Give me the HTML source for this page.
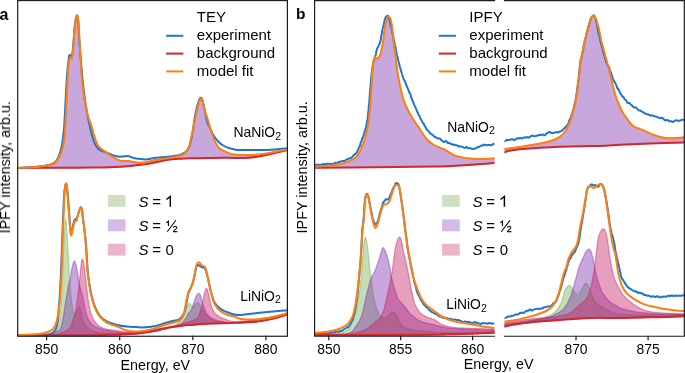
<!DOCTYPE html>
<html><head><meta charset="utf-8"><style>
html,body{margin:0;padding:0;background:#fff;}
svg{display:block;}
text{font-family:"Liberation Sans",sans-serif;}
</style></head><body>
<svg width="685" height="373" viewBox="0 0 685 373">
<rect width="685" height="373" fill="#fff"/>
<defs><clipPath id="ca"><rect x="17.3" y="0.5" width="270" height="335.5"/></clipPath><clipPath id="cbl"><rect x="314.5" y="0.5" width="180" height="335.5"/></clipPath><clipPath id="cbr"><rect x="504.5" y="0.5" width="180" height="335.5"/></clipPath></defs>
<g clip-path="url(#ca)"><path d="M17.3,167.9 L17.8,167.9 L18.3,167.9 L18.8,167.9 L19.3,167.9 L19.8,167.9 L20.3,167.8 L20.8,167.8 L21.3,167.8 L21.8,167.8 L22.3,167.8 L22.8,167.8 L23.3,167.8 L23.8,167.8 L24.3,167.8 L24.8,167.7 L25.3,167.7 L25.8,167.7 L26.3,167.7 L26.8,167.7 L27.3,167.7 L27.8,167.6 L28.3,167.6 L28.8,167.6 L29.3,167.5 L29.8,167.5 L30.3,167.5 L30.8,167.4 L31.3,167.4 L31.8,167.4 L32.3,167.3 L32.8,167.3 L33.3,167.2 L33.8,167.2 L34.3,167.1 L34.8,167.1 L35.3,167.0 L35.8,167.0 L36.3,166.9 L36.8,166.8 L37.3,166.8 L37.8,166.7 L38.3,166.7 L38.8,166.6 L39.3,166.5 L39.8,166.5 L40.3,166.4 L40.8,166.3 L41.3,166.3 L41.8,166.2 L42.3,166.1 L42.8,166.1 L43.3,166.0 L43.8,165.9 L44.3,165.9 L44.8,165.8 L45.3,165.7 L45.8,165.6 L46.3,165.5 L46.8,165.5 L47.3,165.4 L47.8,165.3 L48.3,165.2 L48.8,165.1 L49.3,165.0 L49.8,164.9 L50.3,164.8 L50.8,164.7 L51.3,164.5 L51.8,164.4 L52.3,164.2 L52.8,164.0 L53.3,163.8 L53.8,163.6 L54.3,163.4 L54.8,163.0 L55.3,162.7 L55.8,162.2 L56.3,161.7 L56.8,161.1 L57.3,160.4 L57.8,159.6 L58.3,158.7 L58.8,157.8 L59.3,156.8 L59.8,155.7 L60.3,154.6 L60.8,153.4 L61.3,152.2 L61.8,150.7 L62.3,149.2 L62.8,147.4 L63.3,145.5 L63.8,142.6 L64.3,138.2 L64.8,132.3 L65.3,125.0 L65.8,116.2 L66.3,106.2 L66.8,95.7 L67.3,84.1 L67.8,74.7 L68.3,68.0 L68.8,63.2 L69.3,60.0 L69.8,58.3 L70.3,57.5 L70.8,57.5 L71.3,58.4 L71.8,58.5 L72.3,56.2 L72.8,52.0 L73.3,46.4 L73.8,40.0 L74.3,32.9 L74.8,26.5 L75.3,22.2 L75.8,19.0 L76.3,16.8 L76.8,15.7 L77.3,15.8 L77.8,17.1 L78.3,19.8 L78.8,25.6 L79.3,35.9 L79.8,45.8 L80.3,55.1 L80.8,63.1 L81.3,70.4 L81.8,76.7 L82.3,82.0 L82.8,86.8 L83.3,91.2 L83.8,95.2 L84.3,98.7 L84.8,101.8 L85.3,104.5 L85.8,107.1 L86.3,109.4 L86.8,111.6 L87.3,113.7 L87.8,115.6 L88.3,117.4 L88.8,118.9 L89.3,120.2 L89.8,121.4 L90.3,122.6 L90.8,123.8 L91.3,125.3 L91.8,127.1 L92.3,129.0 L92.8,131.0 L93.3,133.0 L93.8,134.7 L94.3,136.3 L94.8,137.8 L95.3,139.3 L95.8,140.8 L96.3,142.1 L96.8,143.4 L97.3,144.4 L97.8,145.3 L98.3,146.1 L98.8,146.7 L99.3,147.2 L99.8,147.7 L100.3,148.1 L100.8,148.4 L101.3,148.8 L101.8,149.2 L102.3,149.6 L102.8,150.0 L103.3,150.4 L103.8,150.8 L104.3,151.1 L104.8,151.4 L105.3,151.8 L105.8,152.1 L106.3,152.5 L106.8,152.8 L107.3,153.2 L107.8,153.5 L108.3,153.9 L108.8,154.2 L109.3,154.6 L109.8,154.9 L110.3,155.3 L110.8,155.6 L111.3,156.0 L111.8,156.3 L112.3,156.6 L112.8,156.9 L113.3,157.2 L113.8,157.5 L114.3,157.8 L114.8,158.1 L115.3,158.4 L115.8,158.6 L116.3,158.9 L116.8,159.2 L117.3,159.4 L117.8,159.7 L118.3,159.9 L118.8,160.2 L119.3,160.4 L119.8,160.6 L120.3,160.8 L120.8,160.8 L121.3,160.9 L121.8,160.9 L122.3,161.0 L122.8,161.0 L123.3,161.0 L123.8,160.9 L124.3,160.9 L124.8,160.9 L125.3,160.9 L125.8,160.9 L126.3,160.9 L126.8,160.9 L127.3,160.9 L127.8,160.9 L128.3,161.0 L128.8,161.0 L129.3,161.1 L129.8,161.2 L130.3,161.3 L130.8,161.4 L131.3,161.5 L131.8,161.6 L132.3,161.7 L132.8,161.8 L133.3,161.9 L133.8,162.0 L134.3,162.1 L134.8,162.2 L135.3,162.3 L135.8,162.4 L136.3,162.5 L136.8,162.6 L137.3,162.6 L137.8,162.6 L138.3,162.7 L138.8,162.7 L139.3,162.7 L139.8,162.7 L140.3,162.7 L140.8,162.7 L141.3,162.7 L141.8,162.6 L142.3,162.6 L142.8,162.6 L143.3,162.5 L143.8,162.5 L144.3,162.4 L144.8,162.4 L145.3,162.3 L145.8,162.2 L146.3,162.2 L146.8,162.1 L147.3,162.0 L147.8,161.9 L148.3,161.8 L148.8,161.6 L149.3,161.5 L149.8,161.4 L150.3,161.3 L150.8,161.1 L151.3,161.0 L151.8,160.9 L152.3,160.7 L152.8,160.6 L153.3,160.5 L153.8,160.3 L154.3,160.2 L154.8,160.1 L155.3,160.0 L155.8,159.9 L156.3,159.8 L156.8,159.7 L157.3,159.6 L157.8,159.6 L158.3,159.5 L158.8,159.4 L159.3,159.4 L159.8,159.3 L160.3,159.2 L160.8,159.2 L161.3,159.1 L161.8,159.1 L162.3,159.0 L162.8,159.0 L163.3,158.9 L163.8,158.9 L164.3,158.8 L164.8,158.8 L165.3,158.7 L165.8,158.6 L166.3,158.6 L166.8,158.5 L167.3,158.4 L167.8,158.3 L168.3,158.2 L168.8,158.2 L169.3,158.1 L169.8,158.0 L170.3,157.9 L170.8,157.8 L171.3,157.7 L171.8,157.6 L172.3,157.5 L172.8,157.4 L173.3,157.3 L173.8,157.2 L174.3,157.1 L174.8,157.0 L175.3,156.9 L175.8,156.8 L176.3,156.7 L176.8,156.5 L177.3,156.4 L177.8,156.3 L178.3,156.2 L178.8,156.0 L179.3,155.9 L179.8,155.8 L180.3,155.6 L180.8,155.5 L181.3,155.3 L181.8,155.1 L182.3,154.9 L182.8,154.6 L183.3,154.3 L183.8,154.0 L184.3,153.6 L184.8,153.3 L185.3,152.8 L185.8,152.3 L186.3,151.8 L186.8,151.1 L187.3,150.3 L187.8,149.5 L188.3,148.5 L188.8,147.3 L189.3,145.9 L189.8,144.3 L190.3,142.3 L190.8,139.8 L191.3,137.4 L191.8,135.0 L192.3,132.6 L192.8,130.1 L193.3,127.7 L193.8,125.2 L194.3,122.8 L194.8,120.3 L195.3,117.9 L195.8,115.4 L196.3,113.0 L196.8,110.7 L197.3,108.6 L197.8,106.7 L198.3,105.0 L198.8,103.4 L199.3,101.9 L199.8,100.5 L200.3,99.3 L200.8,98.6 L201.3,98.4 L201.8,98.7 L202.3,99.8 L202.8,101.6 L203.3,104.1 L203.8,106.7 L204.3,109.0 L204.8,110.8 L205.3,112.3 L205.8,113.8 L206.3,115.2 L206.8,116.7 L207.3,118.3 L207.8,119.9 L208.3,121.5 L208.8,123.2 L209.3,124.9 L209.8,126.6 L210.3,128.3 L210.8,129.9 L211.3,131.5 L211.8,133.0 L212.3,134.4 L212.8,135.8 L213.3,137.2 L213.8,138.5 L214.3,139.7 L214.8,140.9 L215.3,142.0 L215.8,143.1 L216.3,144.0 L216.8,144.9 L217.3,145.7 L217.8,146.5 L218.3,147.1 L218.8,147.7 L219.3,148.2 L219.8,148.7 L220.3,149.0 L220.8,149.4 L221.3,149.7 L221.8,150.0 L222.3,150.3 L222.8,150.5 L223.3,150.8 L223.8,151.0 L224.3,151.2 L224.8,151.4 L225.3,151.6 L225.8,151.9 L226.3,152.1 L226.8,152.3 L227.3,152.5 L227.8,152.7 L228.3,152.9 L228.8,153.0 L229.3,153.2 L229.8,153.4 L230.3,153.6 L230.8,153.7 L231.3,153.9 L231.8,154.0 L232.3,154.1 L232.8,154.2 L233.3,154.3 L233.8,154.4 L234.3,154.5 L234.8,154.6 L235.3,154.6 L235.8,154.7 L236.3,154.7 L236.8,154.8 L237.3,154.8 L237.8,154.8 L238.3,154.9 L238.8,154.9 L239.3,154.9 L239.8,154.9 L240.3,155.0 L240.8,155.0 L241.3,155.0 L241.8,155.0 L242.3,155.0 L242.8,155.0 L243.3,155.0 L243.8,155.0 L244.3,155.0 L244.8,155.0 L245.3,155.0 L245.8,155.0 L246.3,155.0 L246.8,155.0 L247.3,155.0 L247.8,155.0 L248.3,155.0 L248.8,155.0 L249.3,154.9 L249.8,154.9 L250.3,154.9 L250.8,154.9 L251.3,154.9 L251.8,154.9 L252.3,154.9 L252.8,154.9 L253.3,154.8 L253.8,154.8 L254.3,154.8 L254.8,154.8 L255.3,154.8 L255.8,154.7 L256.3,154.7 L256.8,154.7 L257.3,154.7 L257.8,154.6 L258.3,154.6 L258.8,154.6 L259.3,154.5 L259.8,154.5 L260.3,154.4 L260.8,154.4 L261.3,154.3 L261.8,154.2 L262.3,154.2 L262.8,154.1 L263.3,154.0 L263.8,154.0 L264.3,153.9 L264.8,153.8 L265.3,153.7 L265.8,153.6 L266.3,153.5 L266.8,153.5 L267.3,153.4 L267.8,153.3 L268.3,153.2 L268.8,153.1 L269.3,153.0 L269.8,152.9 L270.3,152.8 L270.8,152.6 L271.3,152.5 L271.8,152.4 L272.3,152.3 L272.8,152.2 L273.3,152.1 L273.8,151.9 L274.3,151.8 L274.8,151.7 L275.3,151.6 L275.8,151.5 L276.3,151.4 L276.8,151.3 L277.3,151.2 L277.8,151.1 L278.3,151.0 L278.8,150.9 L279.3,150.8 L279.8,150.7 L280.3,150.7 L280.8,150.6 L281.3,150.5 L281.8,150.4 L282.3,150.4 L282.8,150.3 L283.3,150.2 L283.8,150.1 L284.3,150.1 L284.8,150.0 L285.3,149.9 L285.8,149.8 L286.3,149.8 L286.8,149.7 L287.3,149.6 L287.8,149.5 L287.8,150.0 L287.3,150.2 L286.8,150.3 L286.3,150.4 L285.8,150.5 L285.3,150.6 L284.8,150.7 L284.3,150.8 L283.8,151.0 L283.3,151.1 L282.8,151.2 L282.3,151.3 L281.8,151.4 L281.3,151.5 L280.8,151.7 L280.3,151.8 L279.8,151.9 L279.3,152.0 L278.8,152.1 L278.3,152.2 L277.8,152.3 L277.3,152.5 L276.8,152.6 L276.3,152.7 L275.8,152.8 L275.3,152.9 L274.8,153.1 L274.3,153.2 L273.8,153.3 L273.3,153.4 L272.8,153.6 L272.3,153.7 L271.8,153.8 L271.3,153.9 L270.8,154.0 L270.3,154.1 L269.8,154.2 L269.3,154.3 L268.8,154.5 L268.3,154.6 L267.8,154.7 L267.3,154.8 L266.8,154.9 L266.3,155.0 L265.8,155.1 L265.3,155.2 L264.8,155.3 L264.3,155.4 L263.8,155.5 L263.3,155.6 L262.8,155.7 L262.3,155.8 L261.8,155.9 L261.3,156.0 L260.8,156.1 L260.3,156.2 L259.8,156.3 L259.3,156.4 L258.8,156.5 L258.3,156.5 L257.8,156.6 L257.3,156.7 L256.8,156.8 L256.3,156.8 L255.8,156.9 L255.3,157.0 L254.8,157.0 L254.3,157.1 L253.8,157.2 L253.3,157.2 L252.8,157.3 L252.3,157.3 L251.8,157.4 L251.3,157.4 L250.8,157.5 L250.3,157.5 L249.8,157.6 L249.3,157.6 L248.8,157.6 L248.3,157.7 L247.8,157.7 L247.3,157.7 L246.8,157.8 L246.3,157.8 L245.8,157.8 L245.3,157.8 L244.8,157.9 L244.3,157.9 L243.8,157.9 L243.3,157.9 L242.8,157.9 L242.3,157.9 L241.8,157.9 L241.3,157.9 L240.8,158.0 L240.3,158.0 L239.8,157.9 L239.3,157.9 L238.8,157.9 L238.3,157.9 L237.8,157.9 L237.3,157.9 L236.8,157.9 L236.3,157.9 L235.8,157.9 L235.3,157.9 L234.8,157.9 L234.3,157.9 L233.8,157.9 L233.3,157.9 L232.8,157.8 L232.3,157.8 L231.8,157.8 L231.3,157.8 L230.8,157.8 L230.3,157.8 L229.8,157.8 L229.3,157.8 L228.8,157.8 L228.3,157.8 L227.8,157.8 L227.3,157.8 L226.8,157.8 L226.3,157.8 L225.8,157.8 L225.3,157.8 L224.8,157.8 L224.3,157.8 L223.8,157.8 L223.3,157.8 L222.8,157.8 L222.3,157.8 L221.8,157.8 L221.3,157.8 L220.8,157.8 L220.3,157.9 L219.8,157.9 L219.3,157.9 L218.8,157.9 L218.3,157.9 L217.8,157.9 L217.3,157.9 L216.8,157.9 L216.3,157.9 L215.8,157.9 L215.3,157.9 L214.8,157.9 L214.3,157.9 L213.8,157.9 L213.3,158.0 L212.8,158.0 L212.3,158.0 L211.8,158.0 L211.3,158.0 L210.8,158.0 L210.3,158.0 L209.8,158.0 L209.3,158.0 L208.8,158.0 L208.3,158.0 L207.8,158.1 L207.3,158.1 L206.8,158.1 L206.3,158.1 L205.8,158.1 L205.3,158.1 L204.8,158.1 L204.3,158.1 L203.8,158.1 L203.3,158.1 L202.8,158.1 L202.3,158.2 L201.8,158.2 L201.3,158.2 L200.8,158.2 L200.3,158.2 L199.8,158.2 L199.3,158.2 L198.8,158.2 L198.3,158.2 L197.8,158.2 L197.3,158.3 L196.8,158.3 L196.3,158.3 L195.8,158.3 L195.3,158.3 L194.8,158.3 L194.3,158.3 L193.8,158.3 L193.3,158.3 L192.8,158.3 L192.3,158.4 L191.8,158.4 L191.3,158.4 L190.8,158.4 L190.3,158.4 L189.8,158.4 L189.3,158.4 L188.8,158.4 L188.3,158.4 L187.8,158.4 L187.3,158.5 L186.8,158.5 L186.3,158.5 L185.8,158.5 L185.3,158.5 L184.8,158.5 L184.3,158.5 L183.8,158.5 L183.3,158.6 L182.8,158.6 L182.3,158.6 L181.8,158.6 L181.3,158.6 L180.8,158.7 L180.3,158.7 L179.8,158.7 L179.3,158.7 L178.8,158.8 L178.3,158.8 L177.8,158.8 L177.3,158.9 L176.8,158.9 L176.3,158.9 L175.8,159.0 L175.3,159.0 L174.8,159.1 L174.3,159.1 L173.8,159.1 L173.3,159.2 L172.8,159.3 L172.3,159.3 L171.8,159.4 L171.3,159.4 L170.8,159.5 L170.3,159.6 L169.8,159.6 L169.3,159.7 L168.8,159.8 L168.3,159.9 L167.8,159.9 L167.3,160.0 L166.8,160.1 L166.3,160.2 L165.8,160.3 L165.3,160.4 L164.8,160.5 L164.3,160.6 L163.8,160.7 L163.3,160.8 L162.8,160.8 L162.3,160.9 L161.8,161.0 L161.3,161.1 L160.8,161.2 L160.3,161.3 L159.8,161.4 L159.3,161.5 L158.8,161.6 L158.3,161.7 L157.8,161.9 L157.3,162.0 L156.8,162.1 L156.3,162.2 L155.8,162.3 L155.3,162.4 L154.8,162.5 L154.3,162.6 L153.8,162.7 L153.3,162.9 L152.8,163.0 L152.3,163.1 L151.8,163.2 L151.3,163.3 L150.8,163.4 L150.3,163.4 L149.8,163.5 L149.3,163.6 L148.8,163.7 L148.3,163.8 L147.8,163.8 L147.3,163.9 L146.8,164.0 L146.3,164.0 L145.8,164.1 L145.3,164.2 L144.8,164.2 L144.3,164.3 L143.8,164.3 L143.3,164.4 L142.8,164.5 L142.3,164.5 L141.8,164.6 L141.3,164.6 L140.8,164.7 L140.3,164.8 L139.8,164.8 L139.3,164.9 L138.8,165.0 L138.3,165.0 L137.8,165.1 L137.3,165.1 L136.8,165.2 L136.3,165.3 L135.8,165.3 L135.3,165.4 L134.8,165.5 L134.3,165.5 L133.8,165.6 L133.3,165.6 L132.8,165.7 L132.3,165.8 L131.8,165.8 L131.3,165.9 L130.8,165.9 L130.3,166.0 L129.8,166.1 L129.3,166.1 L128.8,166.2 L128.3,166.2 L127.8,166.3 L127.3,166.4 L126.8,166.4 L126.3,166.4 L125.8,166.5 L125.3,166.5 L124.8,166.6 L124.3,166.6 L123.8,166.6 L123.3,166.7 L122.8,166.7 L122.3,166.7 L121.8,166.7 L121.3,166.8 L120.8,166.8 L120.3,166.8 L119.8,166.8 L119.3,166.9 L118.8,166.9 L118.3,166.9 L117.8,166.9 L117.3,166.9 L116.8,167.0 L116.3,167.0 L115.8,167.0 L115.3,167.0 L114.8,167.0 L114.3,167.1 L113.8,167.1 L113.3,167.1 L112.8,167.1 L112.3,167.1 L111.8,167.1 L111.3,167.2 L110.8,167.2 L110.3,167.2 L109.8,167.2 L109.3,167.2 L108.8,167.2 L108.3,167.2 L107.8,167.3 L107.3,167.3 L106.8,167.3 L106.3,167.3 L105.8,167.3 L105.3,167.3 L104.8,167.3 L104.3,167.3 L103.8,167.4 L103.3,167.4 L102.8,167.4 L102.3,167.4 L101.8,167.4 L101.3,167.4 L100.8,167.4 L100.3,167.4 L99.8,167.4 L99.3,167.4 L98.8,167.4 L98.3,167.4 L97.8,167.5 L97.3,167.5 L96.8,167.5 L96.3,167.5 L95.8,167.5 L95.3,167.5 L94.8,167.5 L94.3,167.5 L93.8,167.5 L93.3,167.5 L92.8,167.5 L92.3,167.5 L91.8,167.6 L91.3,167.6 L90.8,167.6 L90.3,167.6 L89.8,167.6 L89.3,167.6 L88.8,167.6 L88.3,167.6 L87.8,167.6 L87.3,167.6 L86.8,167.6 L86.3,167.6 L85.8,167.6 L85.3,167.6 L84.8,167.6 L84.3,167.7 L83.8,167.7 L83.3,167.7 L82.8,167.7 L82.3,167.7 L81.8,167.7 L81.3,167.7 L80.8,167.7 L80.3,167.7 L79.8,167.7 L79.3,167.7 L78.8,167.7 L78.3,167.7 L77.8,167.7 L77.3,167.7 L76.8,167.7 L76.3,167.7 L75.8,167.7 L75.3,167.7 L74.8,167.7 L74.3,167.7 L73.8,167.7 L73.3,167.7 L72.8,167.7 L72.3,167.7 L71.8,167.7 L71.3,167.7 L70.8,167.7 L70.3,167.7 L69.8,167.7 L69.3,167.7 L68.8,167.7 L68.3,167.7 L67.8,167.7 L67.3,167.7 L66.8,167.7 L66.3,167.7 L65.8,167.7 L65.3,167.7 L64.8,167.8 L64.3,167.8 L63.8,167.8 L63.3,167.8 L62.8,167.8 L62.3,167.8 L61.8,167.8 L61.3,167.8 L60.8,167.8 L60.3,167.8 L59.8,167.8 L59.3,167.8 L58.8,167.8 L58.3,167.8 L57.8,167.8 L57.3,167.8 L56.8,167.8 L56.3,167.8 L55.8,167.8 L55.3,167.8 L54.8,167.8 L54.3,167.8 L53.8,167.8 L53.3,167.8 L52.8,167.8 L52.3,167.8 L51.8,167.8 L51.3,167.8 L50.8,167.8 L50.3,167.8 L49.8,167.8 L49.3,167.8 L48.8,167.8 L48.3,167.8 L47.8,167.8 L47.3,167.8 L46.8,167.8 L46.3,167.8 L45.8,167.8 L45.3,167.8 L44.8,167.8 L44.3,167.8 L43.8,167.8 L43.3,167.8 L42.8,167.8 L42.3,167.8 L41.8,167.8 L41.3,167.8 L40.8,167.8 L40.3,167.8 L39.8,167.8 L39.3,167.8 L38.8,167.8 L38.3,167.8 L37.8,167.8 L37.3,167.8 L36.8,167.8 L36.3,167.8 L35.8,167.8 L35.3,167.8 L34.8,167.8 L34.3,167.8 L33.8,167.8 L33.3,167.9 L32.8,167.9 L32.3,167.9 L31.8,167.9 L31.3,167.9 L30.8,167.9 L30.3,167.9 L29.8,167.9 L29.3,167.9 L28.8,167.9 L28.3,167.9 L27.8,167.9 L27.3,167.9 L26.8,167.9 L26.3,167.9 L25.8,167.9 L25.3,167.9 L24.8,167.9 L24.3,167.9 L23.8,167.9 L23.3,167.9 L22.8,167.9 L22.3,167.9 L21.8,167.9 L21.3,167.9 L20.8,167.9 L20.3,167.9 L19.8,167.9 L19.3,167.9 L18.8,167.9 L18.3,167.9 L17.8,167.9 L17.3,167.9 Z" fill="rgb(125,45,175)" fill-opacity="0.42" stroke="rgb(125,45,175)" stroke-opacity="0.42" stroke-width="1"/></g>
<g clip-path="url(#cbl)"><path d="M314.5,166.8 L315.0,166.8 L315.5,166.7 L316.0,166.7 L316.5,166.6 L317.0,166.6 L317.5,166.6 L318.0,166.5 L318.5,166.5 L319.0,166.4 L319.5,166.4 L320.0,166.4 L320.5,166.3 L321.0,166.3 L321.5,166.2 L322.0,166.2 L322.5,166.2 L323.0,166.1 L323.5,166.1 L324.0,166.0 L324.5,166.0 L325.0,165.9 L325.5,165.9 L326.0,165.9 L326.5,165.8 L327.0,165.8 L327.5,165.7 L328.0,165.7 L328.5,165.6 L329.0,165.6 L329.5,165.5 L330.0,165.5 L330.5,165.4 L331.0,165.4 L331.5,165.3 L332.0,165.3 L332.5,165.2 L333.0,165.2 L333.5,165.1 L334.0,165.1 L334.5,165.0 L335.0,164.9 L335.5,164.8 L336.0,164.8 L336.5,164.7 L337.0,164.6 L337.5,164.5 L338.0,164.4 L338.5,164.3 L339.0,164.2 L339.5,164.1 L340.0,164.0 L340.5,163.9 L341.0,163.8 L341.5,163.7 L342.0,163.5 L342.5,163.4 L343.0,163.3 L343.5,163.2 L344.0,163.0 L344.5,162.9 L345.0,162.8 L345.5,162.6 L346.0,162.5 L346.5,162.3 L347.0,162.1 L347.5,162.0 L348.0,161.8 L348.5,161.6 L349.0,161.4 L349.5,161.2 L350.0,161.0 L350.5,160.7 L351.0,160.5 L351.5,160.3 L352.0,160.0 L352.5,159.7 L353.0,159.4 L353.5,159.1 L354.0,158.8 L354.5,158.4 L355.0,158.0 L355.5,157.6 L356.0,157.2 L356.5,156.7 L357.0,156.1 L357.5,155.5 L358.0,154.8 L358.5,154.1 L359.0,153.3 L359.5,152.4 L360.0,151.3 L360.5,150.2 L361.0,148.9 L361.5,147.6 L362.0,146.4 L362.5,145.2 L363.0,144.0 L363.5,142.8 L364.0,141.5 L364.5,140.0 L365.0,138.3 L365.5,136.3 L366.0,134.2 L366.5,132.0 L367.0,129.9 L367.5,127.8 L368.0,125.4 L368.5,122.2 L369.0,118.0 L369.5,113.1 L370.0,107.9 L370.5,102.1 L371.0,95.3 L371.5,87.0 L372.0,78.2 L372.5,69.3 L373.0,63.9 L373.5,60.7 L374.0,58.8 L374.5,57.7 L375.0,57.2 L375.5,57.3 L376.0,57.8 L376.5,58.2 L377.0,58.3 L377.5,58.3 L378.0,58.2 L378.5,57.7 L379.0,57.0 L379.5,56.2 L380.0,55.2 L380.5,53.9 L381.0,51.9 L381.5,49.9 L382.0,47.5 L382.5,44.9 L383.0,42.0 L383.5,38.4 L384.0,33.5 L384.5,29.0 L385.0,26.2 L385.5,24.2 L386.0,22.1 L386.5,20.1 L387.0,18.5 L387.5,17.5 L388.0,16.8 L388.5,16.5 L389.0,16.6 L389.5,17.2 L390.0,18.0 L390.5,19.3 L391.0,21.2 L391.5,23.3 L392.0,26.0 L392.5,30.7 L393.0,37.0 L393.5,41.6 L394.0,45.2 L394.5,48.5 L395.0,52.0 L395.5,56.2 L396.0,60.7 L396.5,64.8 L397.0,68.6 L397.5,72.2 L398.0,75.4 L398.5,78.3 L399.0,80.9 L399.5,83.4 L400.0,85.8 L400.5,88.0 L401.0,90.2 L401.5,92.3 L402.0,94.4 L402.5,96.3 L403.0,98.1 L403.5,99.7 L404.0,101.2 L404.5,102.5 L405.0,103.8 L405.5,105.0 L406.0,106.2 L406.5,107.3 L407.0,108.4 L407.5,109.4 L408.0,110.4 L408.5,111.4 L409.0,112.3 L409.5,113.2 L410.0,114.1 L410.5,114.9 L411.0,115.8 L411.5,116.6 L412.0,117.4 L412.5,118.2 L413.0,119.0 L413.5,119.8 L414.0,120.5 L414.5,121.3 L415.0,122.0 L415.5,122.8 L416.0,123.5 L416.5,124.2 L417.0,124.9 L417.5,125.7 L418.0,126.4 L418.5,127.1 L419.0,127.8 L419.5,128.6 L420.0,129.3 L420.5,130.1 L421.0,130.9 L421.5,131.7 L422.0,132.5 L422.5,133.3 L423.0,134.1 L423.5,134.9 L424.0,135.6 L424.5,136.4 L425.0,137.1 L425.5,137.8 L426.0,138.4 L426.5,139.0 L427.0,139.5 L427.5,140.1 L428.0,140.6 L428.5,141.0 L429.0,141.5 L429.5,141.9 L430.0,142.3 L430.5,142.7 L431.0,143.1 L431.5,143.4 L432.0,143.8 L432.5,144.1 L433.0,144.4 L433.5,144.7 L434.0,145.0 L434.5,145.3 L435.0,145.5 L435.5,145.8 L436.0,146.0 L436.5,146.2 L437.0,146.4 L437.5,146.6 L438.0,146.8 L438.5,147.0 L439.0,147.2 L439.5,147.4 L440.0,147.6 L440.5,147.8 L441.0,148.0 L441.5,148.2 L442.0,148.4 L442.5,148.6 L443.0,148.8 L443.5,149.0 L444.0,149.3 L444.5,149.5 L445.0,149.8 L445.5,150.1 L446.0,150.4 L446.5,150.7 L447.0,151.0 L447.5,151.3 L448.0,151.7 L448.5,152.0 L449.0,152.4 L449.5,152.7 L450.0,153.0 L450.5,153.3 L451.0,153.6 L451.5,153.9 L452.0,154.2 L452.5,154.5 L453.0,154.7 L453.5,155.0 L454.0,155.2 L454.5,155.4 L455.0,155.6 L455.5,155.8 L456.0,155.9 L456.5,156.1 L457.0,156.2 L457.5,156.4 L458.0,156.5 L458.5,156.6 L459.0,156.7 L459.5,156.9 L460.0,157.0 L460.5,157.1 L461.0,157.2 L461.5,157.3 L462.0,157.4 L462.5,157.5 L463.0,157.5 L463.5,157.6 L464.0,157.7 L464.5,157.8 L465.0,157.9 L465.5,158.0 L466.0,158.0 L466.5,158.1 L467.0,158.2 L467.5,158.3 L468.0,158.3 L468.5,158.4 L469.0,158.5 L469.5,158.5 L470.0,158.6 L470.5,158.6 L471.0,158.7 L471.5,158.8 L472.0,158.8 L472.5,158.9 L473.0,158.9 L473.5,158.9 L474.0,159.0 L474.5,159.0 L475.0,159.0 L475.5,159.0 L476.0,159.0 L476.5,159.0 L477.0,159.0 L477.5,159.0 L478.0,159.0 L478.5,159.0 L479.0,159.0 L479.5,159.0 L480.0,159.0 L480.5,159.0 L481.0,159.0 L481.5,159.0 L482.0,159.0 L482.5,159.0 L483.0,159.0 L483.5,158.9 L484.0,158.9 L484.5,158.9 L485.0,158.9 L485.5,158.8 L486.0,158.8 L486.5,158.8 L487.0,158.8 L487.5,158.7 L488.0,158.7 L488.5,158.7 L489.0,158.6 L489.5,158.6 L490.0,158.6 L490.5,158.6 L491.0,158.5 L491.5,158.5 L492.0,158.5 L492.5,158.4 L493.0,158.4 L493.5,158.4 L494.0,158.3 L494.5,158.3 L494.5,163.0 L494.0,163.0 L493.5,163.1 L493.0,163.1 L492.5,163.2 L492.0,163.2 L491.5,163.3 L491.0,163.3 L490.5,163.3 L490.0,163.4 L489.5,163.4 L489.0,163.5 L488.5,163.5 L488.0,163.6 L487.5,163.6 L487.0,163.6 L486.5,163.7 L486.0,163.7 L485.5,163.8 L485.0,163.8 L484.5,163.9 L484.0,163.9 L483.5,163.9 L483.0,164.0 L482.5,164.0 L482.0,164.1 L481.5,164.1 L481.0,164.1 L480.5,164.2 L480.0,164.2 L479.5,164.3 L479.0,164.3 L478.5,164.3 L478.0,164.4 L477.5,164.4 L477.0,164.5 L476.5,164.5 L476.0,164.5 L475.5,164.6 L475.0,164.6 L474.5,164.6 L474.0,164.7 L473.5,164.7 L473.0,164.7 L472.5,164.8 L472.0,164.8 L471.5,164.8 L471.0,164.9 L470.5,164.9 L470.0,164.9 L469.5,165.0 L469.0,165.0 L468.5,165.0 L468.0,165.1 L467.5,165.1 L467.0,165.1 L466.5,165.2 L466.0,165.2 L465.5,165.2 L465.0,165.3 L464.5,165.3 L464.0,165.3 L463.5,165.4 L463.0,165.4 L462.5,165.4 L462.0,165.4 L461.5,165.5 L461.0,165.5 L460.5,165.5 L460.0,165.5 L459.5,165.6 L459.0,165.6 L458.5,165.6 L458.0,165.7 L457.5,165.7 L457.0,165.7 L456.5,165.7 L456.0,165.8 L455.5,165.8 L455.0,165.8 L454.5,165.8 L454.0,165.8 L453.5,165.9 L453.0,165.9 L452.5,165.9 L452.0,165.9 L451.5,166.0 L451.0,166.0 L450.5,166.0 L450.0,166.0 L449.5,166.1 L449.0,166.1 L448.5,166.1 L448.0,166.1 L447.5,166.2 L447.0,166.2 L446.5,166.2 L446.0,166.2 L445.5,166.2 L445.0,166.2 L444.5,166.3 L444.0,166.3 L443.5,166.3 L443.0,166.3 L442.5,166.3 L442.0,166.3 L441.5,166.3 L441.0,166.4 L440.5,166.4 L440.0,166.4 L439.5,166.4 L439.0,166.4 L438.5,166.4 L438.0,166.4 L437.5,166.4 L437.0,166.4 L436.5,166.5 L436.0,166.5 L435.5,166.5 L435.0,166.5 L434.5,166.5 L434.0,166.5 L433.5,166.5 L433.0,166.5 L432.5,166.5 L432.0,166.5 L431.5,166.5 L431.0,166.6 L430.5,166.6 L430.0,166.6 L429.5,166.6 L429.0,166.6 L428.5,166.6 L428.0,166.6 L427.5,166.6 L427.0,166.6 L426.5,166.6 L426.0,166.6 L425.5,166.6 L425.0,166.7 L424.5,166.7 L424.0,166.7 L423.5,166.7 L423.0,166.7 L422.5,166.7 L422.0,166.7 L421.5,166.7 L421.0,166.7 L420.5,166.7 L420.0,166.7 L419.5,166.7 L419.0,166.7 L418.5,166.8 L418.0,166.8 L417.5,166.8 L417.0,166.8 L416.5,166.8 L416.0,166.8 L415.5,166.8 L415.0,166.8 L414.5,166.8 L414.0,166.8 L413.5,166.8 L413.0,166.8 L412.5,166.8 L412.0,166.8 L411.5,166.8 L411.0,166.9 L410.5,166.9 L410.0,166.9 L409.5,166.9 L409.0,166.9 L408.5,166.9 L408.0,166.9 L407.5,166.9 L407.0,166.9 L406.5,166.9 L406.0,166.9 L405.5,166.9 L405.0,166.9 L404.5,166.9 L404.0,166.9 L403.5,167.0 L403.0,167.0 L402.5,167.0 L402.0,167.0 L401.5,167.0 L401.0,167.0 L400.5,167.0 L400.0,167.0 L399.5,167.0 L399.0,167.0 L398.5,167.0 L398.0,167.0 L397.5,167.0 L397.0,167.0 L396.5,167.0 L396.0,167.1 L395.5,167.1 L395.0,167.1 L394.5,167.1 L394.0,167.1 L393.5,167.1 L393.0,167.1 L392.5,167.1 L392.0,167.1 L391.5,167.1 L391.0,167.1 L390.5,167.1 L390.0,167.1 L389.5,167.1 L389.0,167.1 L388.5,167.1 L388.0,167.1 L387.5,167.2 L387.0,167.2 L386.5,167.2 L386.0,167.2 L385.5,167.2 L385.0,167.2 L384.5,167.2 L384.0,167.2 L383.5,167.2 L383.0,167.2 L382.5,167.2 L382.0,167.2 L381.5,167.2 L381.0,167.2 L380.5,167.2 L380.0,167.2 L379.5,167.2 L379.0,167.2 L378.5,167.3 L378.0,167.3 L377.5,167.3 L377.0,167.3 L376.5,167.3 L376.0,167.3 L375.5,167.3 L375.0,167.3 L374.5,167.3 L374.0,167.3 L373.5,167.3 L373.0,167.3 L372.5,167.3 L372.0,167.3 L371.5,167.3 L371.0,167.3 L370.5,167.3 L370.0,167.3 L369.5,167.3 L369.0,167.3 L368.5,167.4 L368.0,167.4 L367.5,167.4 L367.0,167.4 L366.5,167.4 L366.0,167.4 L365.5,167.4 L365.0,167.4 L364.5,167.4 L364.0,167.4 L363.5,167.4 L363.0,167.4 L362.5,167.4 L362.0,167.4 L361.5,167.4 L361.0,167.4 L360.5,167.4 L360.0,167.4 L359.5,167.4 L359.0,167.4 L358.5,167.4 L358.0,167.4 L357.5,167.4 L357.0,167.4 L356.5,167.4 L356.0,167.4 L355.5,167.5 L355.0,167.5 L354.5,167.5 L354.0,167.5 L353.5,167.5 L353.0,167.5 L352.5,167.5 L352.0,167.5 L351.5,167.5 L351.0,167.5 L350.5,167.5 L350.0,167.5 L349.5,167.5 L349.0,167.5 L348.5,167.5 L348.0,167.5 L347.5,167.5 L347.0,167.5 L346.5,167.5 L346.0,167.5 L345.5,167.5 L345.0,167.5 L344.5,167.5 L344.0,167.5 L343.5,167.5 L343.0,167.5 L342.5,167.5 L342.0,167.5 L341.5,167.5 L341.0,167.5 L340.5,167.5 L340.0,167.6 L339.5,167.6 L339.0,167.6 L338.5,167.6 L338.0,167.6 L337.5,167.6 L337.0,167.6 L336.5,167.6 L336.0,167.6 L335.5,167.6 L335.0,167.6 L334.5,167.6 L334.0,167.6 L333.5,167.6 L333.0,167.6 L332.5,167.6 L332.0,167.6 L331.5,167.6 L331.0,167.6 L330.5,167.6 L330.0,167.6 L329.5,167.6 L329.0,167.6 L328.5,167.6 L328.0,167.6 L327.5,167.6 L327.0,167.6 L326.5,167.6 L326.0,167.6 L325.5,167.6 L325.0,167.6 L324.5,167.6 L324.0,167.6 L323.5,167.6 L323.0,167.6 L322.5,167.7 L322.0,167.7 L321.5,167.7 L321.0,167.7 L320.5,167.7 L320.0,167.7 L319.5,167.7 L319.0,167.7 L318.5,167.7 L318.0,167.7 L317.5,167.7 L317.0,167.7 L316.5,167.7 L316.0,167.7 L315.5,167.7 L315.0,167.7 L314.5,167.7 Z" fill="rgb(125,45,175)" fill-opacity="0.42" stroke="rgb(125,45,175)" stroke-opacity="0.42" stroke-width="1"/></g>
<g clip-path="url(#cbr)"><path d="M504.5,149.0 L505.0,148.9 L505.5,148.9 L506.0,148.8 L506.5,148.7 L507.0,148.7 L507.5,148.6 L508.0,148.5 L508.5,148.5 L509.0,148.4 L509.5,148.3 L510.0,148.3 L510.5,148.2 L511.0,148.1 L511.5,148.0 L512.0,148.0 L512.5,147.9 L513.0,147.8 L513.5,147.8 L514.0,147.7 L514.5,147.6 L515.0,147.5 L515.5,147.5 L516.0,147.4 L516.5,147.3 L517.0,147.3 L517.5,147.2 L518.0,147.1 L518.5,147.0 L519.0,147.0 L519.5,146.9 L520.0,146.8 L520.5,146.7 L521.0,146.6 L521.5,146.6 L522.0,146.5 L522.5,146.4 L523.0,146.3 L523.5,146.3 L524.0,146.2 L524.5,146.1 L525.0,146.0 L525.5,145.9 L526.0,145.9 L526.5,145.8 L527.0,145.7 L527.5,145.6 L528.0,145.6 L528.5,145.5 L529.0,145.4 L529.5,145.3 L530.0,145.2 L530.5,145.1 L531.0,145.1 L531.5,145.0 L532.0,144.9 L532.5,144.8 L533.0,144.8 L533.5,144.7 L534.0,144.6 L534.5,144.5 L535.0,144.4 L535.5,144.4 L536.0,144.3 L536.5,144.2 L537.0,144.1 L537.5,144.1 L538.0,144.0 L538.5,143.9 L539.0,143.8 L539.5,143.7 L540.0,143.6 L540.5,143.5 L541.0,143.5 L541.5,143.4 L542.0,143.3 L542.5,143.2 L543.0,143.1 L543.5,143.0 L544.0,142.8 L544.5,142.7 L545.0,142.6 L545.5,142.5 L546.0,142.4 L546.5,142.2 L547.0,142.1 L547.5,141.9 L548.0,141.8 L548.5,141.7 L549.0,141.5 L549.5,141.4 L550.0,141.2 L550.5,141.0 L551.0,140.9 L551.5,140.7 L552.0,140.6 L552.5,140.4 L553.0,140.2 L553.5,140.0 L554.0,139.8 L554.5,139.7 L555.0,139.5 L555.5,139.3 L556.0,139.0 L556.5,138.8 L557.0,138.5 L557.5,138.3 L558.0,138.0 L558.5,137.6 L559.0,137.3 L559.5,136.9 L560.0,136.6 L560.5,136.3 L561.0,135.9 L561.5,135.5 L562.0,135.1 L562.5,134.6 L563.0,134.1 L563.5,133.5 L564.0,133.0 L564.5,132.3 L565.0,131.7 L565.5,131.0 L566.0,130.2 L566.5,129.4 L567.0,128.4 L567.5,127.5 L568.0,126.4 L568.5,125.3 L569.0,124.1 L569.5,122.8 L570.0,121.4 L570.5,120.0 L571.0,118.6 L571.5,117.1 L572.0,115.6 L572.5,113.9 L573.0,112.2 L573.5,110.4 L574.0,108.5 L574.5,106.4 L575.0,104.0 L575.5,101.5 L576.0,98.8 L576.5,95.9 L577.0,92.7 L577.5,89.0 L578.0,85.2 L578.5,81.3 L579.0,77.1 L579.5,72.4 L580.0,67.2 L580.5,62.0 L581.0,59.1 L581.5,56.6 L582.0,54.4 L582.5,52.0 L583.0,49.5 L583.5,46.9 L584.0,44.4 L584.5,42.1 L585.0,40.0 L585.5,38.1 L586.0,36.2 L586.5,34.2 L587.0,32.0 L587.5,29.9 L588.0,27.9 L588.5,26.0 L589.0,24.3 L589.5,22.6 L590.0,21.0 L590.5,19.5 L591.0,18.3 L591.5,17.4 L592.0,16.8 L592.5,16.3 L593.0,16.1 L593.5,16.0 L594.0,16.1 L594.5,16.5 L595.0,17.1 L595.5,17.9 L596.0,19.0 L596.5,20.3 L597.0,22.0 L597.5,23.8 L598.0,25.7 L598.5,27.7 L599.0,29.8 L599.5,32.0 L600.0,34.4 L600.5,36.9 L601.0,39.3 L601.5,41.6 L602.0,43.7 L602.5,45.6 L603.0,47.4 L603.5,49.2 L604.0,50.9 L604.5,52.7 L605.0,54.5 L605.5,56.3 L606.0,58.2 L606.5,60.0 L607.0,61.9 L607.5,63.8 L608.0,65.7 L608.5,67.6 L609.0,69.6 L609.5,71.5 L610.0,73.5 L610.5,75.6 L611.0,77.8 L611.5,80.0 L612.0,82.3 L612.5,84.5 L613.0,86.5 L613.5,88.4 L614.0,90.2 L614.5,92.0 L615.0,93.8 L615.5,95.5 L616.0,97.0 L616.5,98.5 L617.0,99.9 L617.5,101.2 L618.0,102.5 L618.5,103.7 L619.0,104.9 L619.5,106.0 L620.0,107.1 L620.5,108.2 L621.0,109.2 L621.5,110.2 L622.0,111.2 L622.5,112.1 L623.0,113.0 L623.5,113.8 L624.0,114.6 L624.5,115.3 L625.0,116.0 L625.5,116.7 L626.0,117.3 L626.5,118.0 L627.0,118.7 L627.5,119.4 L628.0,120.2 L628.5,120.9 L629.0,121.6 L629.5,122.2 L630.0,122.9 L630.5,123.5 L631.0,124.1 L631.5,124.6 L632.0,125.1 L632.5,125.6 L633.0,126.0 L633.5,126.4 L634.0,126.7 L634.5,127.0 L635.0,127.2 L635.5,127.4 L636.0,127.6 L636.5,127.8 L637.0,128.0 L637.5,128.1 L638.0,128.3 L638.5,128.5 L639.0,128.7 L639.5,128.8 L640.0,129.0 L640.5,129.1 L641.0,129.3 L641.5,129.5 L642.0,129.7 L642.5,129.9 L643.0,130.1 L643.5,130.3 L644.0,130.5 L644.5,130.7 L645.0,130.9 L645.5,131.2 L646.0,131.4 L646.5,131.7 L647.0,131.9 L647.5,132.1 L648.0,132.4 L648.5,132.6 L649.0,132.9 L649.5,133.1 L650.0,133.3 L650.5,133.6 L651.0,133.8 L651.5,134.0 L652.0,134.2 L652.5,134.4 L653.0,134.6 L653.5,134.8 L654.0,134.9 L654.5,135.1 L655.0,135.3 L655.5,135.5 L656.0,135.6 L656.5,135.8 L657.0,136.0 L657.5,136.1 L658.0,136.3 L658.5,136.4 L659.0,136.6 L659.5,136.7 L660.0,136.9 L660.5,137.0 L661.0,137.1 L661.5,137.3 L662.0,137.4 L662.5,137.5 L663.0,137.6 L663.5,137.7 L664.0,137.8 L664.5,137.9 L665.0,138.0 L665.5,138.0 L666.0,138.1 L666.5,138.1 L667.0,138.2 L667.5,138.2 L668.0,138.2 L668.5,138.3 L669.0,138.3 L669.5,138.3 L670.0,138.3 L670.5,138.3 L671.0,138.3 L671.5,138.3 L672.0,138.3 L672.5,138.2 L673.0,138.2 L673.5,138.2 L674.0,138.2 L674.5,138.1 L675.0,138.1 L675.5,138.1 L676.0,138.1 L676.5,138.0 L677.0,138.0 L677.5,138.0 L678.0,138.0 L678.5,137.9 L679.0,137.9 L679.5,137.8 L680.0,137.8 L680.5,137.7 L681.0,137.7 L681.5,137.6 L682.0,137.5 L682.5,137.5 L683.0,137.4 L683.5,137.3 L684.0,137.2 L684.5,137.2 L685.0,137.1 L685.0,142.4 L684.5,142.4 L684.0,142.4 L683.5,142.5 L683.0,142.5 L682.5,142.5 L682.0,142.5 L681.5,142.5 L681.0,142.5 L680.5,142.6 L680.0,142.6 L679.5,142.6 L679.0,142.6 L678.5,142.6 L678.0,142.6 L677.5,142.7 L677.0,142.7 L676.5,142.7 L676.0,142.7 L675.5,142.7 L675.0,142.7 L674.5,142.8 L674.0,142.8 L673.5,142.8 L673.0,142.8 L672.5,142.8 L672.0,142.8 L671.5,142.9 L671.0,142.9 L670.5,142.9 L670.0,142.9 L669.5,142.9 L669.0,142.9 L668.5,143.0 L668.0,143.0 L667.5,143.0 L667.0,143.0 L666.5,143.0 L666.0,143.0 L665.5,143.1 L665.0,143.1 L664.5,143.1 L664.0,143.1 L663.5,143.1 L663.0,143.1 L662.5,143.2 L662.0,143.2 L661.5,143.2 L661.0,143.2 L660.5,143.2 L660.0,143.3 L659.5,143.3 L659.0,143.3 L658.5,143.3 L658.0,143.3 L657.5,143.3 L657.0,143.4 L656.5,143.4 L656.0,143.4 L655.5,143.4 L655.0,143.4 L654.5,143.4 L654.0,143.5 L653.5,143.5 L653.0,143.5 L652.5,143.5 L652.0,143.5 L651.5,143.5 L651.0,143.6 L650.5,143.6 L650.0,143.6 L649.5,143.6 L649.0,143.6 L648.5,143.7 L648.0,143.7 L647.5,143.7 L647.0,143.7 L646.5,143.7 L646.0,143.7 L645.5,143.8 L645.0,143.8 L644.5,143.8 L644.0,143.8 L643.5,143.8 L643.0,143.8 L642.5,143.9 L642.0,143.9 L641.5,143.9 L641.0,143.9 L640.5,143.9 L640.0,143.9 L639.5,144.0 L639.0,144.0 L638.5,144.0 L638.0,144.0 L637.5,144.0 L637.0,144.0 L636.5,144.1 L636.0,144.1 L635.5,144.1 L635.0,144.1 L634.5,144.1 L634.0,144.2 L633.5,144.2 L633.0,144.2 L632.5,144.2 L632.0,144.2 L631.5,144.2 L631.0,144.3 L630.5,144.3 L630.0,144.3 L629.5,144.3 L629.0,144.3 L628.5,144.4 L628.0,144.4 L627.5,144.4 L627.0,144.4 L626.5,144.4 L626.0,144.4 L625.5,144.5 L625.0,144.5 L624.5,144.5 L624.0,144.5 L623.5,144.5 L623.0,144.6 L622.5,144.6 L622.0,144.6 L621.5,144.6 L621.0,144.7 L620.5,144.7 L620.0,144.7 L619.5,144.7 L619.0,144.8 L618.5,144.8 L618.0,144.8 L617.5,144.8 L617.0,144.9 L616.5,144.9 L616.0,144.9 L615.5,145.0 L615.0,145.0 L614.5,145.0 L614.0,145.1 L613.5,145.1 L613.0,145.2 L612.5,145.2 L612.0,145.3 L611.5,145.3 L611.0,145.3 L610.5,145.4 L610.0,145.4 L609.5,145.5 L609.0,145.5 L608.5,145.5 L608.0,145.6 L607.5,145.6 L607.0,145.6 L606.5,145.6 L606.0,145.7 L605.5,145.7 L605.0,145.7 L604.5,145.7 L604.0,145.7 L603.5,145.7 L603.0,145.8 L602.5,145.8 L602.0,145.8 L601.5,145.8 L601.0,145.8 L600.5,145.8 L600.0,145.8 L599.5,145.9 L599.0,145.9 L598.5,145.9 L598.0,145.9 L597.5,145.9 L597.0,145.9 L596.5,145.9 L596.0,145.9 L595.5,145.9 L595.0,145.9 L594.5,145.9 L594.0,146.0 L593.5,146.0 L593.0,146.0 L592.5,146.0 L592.0,146.0 L591.5,146.0 L591.0,146.0 L590.5,146.0 L590.0,146.0 L589.5,146.0 L589.0,146.0 L588.5,146.0 L588.0,146.0 L587.5,146.1 L587.0,146.1 L586.5,146.1 L586.0,146.1 L585.5,146.1 L585.0,146.1 L584.5,146.1 L584.0,146.1 L583.5,146.1 L583.0,146.1 L582.5,146.1 L582.0,146.2 L581.5,146.2 L581.0,146.2 L580.5,146.2 L580.0,146.2 L579.5,146.2 L579.0,146.2 L578.5,146.2 L578.0,146.2 L577.5,146.3 L577.0,146.3 L576.5,146.3 L576.0,146.3 L575.5,146.3 L575.0,146.3 L574.5,146.3 L574.0,146.4 L573.5,146.4 L573.0,146.4 L572.5,146.4 L572.0,146.4 L571.5,146.4 L571.0,146.4 L570.5,146.5 L570.0,146.5 L569.5,146.5 L569.0,146.5 L568.5,146.5 L568.0,146.5 L567.5,146.5 L567.0,146.6 L566.5,146.6 L566.0,146.6 L565.5,146.6 L565.0,146.6 L564.5,146.6 L564.0,146.7 L563.5,146.7 L563.0,146.7 L562.5,146.7 L562.0,146.7 L561.5,146.7 L561.0,146.8 L560.5,146.8 L560.0,146.8 L559.5,146.8 L559.0,146.8 L558.5,146.9 L558.0,146.9 L557.5,146.9 L557.0,146.9 L556.5,146.9 L556.0,147.0 L555.5,147.0 L555.0,147.0 L554.5,147.0 L554.0,147.1 L553.5,147.1 L553.0,147.1 L552.5,147.1 L552.0,147.2 L551.5,147.2 L551.0,147.2 L550.5,147.2 L550.0,147.3 L549.5,147.3 L549.0,147.3 L548.5,147.4 L548.0,147.4 L547.5,147.4 L547.0,147.4 L546.5,147.5 L546.0,147.5 L545.5,147.5 L545.0,147.6 L544.5,147.6 L544.0,147.6 L543.5,147.6 L543.0,147.7 L542.5,147.7 L542.0,147.7 L541.5,147.8 L541.0,147.8 L540.5,147.8 L540.0,147.8 L539.5,147.9 L539.0,147.9 L538.5,147.9 L538.0,148.0 L537.5,148.0 L537.0,148.0 L536.5,148.1 L536.0,148.1 L535.5,148.1 L535.0,148.2 L534.5,148.2 L534.0,148.2 L533.5,148.3 L533.0,148.3 L532.5,148.3 L532.0,148.4 L531.5,148.4 L531.0,148.4 L530.5,148.5 L530.0,148.5 L529.5,148.5 L529.0,148.6 L528.5,148.6 L528.0,148.6 L527.5,148.7 L527.0,148.7 L526.5,148.8 L526.0,148.8 L525.5,148.8 L525.0,148.9 L524.5,148.9 L524.0,149.0 L523.5,149.0 L523.0,149.0 L522.5,149.1 L522.0,149.1 L521.5,149.2 L521.0,149.2 L520.5,149.3 L520.0,149.3 L519.5,149.4 L519.0,149.4 L518.5,149.5 L518.0,149.5 L517.5,149.6 L517.0,149.6 L516.5,149.7 L516.0,149.8 L515.5,149.8 L515.0,149.9 L514.5,150.0 L514.0,150.1 L513.5,150.1 L513.0,150.2 L512.5,150.3 L512.0,150.4 L511.5,150.4 L511.0,150.5 L510.5,150.6 L510.0,150.7 L509.5,150.8 L509.0,150.9 L508.5,151.0 L508.0,151.1 L507.5,151.2 L507.0,151.3 L506.5,151.5 L506.0,151.7 L505.5,151.9 L505.0,152.1 L504.5,152.3 Z" fill="rgb(125,45,175)" fill-opacity="0.42" stroke="rgb(125,45,175)" stroke-opacity="0.42" stroke-width="1"/></g>
<g clip-path="url(#ca)"><path d="M17.3,335.5 L17.8,335.5 L18.3,335.5 L18.8,335.5 L19.3,335.5 L19.8,335.5 L20.3,335.5 L20.8,335.5 L21.3,335.5 L21.8,335.5 L22.3,335.5 L22.8,335.5 L23.3,335.5 L23.8,335.5 L24.3,335.5 L24.8,335.4 L25.3,335.4 L25.8,335.4 L26.3,335.4 L26.8,335.4 L27.3,335.4 L27.8,335.4 L28.3,335.4 L28.8,335.4 L29.3,335.4 L29.8,335.4 L30.3,335.4 L30.8,335.4 L31.3,335.4 L31.8,335.4 L32.3,335.4 L32.8,335.4 L33.3,335.4 L33.8,335.4 L34.3,335.4 L34.8,335.3 L35.3,335.3 L35.8,335.3 L36.3,335.3 L36.8,335.3 L37.3,335.3 L37.8,335.3 L38.3,335.3 L38.8,335.2 L39.3,335.2 L39.8,335.2 L40.3,335.2 L40.8,335.2 L41.3,335.1 L41.8,335.1 L42.3,335.1 L42.8,335.1 L43.3,335.0 L43.8,335.0 L44.3,334.9 L44.8,334.9 L45.3,334.8 L45.8,334.8 L46.3,334.7 L46.8,334.7 L47.3,334.6 L47.8,334.5 L48.3,334.4 L48.8,334.3 L49.3,334.2 L49.8,334.0 L50.3,333.9 L50.8,333.8 L51.3,333.6 L51.8,333.5 L52.3,333.3 L52.8,333.1 L53.3,332.9 L53.8,332.6 L54.3,332.4 L54.8,332.1 L55.3,331.7 L55.8,331.3 L56.3,330.9 L56.8,330.3 L57.3,329.4 L57.8,328.2 L58.3,326.6 L58.8,325.3 L59.3,324.1 L59.8,322.2 L60.3,312.0 L60.8,307.2 L61.3,302.5 L61.8,295.1 L62.3,284.7 L62.8,272.1 L63.3,257.6 L63.8,245.5 L64.3,235.0 L64.8,226.6 L65.3,220.7 L65.8,218.7 L66.3,222.8 L66.8,230.0 L67.3,238.2 L67.8,246.3 L68.3,255.3 L68.8,264.6 L69.3,273.5 L69.8,282.2 L70.3,289.2 L70.8,294.2 L71.3,298.4 L71.8,302.5 L72.3,306.3 L72.8,309.5 L73.3,311.8 L73.8,313.5 L74.3,314.4 L74.8,314.4 L75.3,313.6 L75.8,312.4 L76.3,311.3 L76.8,310.5 L77.3,309.6 L77.8,308.8 L78.3,308.0 L78.8,307.3 L79.3,307.0 L79.8,307.5 L80.3,309.3 L80.8,311.4 L81.3,314.0 L81.8,316.2 L82.3,317.7 L82.8,319.4 L83.3,320.9 L83.8,322.3 L84.3,323.4 L84.8,324.4 L85.3,325.2 L85.8,325.9 L86.3,326.5 L86.8,327.0 L87.3,327.5 L87.8,327.9 L88.3,328.3 L88.8,328.7 L89.3,329.0 L89.8,329.3 L90.3,329.6 L90.8,329.9 L91.3,330.2 L91.8,330.4 L92.3,330.7 L92.8,330.9 L93.3,331.1 L93.8,331.3 L94.3,331.4 L94.8,331.6 L95.3,331.7 L95.8,331.8 L96.3,331.9 L96.8,332.0 L97.3,332.1 L97.8,332.2 L98.3,332.2 L98.8,332.3 L99.3,332.3 L99.8,332.4 L100.3,332.4 L100.8,332.5 L101.3,332.5 L101.8,332.6 L102.3,332.6 L102.8,332.7 L103.3,332.7 L103.8,332.8 L104.3,332.8 L104.8,332.8 L105.3,332.9 L105.8,332.9 L106.3,333.0 L106.8,333.0 L107.3,333.1 L107.8,333.1 L108.3,333.1 L108.8,333.2 L109.3,333.2 L109.8,333.2 L110.3,333.2 L110.8,333.3 L111.3,333.3 L111.8,333.3 L112.3,333.3 L112.8,333.3 L113.3,333.4 L113.8,333.4 L114.3,333.4 L114.8,333.4 L115.3,333.4 L115.8,333.4 L116.3,333.4 L116.8,333.4 L117.3,333.4 L117.8,333.4 L118.3,333.4 L118.8,333.3 L119.3,333.3 L119.8,333.3 L120.3,333.3 L120.8,333.3 L121.3,333.2 L121.8,333.2 L122.3,333.2 L122.8,333.2 L123.3,333.1 L123.8,333.1 L124.3,333.1 L124.8,333.0 L125.3,333.0 L125.8,332.9 L126.3,332.9 L126.8,332.9 L127.3,332.8 L127.8,332.8 L128.3,332.7 L128.8,332.7 L129.3,332.7 L129.8,332.6 L130.3,332.6 L130.8,332.5 L131.3,332.5 L131.8,332.4 L132.3,332.4 L132.8,332.3 L133.3,332.3 L133.8,332.2 L134.3,332.2 L134.8,332.2 L135.3,332.1 L135.8,332.0 L136.3,332.0 L136.8,331.9 L137.3,331.9 L137.8,331.8 L138.3,331.8 L138.8,331.7 L139.3,331.7 L139.8,331.6 L140.3,331.6 L140.8,331.5 L141.3,331.5 L141.8,331.4 L142.3,331.4 L142.8,331.3 L143.3,331.3 L143.8,331.2 L144.3,331.1 L144.8,331.1 L145.3,331.0 L145.8,331.0 L146.3,330.9 L146.8,330.9 L147.3,330.8 L147.8,330.8 L148.3,330.7 L148.8,330.6 L149.3,330.6 L149.8,330.5 L150.3,330.5 L150.8,330.4 L151.3,330.3 L151.8,330.3 L152.3,330.2 L152.8,330.2 L153.3,330.1 L153.8,330.0 L154.3,330.0 L154.8,329.9 L155.3,329.8 L155.8,329.8 L156.3,329.7 L156.8,329.6 L157.3,329.6 L157.8,329.5 L158.3,329.4 L158.8,329.4 L159.3,329.3 L159.8,329.2 L160.3,329.2 L160.8,329.1 L161.3,329.0 L161.8,328.9 L162.3,328.9 L162.8,328.8 L163.3,328.7 L163.8,328.6 L164.3,328.5 L164.8,328.5 L165.3,328.4 L165.8,328.3 L166.3,328.2 L166.8,328.1 L167.3,328.0 L167.8,327.9 L168.3,327.8 L168.8,327.7 L169.3,327.6 L169.8,327.5 L170.3,327.4 L170.8,327.3 L171.3,327.2 L171.8,327.1 L172.3,327.0 L172.8,326.8 L173.3,326.7 L173.8,326.5 L174.3,326.2 L174.8,325.9 L175.3,325.5 L175.8,325.2 L176.3,324.8 L176.8,324.3 L177.3,323.9 L177.8,323.4 L178.3,322.9 L178.8,322.3 L179.3,321.7 L179.8,321.1 L180.3,320.4 L180.8,319.7 L181.3,318.9 L181.8,318.0 L182.3,316.9 L182.8,315.7 L183.3,314.4 L183.8,313.1 L184.3,311.7 L184.8,310.5 L185.3,309.3 L185.8,308.2 L186.3,307.2 L186.8,306.2 L187.3,305.3 L187.8,304.5 L188.3,303.9 L188.8,303.5 L189.3,303.5 L189.8,303.8 L190.3,304.3 L190.8,304.8 L191.3,305.3 L191.8,306.0 L192.3,306.6 L192.8,307.0 L193.3,306.8 L193.8,306.3 L194.3,305.4 L194.8,304.7 L195.3,304.2 L195.8,303.7 L196.3,303.2 L196.8,302.9 L197.3,302.8 L197.8,302.9 L198.3,303.2 L198.8,303.6 L199.3,304.1 L199.8,304.7 L200.3,305.5 L200.8,306.3 L201.3,307.3 L201.8,308.3 L202.3,309.3 L202.8,310.2 L203.3,311.0 L203.8,311.8 L204.3,312.5 L204.8,313.3 L205.3,314.0 L205.8,314.6 L206.3,315.2 L206.8,315.8 L207.3,316.3 L207.8,316.8 L208.3,317.2 L208.8,317.6 L209.3,318.0 L209.8,318.3 L210.3,318.7 L210.8,318.9 L211.3,319.2 L211.8,319.4 L212.3,319.6 L212.8,319.8 L213.3,320.0 L213.8,320.2 L214.3,320.4 L214.8,320.6 L215.3,320.7 L215.8,320.8 L216.3,321.0 L216.8,321.1 L217.3,321.1 L217.8,321.2 L218.3,321.3 L218.8,321.4 L219.3,321.4 L219.8,321.5 L220.3,321.5 L220.8,321.6 L221.3,321.7 L221.8,321.8 L222.3,321.8 L222.8,321.9 L223.3,322.0 L223.8,322.1 L224.3,322.2 L224.8,322.3 L225.3,322.3 L225.8,322.4 L226.3,322.5 L226.8,322.6 L227.3,322.6 L227.8,322.7 L228.3,322.7 L228.8,322.8 L229.3,322.8 L229.8,322.8 L230.3,322.9 L230.8,322.9 L231.3,322.9 L231.8,322.9 L232.3,322.9 L232.8,322.9 L233.3,322.9 L233.8,322.8 L234.3,322.8 L234.8,322.8 L235.3,322.8 L235.8,322.8 L236.3,322.7 L236.8,322.7 L237.3,322.7 L237.8,322.7 L238.3,322.7 L238.8,322.6 L239.3,322.6 L239.8,322.5 L240.3,322.5 L240.8,322.4 L241.3,322.3 L241.8,322.3 L242.3,322.2 L242.8,322.1 L243.3,322.1 L243.8,322.0 L244.3,321.9 L244.8,321.9 L245.3,321.8 L245.8,321.7 L246.3,321.6 L246.8,321.6 L247.3,321.5 L247.8,321.4 L248.3,321.3 L248.8,321.2 L249.3,321.2 L249.8,321.1 L250.3,321.0 L250.8,320.9 L251.3,320.8 L251.8,320.7 L252.3,320.7 L252.8,320.6 L253.3,320.5 L253.8,320.4 L254.3,320.3 L254.8,320.2 L255.3,320.2 L255.8,320.1 L256.3,320.0 L256.8,319.9 L257.3,319.8 L257.8,319.7 L258.3,319.6 L258.8,319.5 L259.3,319.4 L259.8,319.4 L260.3,319.3 L260.8,319.2 L261.3,319.1 L261.8,319.0 L262.3,318.9 L262.8,318.8 L263.3,318.7 L263.8,318.6 L264.3,318.5 L264.8,318.4 L265.3,318.3 L265.8,318.3 L266.3,318.2 L266.8,318.1 L267.3,318.0 L267.8,317.9 L268.3,317.8 L268.8,317.7 L269.3,317.6 L269.8,317.5 L270.3,317.4 L270.8,317.3 L271.3,317.2 L271.8,317.1 L272.3,317.0 L272.8,316.9 L273.3,316.9 L273.8,316.8 L274.3,316.7 L274.8,316.6 L275.3,316.5 L275.8,316.4 L276.3,316.3 L276.8,316.2 L277.3,316.1 L277.8,316.0 L278.3,315.9 L278.8,315.8 L279.3,315.7 L279.8,315.6 L280.3,315.5 L280.8,315.4 L281.3,315.3 L281.8,315.2 L282.3,315.2 L282.8,315.1 L283.3,315.0 L283.8,314.9 L284.3,314.8 L284.8,314.7 L285.3,314.6 L285.8,314.5 L286.3,314.4 L286.8,314.3 L287.3,314.2 L287.8,314.1 L287.8,314.2 L287.3,314.3 L286.8,314.5 L286.3,314.6 L285.8,314.8 L285.3,315.0 L284.8,315.1 L284.3,315.3 L283.8,315.5 L283.3,315.6 L282.8,315.8 L282.3,316.0 L281.8,316.1 L281.3,316.3 L280.8,316.4 L280.3,316.6 L279.8,316.8 L279.3,316.9 L278.8,317.1 L278.3,317.2 L277.8,317.4 L277.3,317.5 L276.8,317.7 L276.3,317.8 L275.8,317.9 L275.3,318.1 L274.8,318.2 L274.3,318.3 L273.8,318.5 L273.3,318.6 L272.8,318.7 L272.3,318.8 L271.8,319.0 L271.3,319.1 L270.8,319.2 L270.3,319.3 L269.8,319.4 L269.3,319.5 L268.8,319.6 L268.3,319.7 L267.8,319.8 L267.3,319.9 L266.8,320.0 L266.3,320.1 L265.8,320.2 L265.3,320.3 L264.8,320.4 L264.3,320.5 L263.8,320.6 L263.3,320.7 L262.8,320.8 L262.3,320.8 L261.8,320.9 L261.3,321.0 L260.8,321.1 L260.3,321.1 L259.8,321.2 L259.3,321.3 L258.8,321.3 L258.3,321.4 L257.8,321.4 L257.3,321.5 L256.8,321.5 L256.3,321.6 L255.8,321.6 L255.3,321.7 L254.8,321.7 L254.3,321.8 L253.8,321.8 L253.3,321.9 L252.8,321.9 L252.3,321.9 L251.8,322.0 L251.3,322.0 L250.8,322.0 L250.3,322.1 L249.8,322.1 L249.3,322.1 L248.8,322.2 L248.3,322.2 L247.8,322.2 L247.3,322.2 L246.8,322.3 L246.3,322.3 L245.8,322.3 L245.3,322.3 L244.8,322.4 L244.3,322.4 L243.8,322.4 L243.3,322.4 L242.8,322.5 L242.3,322.5 L241.8,322.5 L241.3,322.5 L240.8,322.6 L240.3,322.6 L239.8,322.6 L239.3,322.6 L238.8,322.6 L238.3,322.7 L237.8,322.7 L237.3,322.7 L236.8,322.7 L236.3,322.7 L235.8,322.8 L235.3,322.8 L234.8,322.8 L234.3,322.8 L233.8,322.8 L233.3,322.9 L232.8,322.9 L232.3,322.9 L231.8,322.9 L231.3,322.9 L230.8,323.0 L230.3,323.0 L229.8,323.0 L229.3,323.0 L228.8,323.0 L228.3,323.0 L227.8,323.1 L227.3,323.1 L226.8,323.1 L226.3,323.1 L225.8,323.1 L225.3,323.1 L224.8,323.1 L224.3,323.1 L223.8,323.2 L223.3,323.2 L222.8,323.2 L222.3,323.2 L221.8,323.2 L221.3,323.2 L220.8,323.2 L220.3,323.2 L219.8,323.3 L219.3,323.3 L218.8,323.3 L218.3,323.3 L217.8,323.3 L217.3,323.3 L216.8,323.3 L216.3,323.4 L215.8,323.4 L215.3,323.4 L214.8,323.4 L214.3,323.4 L213.8,323.4 L213.3,323.5 L212.8,323.5 L212.3,323.5 L211.8,323.5 L211.3,323.5 L210.8,323.6 L210.3,323.6 L209.8,323.6 L209.3,323.6 L208.8,323.7 L208.3,323.7 L207.8,323.7 L207.3,323.7 L206.8,323.8 L206.3,323.8 L205.8,323.8 L205.3,323.9 L204.8,323.9 L204.3,323.9 L203.8,324.0 L203.3,324.0 L202.8,324.0 L202.3,324.1 L201.8,324.1 L201.3,324.1 L200.8,324.2 L200.3,324.2 L199.8,324.2 L199.3,324.3 L198.8,324.3 L198.3,324.4 L197.8,324.4 L197.3,324.4 L196.8,324.5 L196.3,324.5 L195.8,324.5 L195.3,324.6 L194.8,324.6 L194.3,324.7 L193.8,324.7 L193.3,324.7 L192.8,324.8 L192.3,324.8 L191.8,324.9 L191.3,324.9 L190.8,324.9 L190.3,325.0 L189.8,325.0 L189.3,325.1 L188.8,325.1 L188.3,325.1 L187.8,325.2 L187.3,325.2 L186.8,325.2 L186.3,325.3 L185.8,325.3 L185.3,325.4 L184.8,325.4 L184.3,325.4 L183.8,325.5 L183.3,325.5 L182.8,325.6 L182.3,325.7 L181.8,325.7 L181.3,325.8 L180.8,325.8 L180.3,325.9 L179.8,325.9 L179.3,326.0 L178.8,326.1 L178.3,326.1 L177.8,326.2 L177.3,326.3 L176.8,326.3 L176.3,326.4 L175.8,326.5 L175.3,326.5 L174.8,326.6 L174.3,326.7 L173.8,326.8 L173.3,326.8 L172.8,326.9 L172.3,327.0 L171.8,327.1 L171.3,327.2 L170.8,327.3 L170.3,327.4 L169.8,327.5 L169.3,327.6 L168.8,327.7 L168.3,327.8 L167.8,327.9 L167.3,328.0 L166.8,328.1 L166.3,328.2 L165.8,328.3 L165.3,328.5 L164.8,328.6 L164.3,328.7 L163.8,328.8 L163.3,328.9 L162.8,329.0 L162.3,329.2 L161.8,329.3 L161.3,329.4 L160.8,329.5 L160.3,329.7 L159.8,329.8 L159.3,329.9 L158.8,330.1 L158.3,330.2 L157.8,330.3 L157.3,330.4 L156.8,330.5 L156.3,330.7 L155.8,330.8 L155.3,330.9 L154.8,331.0 L154.3,331.1 L153.8,331.2 L153.3,331.3 L152.8,331.4 L152.3,331.4 L151.8,331.5 L151.3,331.6 L150.8,331.7 L150.3,331.8 L149.8,331.8 L149.3,331.9 L148.8,332.0 L148.3,332.1 L147.8,332.1 L147.3,332.2 L146.8,332.3 L146.3,332.4 L145.8,332.4 L145.3,332.5 L144.8,332.6 L144.3,332.6 L143.8,332.7 L143.3,332.8 L142.8,332.8 L142.3,332.9 L141.8,332.9 L141.3,333.0 L140.8,333.1 L140.3,333.1 L139.8,333.2 L139.3,333.2 L138.8,333.3 L138.3,333.3 L137.8,333.4 L137.3,333.4 L136.8,333.5 L136.3,333.5 L135.8,333.6 L135.3,333.6 L134.8,333.7 L134.3,333.7 L133.8,333.7 L133.3,333.8 L132.8,333.8 L132.3,333.9 L131.8,333.9 L131.3,333.9 L130.8,334.0 L130.3,334.0 L129.8,334.0 L129.3,334.0 L128.8,334.1 L128.3,334.1 L127.8,334.1 L127.3,334.1 L126.8,334.2 L126.3,334.2 L125.8,334.2 L125.3,334.2 L124.8,334.3 L124.3,334.3 L123.8,334.3 L123.3,334.3 L122.8,334.4 L122.3,334.4 L121.8,334.4 L121.3,334.4 L120.8,334.4 L120.3,334.5 L119.8,334.5 L119.3,334.5 L118.8,334.5 L118.3,334.5 L117.8,334.5 L117.3,334.6 L116.8,334.6 L116.3,334.6 L115.8,334.6 L115.3,334.6 L114.8,334.6 L114.3,334.7 L113.8,334.7 L113.3,334.7 L112.8,334.7 L112.3,334.7 L111.8,334.7 L111.3,334.8 L110.8,334.8 L110.3,334.8 L109.8,334.8 L109.3,334.8 L108.8,334.8 L108.3,334.9 L107.8,334.9 L107.3,334.9 L106.8,334.9 L106.3,334.9 L105.8,334.9 L105.3,335.0 L104.8,335.0 L104.3,335.0 L103.8,335.0 L103.3,335.0 L102.8,335.1 L102.3,335.1 L101.8,335.1 L101.3,335.1 L100.8,335.1 L100.3,335.1 L99.8,335.2 L99.3,335.2 L98.8,335.2 L98.3,335.2 L97.8,335.2 L97.3,335.2 L96.8,335.2 L96.3,335.3 L95.8,335.3 L95.3,335.3 L94.8,335.3 L94.3,335.3 L93.8,335.3 L93.3,335.3 L92.8,335.3 L92.3,335.3 L91.8,335.3 L91.3,335.3 L90.8,335.3 L90.3,335.3 L89.8,335.4 L89.3,335.4 L88.8,335.4 L88.3,335.4 L87.8,335.4 L87.3,335.4 L86.8,335.4 L86.3,335.4 L85.8,335.4 L85.3,335.4 L84.8,335.4 L84.3,335.4 L83.8,335.4 L83.3,335.4 L82.8,335.4 L82.3,335.4 L81.8,335.4 L81.3,335.4 L80.8,335.4 L80.3,335.4 L79.8,335.4 L79.3,335.4 L78.8,335.4 L78.3,335.4 L77.8,335.4 L77.3,335.4 L76.8,335.4 L76.3,335.4 L75.8,335.4 L75.3,335.4 L74.8,335.4 L74.3,335.4 L73.8,335.5 L73.3,335.5 L72.8,335.5 L72.3,335.5 L71.8,335.5 L71.3,335.5 L70.8,335.5 L70.3,335.5 L69.8,335.5 L69.3,335.5 L68.8,335.5 L68.3,335.5 L67.8,335.5 L67.3,335.5 L66.8,335.5 L66.3,335.5 L65.8,335.5 L65.3,335.5 L64.8,335.5 L64.3,335.5 L63.8,335.5 L63.3,335.5 L62.8,335.5 L62.3,335.5 L61.8,335.5 L61.3,335.5 L60.8,335.5 L60.3,335.5 L59.8,335.5 L59.3,335.5 L58.8,335.5 L58.3,335.5 L57.8,335.5 L57.3,335.5 L56.8,335.5 L56.3,335.5 L55.8,335.5 L55.3,335.5 L54.8,335.5 L54.3,335.5 L53.8,335.5 L53.3,335.5 L52.8,335.5 L52.3,335.5 L51.8,335.5 L51.3,335.5 L50.8,335.5 L50.3,335.5 L49.8,335.5 L49.3,335.5 L48.8,335.5 L48.3,335.5 L47.8,335.5 L47.3,335.5 L46.8,335.5 L46.3,335.5 L45.8,335.5 L45.3,335.5 L44.8,335.5 L44.3,335.5 L43.8,335.5 L43.3,335.5 L42.8,335.5 L42.3,335.5 L41.8,335.5 L41.3,335.5 L40.8,335.5 L40.3,335.5 L39.8,335.5 L39.3,335.5 L38.8,335.5 L38.3,335.5 L37.8,335.5 L37.3,335.5 L36.8,335.5 L36.3,335.5 L35.8,335.5 L35.3,335.5 L34.8,335.5 L34.3,335.5 L33.8,335.5 L33.3,335.5 L32.8,335.5 L32.3,335.5 L31.8,335.5 L31.3,335.5 L30.8,335.5 L30.3,335.5 L29.8,335.5 L29.3,335.5 L28.8,335.5 L28.3,335.5 L27.8,335.5 L27.3,335.5 L26.8,335.5 L26.3,335.5 L25.8,335.5 L25.3,335.5 L24.8,335.5 L24.3,335.5 L23.8,335.5 L23.3,335.5 L22.8,335.5 L22.3,335.5 L21.8,335.5 L21.3,335.5 L20.8,335.5 L20.3,335.5 L19.8,335.5 L19.3,335.5 L18.8,335.5 L18.3,335.5 L17.8,335.5 L17.3,335.5 Z" fill="rgb(110,170,68)" fill-opacity="0.40" stroke="rgb(110,170,68)" stroke-opacity="0.40" stroke-width="1.3"/><path d="M17.3,335.5 L17.8,335.5 L18.3,335.5 L18.8,335.5 L19.3,335.5 L19.8,335.5 L20.3,335.5 L20.8,335.5 L21.3,335.5 L21.8,335.5 L22.3,335.5 L22.8,335.5 L23.3,335.5 L23.8,335.5 L24.3,335.5 L24.8,335.5 L25.3,335.5 L25.8,335.5 L26.3,335.5 L26.8,335.5 L27.3,335.4 L27.8,335.4 L28.3,335.4 L28.8,335.4 L29.3,335.4 L29.8,335.4 L30.3,335.4 L30.8,335.4 L31.3,335.4 L31.8,335.4 L32.3,335.4 L32.8,335.4 L33.3,335.4 L33.8,335.4 L34.3,335.4 L34.8,335.4 L35.3,335.4 L35.8,335.4 L36.3,335.4 L36.8,335.4 L37.3,335.4 L37.8,335.3 L38.3,335.3 L38.8,335.3 L39.3,335.3 L39.8,335.3 L40.3,335.3 L40.8,335.3 L41.3,335.3 L41.8,335.3 L42.3,335.2 L42.8,335.2 L43.3,335.2 L43.8,335.2 L44.3,335.2 L44.8,335.2 L45.3,335.2 L45.8,335.2 L46.3,335.1 L46.8,335.1 L47.3,335.1 L47.8,335.0 L48.3,334.9 L48.8,334.9 L49.3,334.8 L49.8,334.6 L50.3,334.5 L50.8,334.4 L51.3,334.2 L51.8,334.1 L52.3,333.9 L52.8,333.7 L53.3,333.5 L53.8,333.3 L54.3,333.0 L54.8,332.8 L55.3,332.5 L55.8,332.3 L56.3,332.0 L56.8,331.7 L57.3,331.4 L57.8,331.1 L58.3,330.8 L58.8,330.5 L59.3,330.1 L59.8,329.6 L60.3,328.8 L60.8,327.6 L61.3,326.2 L61.8,324.3 L62.3,322.1 L62.8,319.6 L63.3,316.9 L63.8,313.8 L64.3,310.5 L64.8,307.1 L65.3,303.8 L65.8,300.6 L66.3,297.6 L66.8,294.7 L67.3,291.9 L67.8,289.2 L68.3,286.5 L68.8,284.1 L69.3,282.3 L69.8,280.5 L70.3,277.8 L70.8,274.7 L71.3,271.6 L71.8,268.9 L72.3,266.7 L72.8,264.6 L73.3,262.9 L73.8,261.6 L74.3,261.0 L74.8,261.4 L75.3,262.6 L75.8,264.2 L76.3,266.2 L76.8,268.4 L77.3,271.4 L77.8,274.8 L78.3,277.8 L78.8,280.7 L79.3,283.5 L79.8,285.9 L80.3,288.1 L80.8,290.0 L81.3,291.8 L81.8,293.3 L82.3,294.7 L82.8,296.5 L83.3,299.1 L83.8,302.1 L84.3,304.9 L84.8,307.4 L85.3,309.9 L85.8,312.2 L86.3,314.2 L86.8,315.8 L87.3,317.0 L87.8,318.1 L88.3,319.2 L88.8,320.1 L89.3,320.9 L89.8,321.7 L90.3,322.4 L90.8,323.0 L91.3,323.6 L91.8,324.1 L92.3,324.6 L92.8,325.0 L93.3,325.4 L93.8,325.8 L94.3,326.1 L94.8,326.4 L95.3,326.7 L95.8,327.0 L96.3,327.2 L96.8,327.4 L97.3,327.7 L97.8,327.9 L98.3,328.1 L98.8,328.2 L99.3,328.4 L99.8,328.6 L100.3,328.7 L100.8,328.9 L101.3,329.1 L101.8,329.2 L102.3,329.3 L102.8,329.5 L103.3,329.6 L103.8,329.7 L104.3,329.8 L104.8,329.9 L105.3,330.0 L105.8,330.1 L106.3,330.2 L106.8,330.3 L107.3,330.4 L107.8,330.5 L108.3,330.6 L108.8,330.7 L109.3,330.8 L109.8,330.8 L110.3,330.9 L110.8,331.0 L111.3,331.1 L111.8,331.1 L112.3,331.2 L112.8,331.3 L113.3,331.4 L113.8,331.4 L114.3,331.5 L114.8,331.6 L115.3,331.6 L115.8,331.7 L116.3,331.8 L116.8,331.9 L117.3,331.9 L117.8,332.0 L118.3,332.1 L118.8,332.2 L119.3,332.2 L119.8,332.3 L120.3,332.4 L120.8,332.5 L121.3,332.5 L121.8,332.6 L122.3,332.7 L122.8,332.7 L123.3,332.8 L123.8,332.8 L124.3,332.9 L124.8,332.9 L125.3,332.9 L125.8,333.0 L126.3,333.0 L126.8,333.0 L127.3,333.0 L127.8,333.0 L128.3,333.0 L128.8,333.0 L129.3,333.0 L129.8,333.0 L130.3,333.0 L130.8,333.0 L131.3,332.9 L131.8,332.9 L132.3,332.8 L132.8,332.8 L133.3,332.8 L133.8,332.7 L134.3,332.6 L134.8,332.6 L135.3,332.5 L135.8,332.5 L136.3,332.4 L136.8,332.3 L137.3,332.3 L137.8,332.2 L138.3,332.1 L138.8,332.0 L139.3,332.0 L139.8,331.9 L140.3,331.8 L140.8,331.7 L141.3,331.6 L141.8,331.6 L142.3,331.5 L142.8,331.4 L143.3,331.3 L143.8,331.2 L144.3,331.1 L144.8,331.1 L145.3,331.0 L145.8,330.9 L146.3,330.8 L146.8,330.7 L147.3,330.6 L147.8,330.6 L148.3,330.5 L148.8,330.4 L149.3,330.3 L149.8,330.2 L150.3,330.2 L150.8,330.1 L151.3,330.0 L151.8,329.9 L152.3,329.8 L152.8,329.8 L153.3,329.7 L153.8,329.6 L154.3,329.5 L154.8,329.4 L155.3,329.4 L155.8,329.3 L156.3,329.2 L156.8,329.1 L157.3,329.0 L157.8,328.9 L158.3,328.9 L158.8,328.8 L159.3,328.7 L159.8,328.6 L160.3,328.5 L160.8,328.4 L161.3,328.4 L161.8,328.3 L162.3,328.2 L162.8,328.1 L163.3,328.0 L163.8,327.9 L164.3,327.8 L164.8,327.7 L165.3,327.7 L165.8,327.6 L166.3,327.5 L166.8,327.4 L167.3,327.3 L167.8,327.2 L168.3,327.1 L168.8,327.0 L169.3,326.9 L169.8,326.8 L170.3,326.7 L170.8,326.7 L171.3,326.6 L171.8,326.5 L172.3,326.4 L172.8,326.3 L173.3,326.2 L173.8,326.1 L174.3,326.1 L174.8,326.0 L175.3,325.9 L175.8,325.8 L176.3,325.7 L176.8,325.6 L177.3,325.5 L177.8,325.4 L178.3,325.2 L178.8,325.0 L179.3,324.8 L179.8,324.6 L180.3,324.3 L180.8,324.0 L181.3,323.7 L181.8,323.3 L182.3,322.8 L182.8,322.3 L183.3,321.7 L183.8,321.1 L184.3,320.4 L184.8,319.7 L185.3,319.0 L185.8,318.3 L186.3,317.5 L186.8,316.4 L187.3,315.3 L187.8,314.3 L188.3,313.6 L188.8,313.0 L189.3,312.4 L189.8,311.9 L190.3,311.3 L190.8,310.6 L191.3,309.7 L191.8,308.6 L192.3,307.3 L192.8,305.8 L193.3,304.3 L193.8,302.8 L194.3,301.2 L194.8,299.8 L195.3,298.5 L195.8,297.1 L196.3,296.0 L196.8,295.0 L197.3,294.3 L197.8,293.8 L198.3,293.5 L198.8,293.4 L199.3,293.6 L199.8,294.2 L200.3,295.0 L200.8,296.4 L201.3,298.3 L201.8,300.3 L202.3,302.1 L202.8,303.6 L203.3,305.1 L203.8,306.5 L204.3,307.8 L204.8,309.1 L205.3,310.3 L205.8,311.5 L206.3,312.6 L206.8,313.5 L207.3,314.3 L207.8,315.0 L208.3,315.6 L208.8,316.1 L209.3,316.5 L209.8,316.9 L210.3,317.2 L210.8,317.5 L211.3,317.9 L211.8,318.2 L212.3,318.5 L212.8,318.7 L213.3,319.0 L213.8,319.2 L214.3,319.5 L214.8,319.7 L215.3,319.9 L215.8,320.1 L216.3,320.2 L216.8,320.4 L217.3,320.6 L217.8,320.7 L218.3,320.8 L218.8,321.0 L219.3,321.1 L219.8,321.2 L220.3,321.3 L220.8,321.4 L221.3,321.5 L221.8,321.6 L222.3,321.7 L222.8,321.7 L223.3,321.8 L223.8,321.9 L224.3,321.9 L224.8,322.0 L225.3,322.0 L225.8,322.1 L226.3,322.2 L226.8,322.3 L227.3,322.4 L227.8,322.5 L228.3,322.6 L228.8,322.7 L229.3,322.8 L229.8,322.8 L230.3,322.9 L230.8,323.0 L231.3,322.9 L231.8,322.9 L232.3,322.9 L232.8,322.9 L233.3,322.9 L233.8,322.8 L234.3,322.8 L234.8,322.8 L235.3,322.8 L235.8,322.8 L236.3,322.7 L236.8,322.7 L237.3,322.7 L237.8,322.7 L238.3,322.7 L238.8,322.6 L239.3,322.6 L239.8,322.5 L240.3,322.5 L240.8,322.4 L241.3,322.3 L241.8,322.2 L242.3,322.2 L242.8,322.1 L243.3,322.0 L243.8,322.0 L244.3,321.9 L244.8,321.8 L245.3,321.7 L245.8,321.6 L246.3,321.6 L246.8,321.5 L247.3,321.4 L247.8,321.3 L248.3,321.2 L248.8,321.2 L249.3,321.1 L249.8,321.0 L250.3,320.9 L250.8,320.8 L251.3,320.7 L251.8,320.7 L252.3,320.6 L252.8,320.5 L253.3,320.4 L253.8,320.3 L254.3,320.2 L254.8,320.1 L255.3,320.1 L255.8,320.0 L256.3,319.9 L256.8,319.8 L257.3,319.7 L257.8,319.6 L258.3,319.5 L258.8,319.4 L259.3,319.3 L259.8,319.3 L260.3,319.2 L260.8,319.1 L261.3,319.0 L261.8,318.9 L262.3,318.8 L262.8,318.7 L263.3,318.6 L263.8,318.5 L264.3,318.4 L264.8,318.4 L265.3,318.3 L265.8,318.2 L266.3,318.1 L266.8,318.0 L267.3,317.9 L267.8,317.8 L268.3,317.7 L268.8,317.6 L269.3,317.5 L269.8,317.4 L270.3,317.3 L270.8,317.3 L271.3,317.2 L271.8,317.1 L272.3,317.0 L272.8,316.9 L273.3,316.8 L273.8,316.7 L274.3,316.6 L274.8,316.5 L275.3,316.4 L275.8,316.3 L276.3,316.2 L276.8,316.2 L277.3,316.1 L277.8,316.0 L278.3,315.9 L278.8,315.8 L279.3,315.7 L279.8,315.6 L280.3,315.5 L280.8,315.4 L281.3,315.3 L281.8,315.2 L282.3,315.1 L282.8,315.0 L283.3,315.0 L283.8,314.9 L284.3,314.8 L284.8,314.7 L285.3,314.6 L285.8,314.5 L286.3,314.4 L286.8,314.3 L287.3,314.2 L287.8,314.1 L287.8,314.2 L287.3,314.3 L286.8,314.5 L286.3,314.6 L285.8,314.8 L285.3,315.0 L284.8,315.1 L284.3,315.3 L283.8,315.5 L283.3,315.6 L282.8,315.8 L282.3,316.0 L281.8,316.1 L281.3,316.3 L280.8,316.4 L280.3,316.6 L279.8,316.8 L279.3,316.9 L278.8,317.1 L278.3,317.2 L277.8,317.4 L277.3,317.5 L276.8,317.7 L276.3,317.8 L275.8,317.9 L275.3,318.1 L274.8,318.2 L274.3,318.3 L273.8,318.5 L273.3,318.6 L272.8,318.7 L272.3,318.8 L271.8,319.0 L271.3,319.1 L270.8,319.2 L270.3,319.3 L269.8,319.4 L269.3,319.5 L268.8,319.6 L268.3,319.7 L267.8,319.8 L267.3,319.9 L266.8,320.0 L266.3,320.1 L265.8,320.2 L265.3,320.3 L264.8,320.4 L264.3,320.5 L263.8,320.6 L263.3,320.7 L262.8,320.8 L262.3,320.8 L261.8,320.9 L261.3,321.0 L260.8,321.1 L260.3,321.1 L259.8,321.2 L259.3,321.3 L258.8,321.3 L258.3,321.4 L257.8,321.4 L257.3,321.5 L256.8,321.5 L256.3,321.6 L255.8,321.6 L255.3,321.7 L254.8,321.7 L254.3,321.8 L253.8,321.8 L253.3,321.9 L252.8,321.9 L252.3,321.9 L251.8,322.0 L251.3,322.0 L250.8,322.0 L250.3,322.1 L249.8,322.1 L249.3,322.1 L248.8,322.2 L248.3,322.2 L247.8,322.2 L247.3,322.2 L246.8,322.3 L246.3,322.3 L245.8,322.3 L245.3,322.3 L244.8,322.4 L244.3,322.4 L243.8,322.4 L243.3,322.4 L242.8,322.5 L242.3,322.5 L241.8,322.5 L241.3,322.5 L240.8,322.6 L240.3,322.6 L239.8,322.6 L239.3,322.6 L238.8,322.6 L238.3,322.7 L237.8,322.7 L237.3,322.7 L236.8,322.7 L236.3,322.7 L235.8,322.8 L235.3,322.8 L234.8,322.8 L234.3,322.8 L233.8,322.8 L233.3,322.9 L232.8,322.9 L232.3,322.9 L231.8,322.9 L231.3,322.9 L230.8,323.0 L230.3,323.0 L229.8,323.0 L229.3,323.0 L228.8,323.0 L228.3,323.0 L227.8,323.1 L227.3,323.1 L226.8,323.1 L226.3,323.1 L225.8,323.1 L225.3,323.1 L224.8,323.1 L224.3,323.1 L223.8,323.2 L223.3,323.2 L222.8,323.2 L222.3,323.2 L221.8,323.2 L221.3,323.2 L220.8,323.2 L220.3,323.2 L219.8,323.3 L219.3,323.3 L218.8,323.3 L218.3,323.3 L217.8,323.3 L217.3,323.3 L216.8,323.3 L216.3,323.4 L215.8,323.4 L215.3,323.4 L214.8,323.4 L214.3,323.4 L213.8,323.4 L213.3,323.5 L212.8,323.5 L212.3,323.5 L211.8,323.5 L211.3,323.5 L210.8,323.6 L210.3,323.6 L209.8,323.6 L209.3,323.6 L208.8,323.7 L208.3,323.7 L207.8,323.7 L207.3,323.7 L206.8,323.8 L206.3,323.8 L205.8,323.8 L205.3,323.9 L204.8,323.9 L204.3,323.9 L203.8,324.0 L203.3,324.0 L202.8,324.0 L202.3,324.1 L201.8,324.1 L201.3,324.1 L200.8,324.2 L200.3,324.2 L199.8,324.2 L199.3,324.3 L198.8,324.3 L198.3,324.4 L197.8,324.4 L197.3,324.4 L196.8,324.5 L196.3,324.5 L195.8,324.5 L195.3,324.6 L194.8,324.6 L194.3,324.7 L193.8,324.7 L193.3,324.7 L192.8,324.8 L192.3,324.8 L191.8,324.9 L191.3,324.9 L190.8,324.9 L190.3,325.0 L189.8,325.0 L189.3,325.1 L188.8,325.1 L188.3,325.1 L187.8,325.2 L187.3,325.2 L186.8,325.2 L186.3,325.3 L185.8,325.3 L185.3,325.4 L184.8,325.4 L184.3,325.4 L183.8,325.5 L183.3,325.5 L182.8,325.6 L182.3,325.7 L181.8,325.7 L181.3,325.8 L180.8,325.8 L180.3,325.9 L179.8,325.9 L179.3,326.0 L178.8,326.1 L178.3,326.1 L177.8,326.2 L177.3,326.3 L176.8,326.3 L176.3,326.4 L175.8,326.5 L175.3,326.5 L174.8,326.6 L174.3,326.7 L173.8,326.8 L173.3,326.8 L172.8,326.9 L172.3,327.0 L171.8,327.1 L171.3,327.2 L170.8,327.3 L170.3,327.4 L169.8,327.5 L169.3,327.6 L168.8,327.7 L168.3,327.8 L167.8,327.9 L167.3,328.0 L166.8,328.1 L166.3,328.2 L165.8,328.3 L165.3,328.5 L164.8,328.6 L164.3,328.7 L163.8,328.8 L163.3,328.9 L162.8,329.0 L162.3,329.2 L161.8,329.3 L161.3,329.4 L160.8,329.5 L160.3,329.7 L159.8,329.8 L159.3,329.9 L158.8,330.1 L158.3,330.2 L157.8,330.3 L157.3,330.4 L156.8,330.5 L156.3,330.7 L155.8,330.8 L155.3,330.9 L154.8,331.0 L154.3,331.1 L153.8,331.2 L153.3,331.3 L152.8,331.4 L152.3,331.4 L151.8,331.5 L151.3,331.6 L150.8,331.7 L150.3,331.8 L149.8,331.8 L149.3,331.9 L148.8,332.0 L148.3,332.1 L147.8,332.1 L147.3,332.2 L146.8,332.3 L146.3,332.4 L145.8,332.4 L145.3,332.5 L144.8,332.6 L144.3,332.6 L143.8,332.7 L143.3,332.8 L142.8,332.8 L142.3,332.9 L141.8,332.9 L141.3,333.0 L140.8,333.1 L140.3,333.1 L139.8,333.2 L139.3,333.2 L138.8,333.3 L138.3,333.3 L137.8,333.4 L137.3,333.4 L136.8,333.5 L136.3,333.5 L135.8,333.6 L135.3,333.6 L134.8,333.7 L134.3,333.7 L133.8,333.7 L133.3,333.8 L132.8,333.8 L132.3,333.9 L131.8,333.9 L131.3,333.9 L130.8,334.0 L130.3,334.0 L129.8,334.0 L129.3,334.0 L128.8,334.1 L128.3,334.1 L127.8,334.1 L127.3,334.1 L126.8,334.2 L126.3,334.2 L125.8,334.2 L125.3,334.2 L124.8,334.3 L124.3,334.3 L123.8,334.3 L123.3,334.3 L122.8,334.4 L122.3,334.4 L121.8,334.4 L121.3,334.4 L120.8,334.4 L120.3,334.5 L119.8,334.5 L119.3,334.5 L118.8,334.5 L118.3,334.5 L117.8,334.5 L117.3,334.6 L116.8,334.6 L116.3,334.6 L115.8,334.6 L115.3,334.6 L114.8,334.6 L114.3,334.7 L113.8,334.7 L113.3,334.7 L112.8,334.7 L112.3,334.7 L111.8,334.7 L111.3,334.8 L110.8,334.8 L110.3,334.8 L109.8,334.8 L109.3,334.8 L108.8,334.8 L108.3,334.9 L107.8,334.9 L107.3,334.9 L106.8,334.9 L106.3,334.9 L105.8,334.9 L105.3,335.0 L104.8,335.0 L104.3,335.0 L103.8,335.0 L103.3,335.0 L102.8,335.1 L102.3,335.1 L101.8,335.1 L101.3,335.1 L100.8,335.1 L100.3,335.1 L99.8,335.2 L99.3,335.2 L98.8,335.2 L98.3,335.2 L97.8,335.2 L97.3,335.2 L96.8,335.2 L96.3,335.3 L95.8,335.3 L95.3,335.3 L94.8,335.3 L94.3,335.3 L93.8,335.3 L93.3,335.3 L92.8,335.3 L92.3,335.3 L91.8,335.3 L91.3,335.3 L90.8,335.3 L90.3,335.3 L89.8,335.4 L89.3,335.4 L88.8,335.4 L88.3,335.4 L87.8,335.4 L87.3,335.4 L86.8,335.4 L86.3,335.4 L85.8,335.4 L85.3,335.4 L84.8,335.4 L84.3,335.4 L83.8,335.4 L83.3,335.4 L82.8,335.4 L82.3,335.4 L81.8,335.4 L81.3,335.4 L80.8,335.4 L80.3,335.4 L79.8,335.4 L79.3,335.4 L78.8,335.4 L78.3,335.4 L77.8,335.4 L77.3,335.4 L76.8,335.4 L76.3,335.4 L75.8,335.4 L75.3,335.4 L74.8,335.4 L74.3,335.4 L73.8,335.5 L73.3,335.5 L72.8,335.5 L72.3,335.5 L71.8,335.5 L71.3,335.5 L70.8,335.5 L70.3,335.5 L69.8,335.5 L69.3,335.5 L68.8,335.5 L68.3,335.5 L67.8,335.5 L67.3,335.5 L66.8,335.5 L66.3,335.5 L65.8,335.5 L65.3,335.5 L64.8,335.5 L64.3,335.5 L63.8,335.5 L63.3,335.5 L62.8,335.5 L62.3,335.5 L61.8,335.5 L61.3,335.5 L60.8,335.5 L60.3,335.5 L59.8,335.5 L59.3,335.5 L58.8,335.5 L58.3,335.5 L57.8,335.5 L57.3,335.5 L56.8,335.5 L56.3,335.5 L55.8,335.5 L55.3,335.5 L54.8,335.5 L54.3,335.5 L53.8,335.5 L53.3,335.5 L52.8,335.5 L52.3,335.5 L51.8,335.5 L51.3,335.5 L50.8,335.5 L50.3,335.5 L49.8,335.5 L49.3,335.5 L48.8,335.5 L48.3,335.5 L47.8,335.5 L47.3,335.5 L46.8,335.5 L46.3,335.5 L45.8,335.5 L45.3,335.5 L44.8,335.5 L44.3,335.5 L43.8,335.5 L43.3,335.5 L42.8,335.5 L42.3,335.5 L41.8,335.5 L41.3,335.5 L40.8,335.5 L40.3,335.5 L39.8,335.5 L39.3,335.5 L38.8,335.5 L38.3,335.5 L37.8,335.5 L37.3,335.5 L36.8,335.5 L36.3,335.5 L35.8,335.5 L35.3,335.5 L34.8,335.5 L34.3,335.5 L33.8,335.5 L33.3,335.5 L32.8,335.5 L32.3,335.5 L31.8,335.5 L31.3,335.5 L30.8,335.5 L30.3,335.5 L29.8,335.5 L29.3,335.5 L28.8,335.5 L28.3,335.5 L27.8,335.5 L27.3,335.5 L26.8,335.5 L26.3,335.5 L25.8,335.5 L25.3,335.5 L24.8,335.5 L24.3,335.5 L23.8,335.5 L23.3,335.5 L22.8,335.5 L22.3,335.5 L21.8,335.5 L21.3,335.5 L20.8,335.5 L20.3,335.5 L19.8,335.5 L19.3,335.5 L18.8,335.5 L18.3,335.5 L17.8,335.5 L17.3,335.5 Z" fill="rgb(125,45,175)" fill-opacity="0.42" stroke="rgb(125,45,175)" stroke-opacity="0.42" stroke-width="1.3"/><path d="M17.3,335.5 L17.8,335.5 L18.3,335.5 L18.8,335.5 L19.3,335.5 L19.8,335.5 L20.3,335.5 L20.8,335.5 L21.3,335.5 L21.8,335.5 L22.3,335.5 L22.8,335.5 L23.3,335.5 L23.8,335.5 L24.3,335.5 L24.8,335.5 L25.3,335.5 L25.8,335.5 L26.3,335.5 L26.8,335.5 L27.3,335.5 L27.8,335.5 L28.3,335.5 L28.8,335.5 L29.3,335.5 L29.8,335.5 L30.3,335.5 L30.8,335.5 L31.3,335.5 L31.8,335.5 L32.3,335.5 L32.8,335.5 L33.3,335.5 L33.8,335.5 L34.3,335.5 L34.8,335.5 L35.3,335.5 L35.8,335.5 L36.3,335.4 L36.8,335.4 L37.3,335.4 L37.8,335.4 L38.3,335.4 L38.8,335.4 L39.3,335.4 L39.8,335.4 L40.3,335.4 L40.8,335.4 L41.3,335.4 L41.8,335.4 L42.3,335.4 L42.8,335.4 L43.3,335.4 L43.8,335.3 L44.3,335.3 L44.8,335.3 L45.3,335.3 L45.8,335.3 L46.3,335.3 L46.8,335.3 L47.3,335.3 L47.8,335.3 L48.3,335.3 L48.8,335.3 L49.3,335.3 L49.8,335.2 L50.3,335.2 L50.8,335.2 L51.3,335.2 L51.8,335.1 L52.3,335.1 L52.8,335.1 L53.3,335.0 L53.8,335.0 L54.3,334.9 L54.8,334.8 L55.3,334.7 L55.8,334.7 L56.3,334.6 L56.8,334.5 L57.3,334.3 L57.8,334.2 L58.3,334.1 L58.8,333.9 L59.3,333.7 L59.8,333.6 L60.3,333.4 L60.8,333.2 L61.3,332.9 L61.8,332.7 L62.3,332.5 L62.8,332.2 L63.3,332.0 L63.8,331.8 L64.3,331.5 L64.8,331.3 L65.3,331.1 L65.8,330.9 L66.3,330.7 L66.8,330.5 L67.3,330.2 L67.8,329.9 L68.3,329.5 L68.8,329.1 L69.3,328.5 L69.8,327.8 L70.3,327.0 L70.8,326.0 L71.3,324.9 L71.8,323.7 L72.3,322.3 L72.8,320.9 L73.3,319.3 L73.8,317.7 L74.3,316.0 L74.8,314.1 L75.3,312.2 L75.8,309.8 L76.3,306.8 L76.8,303.0 L77.3,299.3 L77.8,295.4 L78.3,291.3 L78.8,287.1 L79.3,282.7 L79.8,278.1 L80.3,272.2 L80.8,267.2 L81.3,263.2 L81.8,260.6 L82.3,259.4 L82.8,259.6 L83.3,261.1 L83.8,263.8 L84.3,267.5 L84.8,271.3 L85.3,275.3 L85.8,279.9 L86.3,285.0 L86.8,289.3 L87.3,293.2 L87.8,297.2 L88.3,301.0 L88.8,304.1 L89.3,306.6 L89.8,308.9 L90.3,311.0 L90.8,312.7 L91.3,314.3 L91.8,315.6 L92.3,316.8 L92.8,318.0 L93.3,319.0 L93.8,319.9 L94.3,320.7 L94.8,321.5 L95.3,322.2 L95.8,322.8 L96.3,323.3 L96.8,323.9 L97.3,324.4 L97.8,324.9 L98.3,325.3 L98.8,325.8 L99.3,326.1 L99.8,326.5 L100.3,326.8 L100.8,327.1 L101.3,327.4 L101.8,327.6 L102.3,327.8 L102.8,328.1 L103.3,328.2 L103.8,328.4 L104.3,328.6 L104.8,328.7 L105.3,328.8 L105.8,329.0 L106.3,329.1 L106.8,329.2 L107.3,329.3 L107.8,329.4 L108.3,329.4 L108.8,329.5 L109.3,329.6 L109.8,329.7 L110.3,329.7 L110.8,329.8 L111.3,329.9 L111.8,330.0 L112.3,330.0 L112.8,330.1 L113.3,330.2 L113.8,330.2 L114.3,330.3 L114.8,330.4 L115.3,330.4 L115.8,330.5 L116.3,330.6 L116.8,330.7 L117.3,330.7 L117.8,330.8 L118.3,330.9 L118.8,331.0 L119.3,331.0 L119.8,331.1 L120.3,331.2 L120.8,331.2 L121.3,331.3 L121.8,331.4 L122.3,331.4 L122.8,331.5 L123.3,331.5 L123.8,331.6 L124.3,331.6 L124.8,331.7 L125.3,331.7 L125.8,331.7 L126.3,331.7 L126.8,331.8 L127.3,331.8 L127.8,331.8 L128.3,331.8 L128.8,331.8 L129.3,331.8 L129.8,331.8 L130.3,331.8 L130.8,331.8 L131.3,331.8 L131.8,331.8 L132.3,331.8 L132.8,331.7 L133.3,331.7 L133.8,331.7 L134.3,331.7 L134.8,331.7 L135.3,331.6 L135.8,331.6 L136.3,331.6 L136.8,331.6 L137.3,331.5 L137.8,331.5 L138.3,331.5 L138.8,331.4 L139.3,331.4 L139.8,331.4 L140.3,331.3 L140.8,331.3 L141.3,331.2 L141.8,331.2 L142.3,331.2 L142.8,331.1 L143.3,331.1 L143.8,331.0 L144.3,331.0 L144.8,330.9 L145.3,330.9 L145.8,330.8 L146.3,330.8 L146.8,330.7 L147.3,330.6 L147.8,330.6 L148.3,330.5 L148.8,330.4 L149.3,330.4 L149.8,330.3 L150.3,330.2 L150.8,330.2 L151.3,330.1 L151.8,330.0 L152.3,329.9 L152.8,329.8 L153.3,329.8 L153.8,329.7 L154.3,329.6 L154.8,329.5 L155.3,329.4 L155.8,329.3 L156.3,329.2 L156.8,329.2 L157.3,329.1 L157.8,329.0 L158.3,328.9 L158.8,328.8 L159.3,328.7 L159.8,328.6 L160.3,328.5 L160.8,328.5 L161.3,328.4 L161.8,328.3 L162.3,328.2 L162.8,328.1 L163.3,328.0 L163.8,328.0 L164.3,327.9 L164.8,327.8 L165.3,327.7 L165.8,327.6 L166.3,327.5 L166.8,327.4 L167.3,327.4 L167.8,327.3 L168.3,327.2 L168.8,327.1 L169.3,327.0 L169.8,326.9 L170.3,326.8 L170.8,326.7 L171.3,326.6 L171.8,326.5 L172.3,326.4 L172.8,326.3 L173.3,326.2 L173.8,326.1 L174.3,326.0 L174.8,325.8 L175.3,325.7 L175.8,325.6 L176.3,325.5 L176.8,325.4 L177.3,325.2 L177.8,325.1 L178.3,325.0 L178.8,324.9 L179.3,324.7 L179.8,324.6 L180.3,324.5 L180.8,324.3 L181.3,324.2 L181.8,324.1 L182.3,323.9 L182.8,323.8 L183.3,323.7 L183.8,323.5 L184.3,323.4 L184.8,323.2 L185.3,323.1 L185.8,322.9 L186.3,322.8 L186.8,322.6 L187.3,322.4 L187.8,322.3 L188.3,322.1 L188.8,321.9 L189.3,321.8 L189.8,321.6 L190.3,321.4 L190.8,321.2 L191.3,321.0 L191.8,320.8 L192.3,320.7 L192.8,320.5 L193.3,320.3 L193.8,320.1 L194.3,319.9 L194.8,319.7 L195.3,319.4 L195.8,319.1 L196.3,318.8 L196.8,318.4 L197.3,317.8 L197.8,317.2 L198.3,316.5 L198.8,315.6 L199.3,314.5 L199.8,313.2 L200.3,311.6 L200.8,309.8 L201.3,307.8 L201.8,305.8 L202.3,303.8 L202.8,301.4 L203.3,298.5 L203.8,295.8 L204.3,293.8 L204.8,291.9 L205.3,290.2 L205.8,288.9 L206.3,288.2 L206.8,288.4 L207.3,289.5 L207.8,291.3 L208.3,293.2 L208.8,295.2 L209.3,297.6 L209.8,300.0 L210.3,302.2 L210.8,304.1 L211.3,305.7 L211.8,307.2 L212.3,308.5 L212.8,309.6 L213.3,310.5 L213.8,311.4 L214.3,312.2 L214.8,312.9 L215.3,313.5 L215.8,314.0 L216.3,314.4 L216.8,314.8 L217.3,315.2 L217.8,315.6 L218.3,315.9 L218.8,316.3 L219.3,316.6 L219.8,316.9 L220.3,317.1 L220.8,317.4 L221.3,317.6 L221.8,317.9 L222.3,318.1 L222.8,318.3 L223.3,318.5 L223.8,318.6 L224.3,318.8 L224.8,318.9 L225.3,319.1 L225.8,319.3 L226.3,319.5 L226.8,319.7 L227.3,319.9 L227.8,320.1 L228.3,320.3 L228.8,320.5 L229.3,320.7 L229.8,320.9 L230.3,321.0 L230.8,321.2 L231.3,321.3 L231.8,321.4 L232.3,321.4 L232.8,321.5 L233.3,321.6 L233.8,321.6 L234.3,321.6 L234.8,321.7 L235.3,321.7 L235.8,321.7 L236.3,321.7 L236.8,321.7 L237.3,321.6 L237.8,321.6 L238.3,321.6 L238.8,321.6 L239.3,321.5 L239.8,321.5 L240.3,321.5 L240.8,321.4 L241.3,321.4 L241.8,321.3 L242.3,321.3 L242.8,321.2 L243.3,321.2 L243.8,321.1 L244.3,321.1 L244.8,321.0 L245.3,320.9 L245.8,320.9 L246.3,320.8 L246.8,320.7 L247.3,320.7 L247.8,320.6 L248.3,320.5 L248.8,320.5 L249.3,320.4 L249.8,320.3 L250.3,320.2 L250.8,320.2 L251.3,320.1 L251.8,320.0 L252.3,319.9 L252.8,319.9 L253.3,319.8 L253.8,319.7 L254.3,319.6 L254.8,319.6 L255.3,319.5 L255.8,319.4 L256.3,319.3 L256.8,319.3 L257.3,319.2 L257.8,319.1 L258.3,319.0 L258.8,318.9 L259.3,318.9 L259.8,318.8 L260.3,318.7 L260.8,318.6 L261.3,318.5 L261.8,318.5 L262.3,318.4 L262.8,318.3 L263.3,318.2 L263.8,318.1 L264.3,318.1 L264.8,318.0 L265.3,317.9 L265.8,317.8 L266.3,317.7 L266.8,317.6 L267.3,317.6 L267.8,317.5 L268.3,317.4 L268.8,317.3 L269.3,317.2 L269.8,317.1 L270.3,317.1 L270.8,317.0 L271.3,316.9 L271.8,316.8 L272.3,316.7 L272.8,316.6 L273.3,316.6 L273.8,316.5 L274.3,316.4 L274.8,316.3 L275.3,316.2 L275.8,316.1 L276.3,316.1 L276.8,316.0 L277.3,315.9 L277.8,315.8 L278.3,315.7 L278.8,315.6 L279.3,315.5 L279.8,315.5 L280.3,315.4 L280.8,315.3 L281.3,315.2 L281.8,315.1 L282.3,315.0 L282.8,315.0 L283.3,314.9 L283.8,314.8 L284.3,314.7 L284.8,314.6 L285.3,314.5 L285.8,314.5 L286.3,314.4 L286.8,314.3 L287.3,314.2 L287.8,314.1 L287.8,314.2 L287.3,314.3 L286.8,314.5 L286.3,314.6 L285.8,314.8 L285.3,315.0 L284.8,315.1 L284.3,315.3 L283.8,315.5 L283.3,315.6 L282.8,315.8 L282.3,316.0 L281.8,316.1 L281.3,316.3 L280.8,316.4 L280.3,316.6 L279.8,316.8 L279.3,316.9 L278.8,317.1 L278.3,317.2 L277.8,317.4 L277.3,317.5 L276.8,317.7 L276.3,317.8 L275.8,317.9 L275.3,318.1 L274.8,318.2 L274.3,318.3 L273.8,318.5 L273.3,318.6 L272.8,318.7 L272.3,318.8 L271.8,319.0 L271.3,319.1 L270.8,319.2 L270.3,319.3 L269.8,319.4 L269.3,319.5 L268.8,319.6 L268.3,319.7 L267.8,319.8 L267.3,319.9 L266.8,320.0 L266.3,320.1 L265.8,320.2 L265.3,320.3 L264.8,320.4 L264.3,320.5 L263.8,320.6 L263.3,320.7 L262.8,320.8 L262.3,320.8 L261.8,320.9 L261.3,321.0 L260.8,321.1 L260.3,321.1 L259.8,321.2 L259.3,321.3 L258.8,321.3 L258.3,321.4 L257.8,321.4 L257.3,321.5 L256.8,321.5 L256.3,321.6 L255.8,321.6 L255.3,321.7 L254.8,321.7 L254.3,321.8 L253.8,321.8 L253.3,321.9 L252.8,321.9 L252.3,321.9 L251.8,322.0 L251.3,322.0 L250.8,322.0 L250.3,322.1 L249.8,322.1 L249.3,322.1 L248.8,322.2 L248.3,322.2 L247.8,322.2 L247.3,322.2 L246.8,322.3 L246.3,322.3 L245.8,322.3 L245.3,322.3 L244.8,322.4 L244.3,322.4 L243.8,322.4 L243.3,322.4 L242.8,322.5 L242.3,322.5 L241.8,322.5 L241.3,322.5 L240.8,322.6 L240.3,322.6 L239.8,322.6 L239.3,322.6 L238.8,322.6 L238.3,322.7 L237.8,322.7 L237.3,322.7 L236.8,322.7 L236.3,322.7 L235.8,322.8 L235.3,322.8 L234.8,322.8 L234.3,322.8 L233.8,322.8 L233.3,322.9 L232.8,322.9 L232.3,322.9 L231.8,322.9 L231.3,322.9 L230.8,323.0 L230.3,323.0 L229.8,323.0 L229.3,323.0 L228.8,323.0 L228.3,323.0 L227.8,323.1 L227.3,323.1 L226.8,323.1 L226.3,323.1 L225.8,323.1 L225.3,323.1 L224.8,323.1 L224.3,323.1 L223.8,323.2 L223.3,323.2 L222.8,323.2 L222.3,323.2 L221.8,323.2 L221.3,323.2 L220.8,323.2 L220.3,323.2 L219.8,323.3 L219.3,323.3 L218.8,323.3 L218.3,323.3 L217.8,323.3 L217.3,323.3 L216.8,323.3 L216.3,323.4 L215.8,323.4 L215.3,323.4 L214.8,323.4 L214.3,323.4 L213.8,323.4 L213.3,323.5 L212.8,323.5 L212.3,323.5 L211.8,323.5 L211.3,323.5 L210.8,323.6 L210.3,323.6 L209.8,323.6 L209.3,323.6 L208.8,323.7 L208.3,323.7 L207.8,323.7 L207.3,323.7 L206.8,323.8 L206.3,323.8 L205.8,323.8 L205.3,323.9 L204.8,323.9 L204.3,323.9 L203.8,324.0 L203.3,324.0 L202.8,324.0 L202.3,324.1 L201.8,324.1 L201.3,324.1 L200.8,324.2 L200.3,324.2 L199.8,324.2 L199.3,324.3 L198.8,324.3 L198.3,324.4 L197.8,324.4 L197.3,324.4 L196.8,324.5 L196.3,324.5 L195.8,324.5 L195.3,324.6 L194.8,324.6 L194.3,324.7 L193.8,324.7 L193.3,324.7 L192.8,324.8 L192.3,324.8 L191.8,324.9 L191.3,324.9 L190.8,324.9 L190.3,325.0 L189.8,325.0 L189.3,325.1 L188.8,325.1 L188.3,325.1 L187.8,325.2 L187.3,325.2 L186.8,325.2 L186.3,325.3 L185.8,325.3 L185.3,325.4 L184.8,325.4 L184.3,325.4 L183.8,325.5 L183.3,325.5 L182.8,325.6 L182.3,325.7 L181.8,325.7 L181.3,325.8 L180.8,325.8 L180.3,325.9 L179.8,325.9 L179.3,326.0 L178.8,326.1 L178.3,326.1 L177.8,326.2 L177.3,326.3 L176.8,326.3 L176.3,326.4 L175.8,326.5 L175.3,326.5 L174.8,326.6 L174.3,326.7 L173.8,326.8 L173.3,326.8 L172.8,326.9 L172.3,327.0 L171.8,327.1 L171.3,327.2 L170.8,327.3 L170.3,327.4 L169.8,327.5 L169.3,327.6 L168.8,327.7 L168.3,327.8 L167.8,327.9 L167.3,328.0 L166.8,328.1 L166.3,328.2 L165.8,328.3 L165.3,328.5 L164.8,328.6 L164.3,328.7 L163.8,328.8 L163.3,328.9 L162.8,329.0 L162.3,329.2 L161.8,329.3 L161.3,329.4 L160.8,329.5 L160.3,329.7 L159.8,329.8 L159.3,329.9 L158.8,330.1 L158.3,330.2 L157.8,330.3 L157.3,330.4 L156.8,330.5 L156.3,330.7 L155.8,330.8 L155.3,330.9 L154.8,331.0 L154.3,331.1 L153.8,331.2 L153.3,331.3 L152.8,331.4 L152.3,331.4 L151.8,331.5 L151.3,331.6 L150.8,331.7 L150.3,331.8 L149.8,331.8 L149.3,331.9 L148.8,332.0 L148.3,332.1 L147.8,332.1 L147.3,332.2 L146.8,332.3 L146.3,332.4 L145.8,332.4 L145.3,332.5 L144.8,332.6 L144.3,332.6 L143.8,332.7 L143.3,332.8 L142.8,332.8 L142.3,332.9 L141.8,332.9 L141.3,333.0 L140.8,333.1 L140.3,333.1 L139.8,333.2 L139.3,333.2 L138.8,333.3 L138.3,333.3 L137.8,333.4 L137.3,333.4 L136.8,333.5 L136.3,333.5 L135.8,333.6 L135.3,333.6 L134.8,333.7 L134.3,333.7 L133.8,333.7 L133.3,333.8 L132.8,333.8 L132.3,333.9 L131.8,333.9 L131.3,333.9 L130.8,334.0 L130.3,334.0 L129.8,334.0 L129.3,334.0 L128.8,334.1 L128.3,334.1 L127.8,334.1 L127.3,334.1 L126.8,334.2 L126.3,334.2 L125.8,334.2 L125.3,334.2 L124.8,334.3 L124.3,334.3 L123.8,334.3 L123.3,334.3 L122.8,334.4 L122.3,334.4 L121.8,334.4 L121.3,334.4 L120.8,334.4 L120.3,334.5 L119.8,334.5 L119.3,334.5 L118.8,334.5 L118.3,334.5 L117.8,334.5 L117.3,334.6 L116.8,334.6 L116.3,334.6 L115.8,334.6 L115.3,334.6 L114.8,334.6 L114.3,334.7 L113.8,334.7 L113.3,334.7 L112.8,334.7 L112.3,334.7 L111.8,334.7 L111.3,334.8 L110.8,334.8 L110.3,334.8 L109.8,334.8 L109.3,334.8 L108.8,334.8 L108.3,334.9 L107.8,334.9 L107.3,334.9 L106.8,334.9 L106.3,334.9 L105.8,334.9 L105.3,335.0 L104.8,335.0 L104.3,335.0 L103.8,335.0 L103.3,335.0 L102.8,335.1 L102.3,335.1 L101.8,335.1 L101.3,335.1 L100.8,335.1 L100.3,335.1 L99.8,335.2 L99.3,335.2 L98.8,335.2 L98.3,335.2 L97.8,335.2 L97.3,335.2 L96.8,335.2 L96.3,335.3 L95.8,335.3 L95.3,335.3 L94.8,335.3 L94.3,335.3 L93.8,335.3 L93.3,335.3 L92.8,335.3 L92.3,335.3 L91.8,335.3 L91.3,335.3 L90.8,335.3 L90.3,335.3 L89.8,335.4 L89.3,335.4 L88.8,335.4 L88.3,335.4 L87.8,335.4 L87.3,335.4 L86.8,335.4 L86.3,335.4 L85.8,335.4 L85.3,335.4 L84.8,335.4 L84.3,335.4 L83.8,335.4 L83.3,335.4 L82.8,335.4 L82.3,335.4 L81.8,335.4 L81.3,335.4 L80.8,335.4 L80.3,335.4 L79.8,335.4 L79.3,335.4 L78.8,335.4 L78.3,335.4 L77.8,335.4 L77.3,335.4 L76.8,335.4 L76.3,335.4 L75.8,335.4 L75.3,335.4 L74.8,335.4 L74.3,335.4 L73.8,335.5 L73.3,335.5 L72.8,335.5 L72.3,335.5 L71.8,335.5 L71.3,335.5 L70.8,335.5 L70.3,335.5 L69.8,335.5 L69.3,335.5 L68.8,335.5 L68.3,335.5 L67.8,335.5 L67.3,335.5 L66.8,335.5 L66.3,335.5 L65.8,335.5 L65.3,335.5 L64.8,335.5 L64.3,335.5 L63.8,335.5 L63.3,335.5 L62.8,335.5 L62.3,335.5 L61.8,335.5 L61.3,335.5 L60.8,335.5 L60.3,335.5 L59.8,335.5 L59.3,335.5 L58.8,335.5 L58.3,335.5 L57.8,335.5 L57.3,335.5 L56.8,335.5 L56.3,335.5 L55.8,335.5 L55.3,335.5 L54.8,335.5 L54.3,335.5 L53.8,335.5 L53.3,335.5 L52.8,335.5 L52.3,335.5 L51.8,335.5 L51.3,335.5 L50.8,335.5 L50.3,335.5 L49.8,335.5 L49.3,335.5 L48.8,335.5 L48.3,335.5 L47.8,335.5 L47.3,335.5 L46.8,335.5 L46.3,335.5 L45.8,335.5 L45.3,335.5 L44.8,335.5 L44.3,335.5 L43.8,335.5 L43.3,335.5 L42.8,335.5 L42.3,335.5 L41.8,335.5 L41.3,335.5 L40.8,335.5 L40.3,335.5 L39.8,335.5 L39.3,335.5 L38.8,335.5 L38.3,335.5 L37.8,335.5 L37.3,335.5 L36.8,335.5 L36.3,335.5 L35.8,335.5 L35.3,335.5 L34.8,335.5 L34.3,335.5 L33.8,335.5 L33.3,335.5 L32.8,335.5 L32.3,335.5 L31.8,335.5 L31.3,335.5 L30.8,335.5 L30.3,335.5 L29.8,335.5 L29.3,335.5 L28.8,335.5 L28.3,335.5 L27.8,335.5 L27.3,335.5 L26.8,335.5 L26.3,335.5 L25.8,335.5 L25.3,335.5 L24.8,335.5 L24.3,335.5 L23.8,335.5 L23.3,335.5 L22.8,335.5 L22.3,335.5 L21.8,335.5 L21.3,335.5 L20.8,335.5 L20.3,335.5 L19.8,335.5 L19.3,335.5 L18.8,335.5 L18.3,335.5 L17.8,335.5 L17.3,335.5 Z" fill="rgb(195,29,100)" fill-opacity="0.42" stroke="rgb(195,29,100)" stroke-opacity="0.42" stroke-width="1.3"/></g>
<g clip-path="url(#cbl)"><path d="M314.5,334.9 L315.0,334.9 L315.5,334.9 L316.0,334.9 L316.5,334.8 L317.0,334.8 L317.5,334.8 L318.0,334.8 L318.5,334.8 L319.0,334.8 L319.5,334.8 L320.0,334.8 L320.5,334.7 L321.0,334.7 L321.5,334.7 L322.0,334.7 L322.5,334.7 L323.0,334.7 L323.5,334.6 L324.0,334.6 L324.5,334.6 L325.0,334.6 L325.5,334.6 L326.0,334.5 L326.5,334.5 L327.0,334.5 L327.5,334.4 L328.0,334.4 L328.5,334.3 L329.0,334.3 L329.5,334.2 L330.0,334.2 L330.5,334.1 L331.0,334.1 L331.5,334.0 L332.0,333.9 L332.5,333.9 L333.0,333.8 L333.5,333.7 L334.0,333.6 L334.5,333.6 L335.0,333.5 L335.5,333.4 L336.0,333.3 L336.5,333.2 L337.0,333.1 L337.5,333.0 L338.0,332.9 L338.5,332.8 L339.0,332.7 L339.5,332.6 L340.0,332.5 L340.5,332.4 L341.0,332.3 L341.5,332.2 L342.0,332.1 L342.5,332.0 L343.0,331.9 L343.5,331.7 L344.0,331.6 L344.5,331.5 L345.0,331.3 L345.5,331.1 L346.0,331.0 L346.5,330.8 L347.0,330.5 L347.5,330.2 L348.0,329.8 L348.5,329.1 L349.0,328.5 L349.5,327.8 L350.0,327.1 L350.5,326.2 L351.0,325.3 L351.5,324.3 L352.0,323.2 L352.5,322.0 L353.0,320.7 L353.5,319.2 L354.0,317.5 L354.5,315.7 L355.0,314.0 L355.5,312.7 L356.0,311.6 L356.5,310.4 L357.0,308.5 L357.5,305.7 L358.0,302.1 L358.5,298.6 L359.0,295.3 L359.5,291.9 L360.0,288.0 L360.5,283.4 L361.0,278.0 L361.5,272.2 L362.0,266.4 L362.5,260.5 L363.0,254.5 L363.5,248.8 L364.0,244.0 L364.5,240.5 L365.0,238.1 L365.5,237.5 L366.0,238.8 L366.5,241.0 L367.0,243.4 L367.5,246.5 L368.0,250.6 L368.5,255.5 L369.0,260.6 L369.5,265.7 L370.0,270.3 L370.5,274.6 L371.0,278.7 L371.5,282.6 L372.0,285.9 L372.5,288.7 L373.0,293.1 L373.5,296.2 L374.0,298.4 L374.5,300.4 L375.0,302.4 L375.5,304.3 L376.0,306.0 L376.5,307.5 L377.0,308.9 L377.5,310.1 L378.0,311.3 L378.5,312.5 L379.0,313.6 L379.5,314.6 L380.0,315.4 L380.5,316.0 L381.0,316.5 L381.5,316.9 L382.0,317.3 L382.5,317.6 L383.0,317.9 L383.5,318.1 L384.0,318.2 L384.5,318.1 L385.0,318.0 L385.5,317.8 L386.0,317.5 L386.5,317.2 L387.0,316.9 L387.5,316.5 L388.0,316.1 L388.5,315.6 L389.0,315.1 L389.5,314.6 L390.0,314.2 L390.5,313.8 L391.0,313.3 L391.5,312.9 L392.0,312.5 L392.5,312.2 L393.0,312.1 L393.5,312.1 L394.0,312.4 L394.5,312.7 L395.0,313.2 L395.5,313.7 L396.0,314.3 L396.5,315.0 L397.0,315.7 L397.5,316.8 L398.0,318.2 L398.5,319.5 L399.0,320.6 L399.5,321.7 L400.0,322.6 L400.5,323.5 L401.0,324.3 L401.5,324.9 L402.0,325.6 L402.5,326.1 L403.0,326.6 L403.5,327.0 L404.0,327.4 L404.5,327.7 L405.0,327.9 L405.5,328.1 L406.0,328.3 L406.5,328.5 L407.0,328.6 L407.5,328.8 L408.0,328.9 L408.5,329.0 L409.0,329.1 L409.5,329.2 L410.0,329.3 L410.5,329.4 L411.0,329.5 L411.5,329.6 L412.0,329.7 L412.5,329.7 L413.0,329.8 L413.5,329.9 L414.0,330.0 L414.5,330.1 L415.0,330.1 L415.5,330.2 L416.0,330.3 L416.5,330.3 L417.0,330.4 L417.5,330.5 L418.0,330.5 L418.5,330.6 L419.0,330.7 L419.5,330.7 L420.0,330.8 L420.5,330.9 L421.0,330.9 L421.5,331.0 L422.0,331.0 L422.5,331.1 L423.0,331.1 L423.5,331.2 L424.0,331.2 L424.5,331.2 L425.0,331.3 L425.5,331.3 L426.0,331.3 L426.5,331.4 L427.0,331.4 L427.5,331.4 L428.0,331.5 L428.5,331.5 L429.0,331.5 L429.5,331.6 L430.0,331.6 L430.5,331.7 L431.0,331.7 L431.5,331.8 L432.0,331.8 L432.5,331.8 L433.0,331.9 L433.5,331.9 L434.0,332.0 L434.5,332.0 L435.0,332.0 L435.5,332.1 L436.0,332.1 L436.5,332.1 L437.0,332.1 L437.5,332.1 L438.0,332.2 L438.5,332.2 L439.0,332.2 L439.5,332.2 L440.0,332.2 L440.5,332.2 L441.0,332.2 L441.5,332.3 L442.0,332.3 L442.5,332.3 L443.0,332.3 L443.5,332.3 L444.0,332.3 L444.5,332.3 L445.0,332.3 L445.5,332.3 L446.0,332.3 L446.5,332.3 L447.0,332.3 L447.5,332.3 L448.0,332.3 L448.5,332.3 L449.0,332.3 L449.5,332.3 L450.0,332.3 L450.5,332.3 L451.0,332.3 L451.5,332.3 L452.0,332.3 L452.5,332.3 L453.0,332.3 L453.5,332.3 L454.0,332.3 L454.5,332.3 L455.0,332.3 L455.5,332.2 L456.0,332.2 L456.5,332.2 L457.0,332.2 L457.5,332.2 L458.0,332.2 L458.5,332.2 L459.0,332.2 L459.5,332.2 L460.0,332.2 L460.5,332.2 L461.0,332.2 L461.5,332.2 L462.0,332.2 L462.5,332.2 L463.0,332.2 L463.5,332.2 L464.0,332.1 L464.5,332.1 L465.0,332.1 L465.5,332.1 L466.0,332.1 L466.5,332.1 L467.0,332.1 L467.5,332.1 L468.0,332.1 L468.5,332.1 L469.0,332.1 L469.5,332.1 L470.0,332.1 L470.5,332.1 L471.0,332.1 L471.5,332.0 L472.0,332.0 L472.5,332.0 L473.0,332.0 L473.5,332.0 L474.0,332.0 L474.5,332.0 L475.0,332.0 L475.5,332.0 L476.0,332.0 L476.5,332.0 L477.0,332.0 L477.5,332.0 L478.0,331.9 L478.5,331.9 L479.0,331.9 L479.5,331.9 L480.0,331.9 L480.5,331.9 L481.0,331.9 L481.5,331.9 L482.0,331.9 L482.5,331.9 L483.0,331.9 L483.5,331.9 L484.0,331.9 L484.5,331.8 L485.0,331.8 L485.5,331.8 L486.0,331.8 L486.5,331.8 L487.0,331.8 L487.5,331.8 L488.0,331.8 L488.5,331.8 L489.0,331.8 L489.5,331.8 L490.0,331.8 L490.5,331.8 L491.0,331.7 L491.5,331.7 L492.0,331.7 L492.5,331.7 L493.0,331.7 L493.5,331.7 L494.0,331.7 L494.5,331.7 L494.5,332.8 L494.0,332.8 L493.5,332.8 L493.0,332.9 L492.5,332.9 L492.0,332.9 L491.5,332.9 L491.0,332.9 L490.5,333.0 L490.0,333.0 L489.5,333.0 L489.0,333.0 L488.5,333.1 L488.0,333.1 L487.5,333.1 L487.0,333.1 L486.5,333.1 L486.0,333.2 L485.5,333.2 L485.0,333.2 L484.5,333.2 L484.0,333.2 L483.5,333.3 L483.0,333.3 L482.5,333.3 L482.0,333.3 L481.5,333.3 L481.0,333.4 L480.5,333.4 L480.0,333.4 L479.5,333.4 L479.0,333.4 L478.5,333.5 L478.0,333.5 L477.5,333.5 L477.0,333.5 L476.5,333.5 L476.0,333.6 L475.5,333.6 L475.0,333.6 L474.5,333.6 L474.0,333.6 L473.5,333.7 L473.0,333.7 L472.5,333.7 L472.0,333.7 L471.5,333.7 L471.0,333.7 L470.5,333.8 L470.0,333.8 L469.5,333.8 L469.0,333.8 L468.5,333.8 L468.0,333.8 L467.5,333.9 L467.0,333.9 L466.5,333.9 L466.0,333.9 L465.5,333.9 L465.0,333.9 L464.5,333.9 L464.0,334.0 L463.5,334.0 L463.0,334.0 L462.5,334.0 L462.0,334.0 L461.5,334.0 L461.0,334.0 L460.5,334.1 L460.0,334.1 L459.5,334.1 L459.0,334.1 L458.5,334.1 L458.0,334.1 L457.5,334.1 L457.0,334.2 L456.5,334.2 L456.0,334.2 L455.5,334.2 L455.0,334.2 L454.5,334.2 L454.0,334.2 L453.5,334.2 L453.0,334.3 L452.5,334.3 L452.0,334.3 L451.5,334.3 L451.0,334.3 L450.5,334.3 L450.0,334.3 L449.5,334.3 L449.0,334.4 L448.5,334.4 L448.0,334.4 L447.5,334.4 L447.0,334.4 L446.5,334.4 L446.0,334.4 L445.5,334.4 L445.0,334.5 L444.5,334.5 L444.0,334.5 L443.5,334.5 L443.0,334.5 L442.5,334.5 L442.0,334.5 L441.5,334.5 L441.0,334.5 L440.5,334.5 L440.0,334.6 L439.5,334.6 L439.0,334.6 L438.5,334.6 L438.0,334.6 L437.5,334.6 L437.0,334.6 L436.5,334.6 L436.0,334.6 L435.5,334.6 L435.0,334.6 L434.5,334.6 L434.0,334.7 L433.5,334.7 L433.0,334.7 L432.5,334.7 L432.0,334.7 L431.5,334.7 L431.0,334.7 L430.5,334.7 L430.0,334.7 L429.5,334.7 L429.0,334.7 L428.5,334.7 L428.0,334.7 L427.5,334.7 L427.0,334.7 L426.5,334.7 L426.0,334.7 L425.5,334.7 L425.0,334.7 L424.5,334.8 L424.0,334.8 L423.5,334.8 L423.0,334.8 L422.5,334.8 L422.0,334.8 L421.5,334.8 L421.0,334.8 L420.5,334.8 L420.0,334.8 L419.5,334.8 L419.0,334.8 L418.5,334.8 L418.0,334.8 L417.5,334.8 L417.0,334.8 L416.5,334.8 L416.0,334.8 L415.5,334.8 L415.0,334.8 L414.5,334.8 L414.0,334.8 L413.5,334.8 L413.0,334.8 L412.5,334.8 L412.0,334.8 L411.5,334.9 L411.0,334.9 L410.5,334.9 L410.0,334.9 L409.5,334.9 L409.0,334.9 L408.5,334.9 L408.0,334.9 L407.5,334.9 L407.0,334.9 L406.5,334.9 L406.0,334.9 L405.5,334.9 L405.0,334.9 L404.5,334.9 L404.0,334.9 L403.5,334.9 L403.0,334.9 L402.5,334.9 L402.0,334.9 L401.5,334.9 L401.0,334.9 L400.5,334.9 L400.0,334.9 L399.5,334.9 L399.0,334.9 L398.5,334.9 L398.0,334.9 L397.5,334.9 L397.0,334.9 L396.5,334.9 L396.0,334.9 L395.5,334.9 L395.0,334.9 L394.5,334.9 L394.0,334.9 L393.5,334.9 L393.0,334.9 L392.5,335.0 L392.0,335.0 L391.5,335.0 L391.0,335.0 L390.5,335.0 L390.0,335.0 L389.5,335.0 L389.0,335.0 L388.5,335.0 L388.0,335.0 L387.5,335.0 L387.0,335.0 L386.5,335.0 L386.0,335.0 L385.5,335.0 L385.0,335.0 L384.5,335.0 L384.0,335.0 L383.5,335.0 L383.0,335.0 L382.5,335.0 L382.0,335.0 L381.5,335.0 L381.0,335.0 L380.5,335.0 L380.0,335.0 L379.5,335.0 L379.0,335.0 L378.5,335.0 L378.0,335.0 L377.5,335.0 L377.0,335.0 L376.5,335.0 L376.0,335.0 L375.5,335.0 L375.0,335.0 L374.5,335.0 L374.0,335.0 L373.5,335.0 L373.0,335.0 L372.5,335.0 L372.0,335.0 L371.5,335.0 L371.0,335.0 L370.5,335.0 L370.0,335.0 L369.5,335.0 L369.0,335.0 L368.5,335.0 L368.0,335.0 L367.5,335.0 L367.0,335.0 L366.5,335.0 L366.0,335.0 L365.5,335.0 L365.0,335.0 L364.5,335.0 L364.0,335.0 L363.5,335.0 L363.0,335.0 L362.5,335.0 L362.0,335.0 L361.5,335.0 L361.0,335.0 L360.5,335.0 L360.0,335.0 L359.5,335.0 L359.0,335.0 L358.5,335.0 L358.0,335.0 L357.5,335.1 L357.0,335.1 L356.5,335.1 L356.0,335.1 L355.5,335.1 L355.0,335.1 L354.5,335.1 L354.0,335.1 L353.5,335.1 L353.0,335.1 L352.5,335.1 L352.0,335.1 L351.5,335.1 L351.0,335.1 L350.5,335.1 L350.0,335.1 L349.5,335.1 L349.0,335.1 L348.5,335.1 L348.0,335.1 L347.5,335.1 L347.0,335.1 L346.5,335.1 L346.0,335.1 L345.5,335.1 L345.0,335.1 L344.5,335.1 L344.0,335.1 L343.5,335.1 L343.0,335.1 L342.5,335.1 L342.0,335.1 L341.5,335.1 L341.0,335.1 L340.5,335.1 L340.0,335.1 L339.5,335.1 L339.0,335.1 L338.5,335.1 L338.0,335.1 L337.5,335.1 L337.0,335.1 L336.5,335.1 L336.0,335.1 L335.5,335.1 L335.0,335.1 L334.5,335.1 L334.0,335.1 L333.5,335.1 L333.0,335.1 L332.5,335.1 L332.0,335.1 L331.5,335.1 L331.0,335.1 L330.5,335.1 L330.0,335.1 L329.5,335.1 L329.0,335.1 L328.5,335.1 L328.0,335.1 L327.5,335.1 L327.0,335.1 L326.5,335.1 L326.0,335.1 L325.5,335.1 L325.0,335.1 L324.5,335.1 L324.0,335.1 L323.5,335.1 L323.0,335.1 L322.5,335.1 L322.0,335.1 L321.5,335.1 L321.0,335.1 L320.5,335.1 L320.0,335.1 L319.5,335.1 L319.0,335.1 L318.5,335.1 L318.0,335.1 L317.5,335.1 L317.0,335.1 L316.5,335.1 L316.0,335.1 L315.5,335.1 L315.0,335.1 L314.5,335.1 Z" fill="rgb(110,170,68)" fill-opacity="0.40" stroke="rgb(110,170,68)" stroke-opacity="0.40" stroke-width="1.3"/><path d="M314.5,334.9 L315.0,334.9 L315.5,334.9 L316.0,334.9 L316.5,334.9 L317.0,334.9 L317.5,334.8 L318.0,334.8 L318.5,334.8 L319.0,334.8 L319.5,334.8 L320.0,334.8 L320.5,334.8 L321.0,334.8 L321.5,334.8 L322.0,334.8 L322.5,334.8 L323.0,334.8 L323.5,334.8 L324.0,334.8 L324.5,334.7 L325.0,334.7 L325.5,334.7 L326.0,334.7 L326.5,334.7 L327.0,334.7 L327.5,334.7 L328.0,334.7 L328.5,334.7 L329.0,334.7 L329.5,334.7 L330.0,334.6 L330.5,334.6 L331.0,334.6 L331.5,334.6 L332.0,334.6 L332.5,334.6 L333.0,334.6 L333.5,334.6 L334.0,334.5 L334.5,334.5 L335.0,334.5 L335.5,334.5 L336.0,334.5 L336.5,334.5 L337.0,334.4 L337.5,334.4 L338.0,334.4 L338.5,334.4 L339.0,334.4 L339.5,334.3 L340.0,334.3 L340.5,334.3 L341.0,334.2 L341.5,334.2 L342.0,334.2 L342.5,334.1 L343.0,334.1 L343.5,334.1 L344.0,334.0 L344.5,334.0 L345.0,333.9 L345.5,333.9 L346.0,333.8 L346.5,333.8 L347.0,333.7 L347.5,333.6 L348.0,333.5 L348.5,333.3 L349.0,333.2 L349.5,333.0 L350.0,332.7 L350.5,332.5 L351.0,332.2 L351.5,331.9 L352.0,331.5 L352.5,331.0 L353.0,330.5 L353.5,329.8 L354.0,329.1 L354.5,328.3 L355.0,327.5 L355.5,326.8 L356.0,326.0 L356.5,325.3 L357.0,324.6 L357.5,323.8 L358.0,323.1 L358.5,322.3 L359.0,321.5 L359.5,320.7 L360.0,319.7 L360.5,318.7 L361.0,317.5 L361.5,316.2 L362.0,314.6 L362.5,312.8 L363.0,310.9 L363.5,308.7 L364.0,306.4 L364.5,304.1 L365.0,301.8 L365.5,299.6 L366.0,297.3 L366.5,294.9 L367.0,292.8 L367.5,290.9 L368.0,289.0 L368.5,287.1 L369.0,285.3 L369.5,283.5 L370.0,281.9 L370.5,280.3 L371.0,278.8 L371.5,277.5 L372.0,276.4 L372.5,275.4 L373.0,274.5 L373.5,273.6 L374.0,272.7 L374.5,271.7 L375.0,270.6 L375.5,269.3 L376.0,268.0 L376.5,266.6 L377.0,265.2 L377.5,263.8 L378.0,262.4 L378.5,261.0 L379.0,259.5 L379.5,257.9 L380.0,256.2 L380.5,254.4 L381.0,252.6 L381.5,251.0 L382.0,249.5 L382.5,248.2 L383.0,247.7 L383.5,247.9 L384.0,248.6 L384.5,249.5 L385.0,250.5 L385.5,251.6 L386.0,252.8 L386.5,254.2 L387.0,255.8 L387.5,257.5 L388.0,259.4 L388.5,261.3 L389.0,263.4 L389.5,265.7 L390.0,268.5 L390.5,271.9 L391.0,274.9 L391.5,277.2 L392.0,279.3 L392.5,281.3 L393.0,283.2 L393.5,285.0 L394.0,286.8 L394.5,288.5 L395.0,290.2 L395.5,291.8 L396.0,293.4 L396.5,295.0 L397.0,296.6 L397.5,297.9 L398.0,298.9 L398.5,299.6 L399.0,300.2 L399.5,300.7 L400.0,301.2 L400.5,301.8 L401.0,302.4 L401.5,302.9 L402.0,303.5 L402.5,304.1 L403.0,304.6 L403.5,305.2 L404.0,305.8 L404.5,306.4 L405.0,307.0 L405.5,307.6 L406.0,308.3 L406.5,309.0 L407.0,309.7 L407.5,310.3 L408.0,311.0 L408.5,311.6 L409.0,312.3 L409.5,312.9 L410.0,313.4 L410.5,314.0 L411.0,314.5 L411.5,315.0 L412.0,315.4 L412.5,315.8 L413.0,316.3 L413.5,316.7 L414.0,317.0 L414.5,317.4 L415.0,317.8 L415.5,318.1 L416.0,318.5 L416.5,318.8 L417.0,319.1 L417.5,319.4 L418.0,319.7 L418.5,320.0 L419.0,320.3 L419.5,320.6 L420.0,320.9 L420.5,321.2 L421.0,321.4 L421.5,321.6 L422.0,321.8 L422.5,322.0 L423.0,322.1 L423.5,322.3 L424.0,322.4 L424.5,322.6 L425.0,322.7 L425.5,322.8 L426.0,323.0 L426.5,323.1 L427.0,323.2 L427.5,323.3 L428.0,323.4 L428.5,323.5 L429.0,323.6 L429.5,323.7 L430.0,323.8 L430.5,323.9 L431.0,324.0 L431.5,324.1 L432.0,324.2 L432.5,324.3 L433.0,324.4 L433.5,324.6 L434.0,324.7 L434.5,324.8 L435.0,324.9 L435.5,325.0 L436.0,325.2 L436.5,325.3 L437.0,325.4 L437.5,325.6 L438.0,325.7 L438.5,325.9 L439.0,326.0 L439.5,326.2 L440.0,326.3 L440.5,326.5 L441.0,326.6 L441.5,326.8 L442.0,326.9 L442.5,327.0 L443.0,327.2 L443.5,327.3 L444.0,327.4 L444.5,327.5 L445.0,327.6 L445.5,327.7 L446.0,327.8 L446.5,327.8 L447.0,327.9 L447.5,328.0 L448.0,328.0 L448.5,328.1 L449.0,328.1 L449.5,328.2 L450.0,328.2 L450.5,328.2 L451.0,328.3 L451.5,328.3 L452.0,328.3 L452.5,328.3 L453.0,328.4 L453.5,328.4 L454.0,328.4 L454.5,328.5 L455.0,328.5 L455.5,328.5 L456.0,328.6 L456.5,328.6 L457.0,328.6 L457.5,328.7 L458.0,328.7 L458.5,328.7 L459.0,328.8 L459.5,328.8 L460.0,328.8 L460.5,328.8 L461.0,328.9 L461.5,328.9 L462.0,328.9 L462.5,329.0 L463.0,329.0 L463.5,329.0 L464.0,329.0 L464.5,329.1 L465.0,329.1 L465.5,329.1 L466.0,329.1 L466.5,329.1 L467.0,329.2 L467.5,329.2 L468.0,329.2 L468.5,329.2 L469.0,329.3 L469.5,329.3 L470.0,329.3 L470.5,329.3 L471.0,329.3 L471.5,329.4 L472.0,329.4 L472.5,329.4 L473.0,329.4 L473.5,329.4 L474.0,329.4 L474.5,329.5 L475.0,329.5 L475.5,329.5 L476.0,329.5 L476.5,329.5 L477.0,329.6 L477.5,329.6 L478.0,329.6 L478.5,329.6 L479.0,329.6 L479.5,329.6 L480.0,329.6 L480.5,329.7 L481.0,329.7 L481.5,329.7 L482.0,329.7 L482.5,329.7 L483.0,329.7 L483.5,329.8 L484.0,329.8 L484.5,329.8 L485.0,329.8 L485.5,329.8 L486.0,329.8 L486.5,329.9 L487.0,329.9 L487.5,329.9 L488.0,329.9 L488.5,329.9 L489.0,329.9 L489.5,329.9 L490.0,330.0 L490.5,330.0 L491.0,330.0 L491.5,330.0 L492.0,330.0 L492.5,330.0 L493.0,330.1 L493.5,330.1 L494.0,330.1 L494.5,330.1 L494.5,332.8 L494.0,332.8 L493.5,332.8 L493.0,332.9 L492.5,332.9 L492.0,332.9 L491.5,332.9 L491.0,332.9 L490.5,333.0 L490.0,333.0 L489.5,333.0 L489.0,333.0 L488.5,333.1 L488.0,333.1 L487.5,333.1 L487.0,333.1 L486.5,333.1 L486.0,333.2 L485.5,333.2 L485.0,333.2 L484.5,333.2 L484.0,333.2 L483.5,333.3 L483.0,333.3 L482.5,333.3 L482.0,333.3 L481.5,333.3 L481.0,333.4 L480.5,333.4 L480.0,333.4 L479.5,333.4 L479.0,333.4 L478.5,333.5 L478.0,333.5 L477.5,333.5 L477.0,333.5 L476.5,333.5 L476.0,333.6 L475.5,333.6 L475.0,333.6 L474.5,333.6 L474.0,333.6 L473.5,333.7 L473.0,333.7 L472.5,333.7 L472.0,333.7 L471.5,333.7 L471.0,333.7 L470.5,333.8 L470.0,333.8 L469.5,333.8 L469.0,333.8 L468.5,333.8 L468.0,333.8 L467.5,333.9 L467.0,333.9 L466.5,333.9 L466.0,333.9 L465.5,333.9 L465.0,333.9 L464.5,333.9 L464.0,334.0 L463.5,334.0 L463.0,334.0 L462.5,334.0 L462.0,334.0 L461.5,334.0 L461.0,334.0 L460.5,334.1 L460.0,334.1 L459.5,334.1 L459.0,334.1 L458.5,334.1 L458.0,334.1 L457.5,334.1 L457.0,334.2 L456.5,334.2 L456.0,334.2 L455.5,334.2 L455.0,334.2 L454.5,334.2 L454.0,334.2 L453.5,334.2 L453.0,334.3 L452.5,334.3 L452.0,334.3 L451.5,334.3 L451.0,334.3 L450.5,334.3 L450.0,334.3 L449.5,334.3 L449.0,334.4 L448.5,334.4 L448.0,334.4 L447.5,334.4 L447.0,334.4 L446.5,334.4 L446.0,334.4 L445.5,334.4 L445.0,334.5 L444.5,334.5 L444.0,334.5 L443.5,334.5 L443.0,334.5 L442.5,334.5 L442.0,334.5 L441.5,334.5 L441.0,334.5 L440.5,334.5 L440.0,334.6 L439.5,334.6 L439.0,334.6 L438.5,334.6 L438.0,334.6 L437.5,334.6 L437.0,334.6 L436.5,334.6 L436.0,334.6 L435.5,334.6 L435.0,334.6 L434.5,334.6 L434.0,334.7 L433.5,334.7 L433.0,334.7 L432.5,334.7 L432.0,334.7 L431.5,334.7 L431.0,334.7 L430.5,334.7 L430.0,334.7 L429.5,334.7 L429.0,334.7 L428.5,334.7 L428.0,334.7 L427.5,334.7 L427.0,334.7 L426.5,334.7 L426.0,334.7 L425.5,334.7 L425.0,334.7 L424.5,334.8 L424.0,334.8 L423.5,334.8 L423.0,334.8 L422.5,334.8 L422.0,334.8 L421.5,334.8 L421.0,334.8 L420.5,334.8 L420.0,334.8 L419.5,334.8 L419.0,334.8 L418.5,334.8 L418.0,334.8 L417.5,334.8 L417.0,334.8 L416.5,334.8 L416.0,334.8 L415.5,334.8 L415.0,334.8 L414.5,334.8 L414.0,334.8 L413.5,334.8 L413.0,334.8 L412.5,334.8 L412.0,334.8 L411.5,334.9 L411.0,334.9 L410.5,334.9 L410.0,334.9 L409.5,334.9 L409.0,334.9 L408.5,334.9 L408.0,334.9 L407.5,334.9 L407.0,334.9 L406.5,334.9 L406.0,334.9 L405.5,334.9 L405.0,334.9 L404.5,334.9 L404.0,334.9 L403.5,334.9 L403.0,334.9 L402.5,334.9 L402.0,334.9 L401.5,334.9 L401.0,334.9 L400.5,334.9 L400.0,334.9 L399.5,334.9 L399.0,334.9 L398.5,334.9 L398.0,334.9 L397.5,334.9 L397.0,334.9 L396.5,334.9 L396.0,334.9 L395.5,334.9 L395.0,334.9 L394.5,334.9 L394.0,334.9 L393.5,334.9 L393.0,334.9 L392.5,335.0 L392.0,335.0 L391.5,335.0 L391.0,335.0 L390.5,335.0 L390.0,335.0 L389.5,335.0 L389.0,335.0 L388.5,335.0 L388.0,335.0 L387.5,335.0 L387.0,335.0 L386.5,335.0 L386.0,335.0 L385.5,335.0 L385.0,335.0 L384.5,335.0 L384.0,335.0 L383.5,335.0 L383.0,335.0 L382.5,335.0 L382.0,335.0 L381.5,335.0 L381.0,335.0 L380.5,335.0 L380.0,335.0 L379.5,335.0 L379.0,335.0 L378.5,335.0 L378.0,335.0 L377.5,335.0 L377.0,335.0 L376.5,335.0 L376.0,335.0 L375.5,335.0 L375.0,335.0 L374.5,335.0 L374.0,335.0 L373.5,335.0 L373.0,335.0 L372.5,335.0 L372.0,335.0 L371.5,335.0 L371.0,335.0 L370.5,335.0 L370.0,335.0 L369.5,335.0 L369.0,335.0 L368.5,335.0 L368.0,335.0 L367.5,335.0 L367.0,335.0 L366.5,335.0 L366.0,335.0 L365.5,335.0 L365.0,335.0 L364.5,335.0 L364.0,335.0 L363.5,335.0 L363.0,335.0 L362.5,335.0 L362.0,335.0 L361.5,335.0 L361.0,335.0 L360.5,335.0 L360.0,335.0 L359.5,335.0 L359.0,335.0 L358.5,335.0 L358.0,335.0 L357.5,335.1 L357.0,335.1 L356.5,335.1 L356.0,335.1 L355.5,335.1 L355.0,335.1 L354.5,335.1 L354.0,335.1 L353.5,335.1 L353.0,335.1 L352.5,335.1 L352.0,335.1 L351.5,335.1 L351.0,335.1 L350.5,335.1 L350.0,335.1 L349.5,335.1 L349.0,335.1 L348.5,335.1 L348.0,335.1 L347.5,335.1 L347.0,335.1 L346.5,335.1 L346.0,335.1 L345.5,335.1 L345.0,335.1 L344.5,335.1 L344.0,335.1 L343.5,335.1 L343.0,335.1 L342.5,335.1 L342.0,335.1 L341.5,335.1 L341.0,335.1 L340.5,335.1 L340.0,335.1 L339.5,335.1 L339.0,335.1 L338.5,335.1 L338.0,335.1 L337.5,335.1 L337.0,335.1 L336.5,335.1 L336.0,335.1 L335.5,335.1 L335.0,335.1 L334.5,335.1 L334.0,335.1 L333.5,335.1 L333.0,335.1 L332.5,335.1 L332.0,335.1 L331.5,335.1 L331.0,335.1 L330.5,335.1 L330.0,335.1 L329.5,335.1 L329.0,335.1 L328.5,335.1 L328.0,335.1 L327.5,335.1 L327.0,335.1 L326.5,335.1 L326.0,335.1 L325.5,335.1 L325.0,335.1 L324.5,335.1 L324.0,335.1 L323.5,335.1 L323.0,335.1 L322.5,335.1 L322.0,335.1 L321.5,335.1 L321.0,335.1 L320.5,335.1 L320.0,335.1 L319.5,335.1 L319.0,335.1 L318.5,335.1 L318.0,335.1 L317.5,335.1 L317.0,335.1 L316.5,335.1 L316.0,335.1 L315.5,335.1 L315.0,335.1 L314.5,335.1 Z" fill="rgb(125,45,175)" fill-opacity="0.42" stroke="rgb(125,45,175)" stroke-opacity="0.42" stroke-width="1.3"/><path d="M314.5,334.9 L315.0,334.9 L315.5,334.9 L316.0,334.9 L316.5,334.9 L317.0,334.9 L317.5,334.9 L318.0,334.9 L318.5,334.9 L319.0,334.8 L319.5,334.8 L320.0,334.8 L320.5,334.8 L321.0,334.8 L321.5,334.8 L322.0,334.8 L322.5,334.8 L323.0,334.8 L323.5,334.8 L324.0,334.8 L324.5,334.8 L325.0,334.8 L325.5,334.8 L326.0,334.8 L326.5,334.8 L327.0,334.8 L327.5,334.7 L328.0,334.7 L328.5,334.7 L329.0,334.7 L329.5,334.7 L330.0,334.7 L330.5,334.7 L331.0,334.7 L331.5,334.7 L332.0,334.7 L332.5,334.7 L333.0,334.7 L333.5,334.7 L334.0,334.6 L334.5,334.6 L335.0,334.6 L335.5,334.6 L336.0,334.6 L336.5,334.6 L337.0,334.6 L337.5,334.6 L338.0,334.6 L338.5,334.5 L339.0,334.5 L339.5,334.5 L340.0,334.5 L340.5,334.5 L341.0,334.5 L341.5,334.4 L342.0,334.4 L342.5,334.4 L343.0,334.4 L343.5,334.4 L344.0,334.3 L344.5,334.3 L345.0,334.3 L345.5,334.3 L346.0,334.2 L346.5,334.2 L347.0,334.2 L347.5,334.1 L348.0,334.1 L348.5,334.0 L349.0,334.0 L349.5,333.9 L350.0,333.8 L350.5,333.7 L351.0,333.7 L351.5,333.6 L352.0,333.5 L352.5,333.4 L353.0,333.3 L353.5,333.2 L354.0,333.1 L354.5,333.0 L355.0,332.9 L355.5,332.8 L356.0,332.7 L356.5,332.5 L357.0,332.4 L357.5,332.3 L358.0,332.2 L358.5,332.0 L359.0,331.9 L359.5,331.8 L360.0,331.6 L360.5,331.5 L361.0,331.3 L361.5,331.2 L362.0,331.0 L362.5,330.8 L363.0,330.7 L363.5,330.5 L364.0,330.3 L364.5,330.1 L365.0,329.9 L365.5,329.6 L366.0,329.4 L366.5,329.1 L367.0,328.8 L367.5,328.4 L368.0,328.0 L368.5,327.7 L369.0,327.3 L369.5,326.9 L370.0,326.5 L370.5,326.1 L371.0,325.7 L371.5,325.3 L372.0,324.9 L372.5,324.5 L373.0,324.1 L373.5,323.7 L374.0,323.3 L374.5,322.8 L375.0,322.4 L375.5,322.0 L376.0,321.5 L376.5,321.1 L377.0,320.6 L377.5,320.2 L378.0,319.8 L378.5,319.3 L379.0,318.9 L379.5,318.4 L380.0,317.8 L380.5,317.1 L381.0,316.3 L381.5,315.4 L382.0,314.3 L382.5,313.2 L383.0,311.9 L383.5,310.5 L384.0,309.0 L384.5,307.4 L385.0,305.5 L385.5,303.5 L386.0,301.3 L386.5,299.1 L387.0,296.9 L387.5,294.7 L388.0,292.3 L388.5,290.0 L389.0,287.6 L389.5,285.1 L390.0,282.7 L390.5,280.1 L391.0,277.5 L391.5,274.8 L392.0,271.9 L392.5,268.7 L393.0,265.1 L393.5,261.2 L394.0,257.3 L394.5,253.6 L395.0,250.2 L395.5,247.5 L396.0,245.3 L396.5,243.4 L397.0,241.9 L397.5,240.4 L398.0,239.2 L398.5,238.2 L399.0,237.5 L399.5,237.3 L400.0,237.4 L400.5,238.0 L401.0,239.1 L401.5,240.8 L402.0,243.4 L402.5,246.4 L403.0,249.1 L403.5,251.4 L404.0,253.6 L404.5,255.8 L405.0,257.9 L405.5,260.0 L406.0,262.3 L406.5,264.6 L407.0,267.0 L407.5,269.4 L408.0,271.9 L408.5,274.5 L409.0,277.1 L409.5,279.7 L410.0,282.4 L410.5,285.6 L411.0,288.5 L411.5,290.7 L412.0,292.5 L412.5,294.3 L413.0,296.5 L413.5,299.7 L414.0,301.7 L414.5,303.0 L415.0,304.2 L415.5,305.2 L416.0,306.3 L416.5,307.2 L417.0,308.2 L417.5,309.0 L418.0,309.8 L418.5,310.6 L419.0,311.3 L419.5,311.9 L420.0,312.5 L420.5,313.0 L421.0,313.5 L421.5,313.9 L422.0,314.3 L422.5,314.6 L423.0,314.9 L423.5,315.3 L424.0,315.5 L424.5,315.8 L425.0,316.1 L425.5,316.3 L426.0,316.6 L426.5,316.8 L427.0,317.0 L427.5,317.2 L428.0,317.4 L428.5,317.6 L429.0,317.7 L429.5,317.9 L430.0,318.1 L430.5,318.3 L431.0,318.4 L431.5,318.6 L432.0,318.8 L432.5,319.0 L433.0,319.2 L433.5,319.4 L434.0,319.6 L434.5,319.8 L435.0,320.0 L435.5,320.3 L436.0,320.5 L436.5,320.9 L437.0,321.2 L437.5,321.5 L438.0,321.9 L438.5,322.3 L439.0,322.7 L439.5,323.1 L440.0,323.4 L440.5,323.7 L441.0,324.0 L441.5,324.3 L442.0,324.5 L442.5,324.7 L443.0,324.9 L443.5,325.1 L444.0,325.3 L444.5,325.5 L445.0,325.6 L445.5,325.8 L446.0,325.9 L446.5,326.1 L447.0,326.2 L447.5,326.3 L448.0,326.5 L448.5,326.6 L449.0,326.7 L449.5,326.8 L450.0,326.9 L450.5,327.0 L451.0,327.1 L451.5,327.2 L452.0,327.3 L452.5,327.3 L453.0,327.4 L453.5,327.4 L454.0,327.5 L454.5,327.6 L455.0,327.6 L455.5,327.6 L456.0,327.7 L456.5,327.7 L457.0,327.8 L457.5,327.8 L458.0,327.8 L458.5,327.8 L459.0,327.9 L459.5,327.9 L460.0,327.9 L460.5,327.9 L461.0,328.0 L461.5,328.0 L462.0,328.0 L462.5,328.0 L463.0,328.0 L463.5,328.1 L464.0,328.1 L464.5,328.1 L465.0,328.1 L465.5,328.1 L466.0,328.2 L466.5,328.2 L467.0,328.2 L467.5,328.2 L468.0,328.2 L468.5,328.2 L469.0,328.3 L469.5,328.3 L470.0,328.3 L470.5,328.3 L471.0,328.3 L471.5,328.4 L472.0,328.4 L472.5,328.4 L473.0,328.4 L473.5,328.4 L474.0,328.4 L474.5,328.5 L475.0,328.5 L475.5,328.5 L476.0,328.5 L476.5,328.5 L477.0,328.5 L477.5,328.6 L478.0,328.6 L478.5,328.6 L479.0,328.6 L479.5,328.6 L480.0,328.6 L480.5,328.7 L481.0,328.7 L481.5,328.7 L482.0,328.7 L482.5,328.7 L483.0,328.7 L483.5,328.8 L484.0,328.8 L484.5,328.8 L485.0,328.8 L485.5,328.8 L486.0,328.8 L486.5,328.8 L487.0,328.9 L487.5,328.9 L488.0,328.9 L488.5,328.9 L489.0,328.9 L489.5,328.9 L490.0,329.0 L490.5,329.0 L491.0,329.0 L491.5,329.0 L492.0,329.0 L492.5,329.0 L493.0,329.1 L493.5,329.1 L494.0,329.1 L494.5,329.1 L494.5,332.8 L494.0,332.8 L493.5,332.8 L493.0,332.9 L492.5,332.9 L492.0,332.9 L491.5,332.9 L491.0,332.9 L490.5,333.0 L490.0,333.0 L489.5,333.0 L489.0,333.0 L488.5,333.1 L488.0,333.1 L487.5,333.1 L487.0,333.1 L486.5,333.1 L486.0,333.2 L485.5,333.2 L485.0,333.2 L484.5,333.2 L484.0,333.2 L483.5,333.3 L483.0,333.3 L482.5,333.3 L482.0,333.3 L481.5,333.3 L481.0,333.4 L480.5,333.4 L480.0,333.4 L479.5,333.4 L479.0,333.4 L478.5,333.5 L478.0,333.5 L477.5,333.5 L477.0,333.5 L476.5,333.5 L476.0,333.6 L475.5,333.6 L475.0,333.6 L474.5,333.6 L474.0,333.6 L473.5,333.7 L473.0,333.7 L472.5,333.7 L472.0,333.7 L471.5,333.7 L471.0,333.7 L470.5,333.8 L470.0,333.8 L469.5,333.8 L469.0,333.8 L468.5,333.8 L468.0,333.8 L467.5,333.9 L467.0,333.9 L466.5,333.9 L466.0,333.9 L465.5,333.9 L465.0,333.9 L464.5,333.9 L464.0,334.0 L463.5,334.0 L463.0,334.0 L462.5,334.0 L462.0,334.0 L461.5,334.0 L461.0,334.0 L460.5,334.1 L460.0,334.1 L459.5,334.1 L459.0,334.1 L458.5,334.1 L458.0,334.1 L457.5,334.1 L457.0,334.2 L456.5,334.2 L456.0,334.2 L455.5,334.2 L455.0,334.2 L454.5,334.2 L454.0,334.2 L453.5,334.2 L453.0,334.3 L452.5,334.3 L452.0,334.3 L451.5,334.3 L451.0,334.3 L450.5,334.3 L450.0,334.3 L449.5,334.3 L449.0,334.4 L448.5,334.4 L448.0,334.4 L447.5,334.4 L447.0,334.4 L446.5,334.4 L446.0,334.4 L445.5,334.4 L445.0,334.5 L444.5,334.5 L444.0,334.5 L443.5,334.5 L443.0,334.5 L442.5,334.5 L442.0,334.5 L441.5,334.5 L441.0,334.5 L440.5,334.5 L440.0,334.6 L439.5,334.6 L439.0,334.6 L438.5,334.6 L438.0,334.6 L437.5,334.6 L437.0,334.6 L436.5,334.6 L436.0,334.6 L435.5,334.6 L435.0,334.6 L434.5,334.6 L434.0,334.7 L433.5,334.7 L433.0,334.7 L432.5,334.7 L432.0,334.7 L431.5,334.7 L431.0,334.7 L430.5,334.7 L430.0,334.7 L429.5,334.7 L429.0,334.7 L428.5,334.7 L428.0,334.7 L427.5,334.7 L427.0,334.7 L426.5,334.7 L426.0,334.7 L425.5,334.7 L425.0,334.7 L424.5,334.8 L424.0,334.8 L423.5,334.8 L423.0,334.8 L422.5,334.8 L422.0,334.8 L421.5,334.8 L421.0,334.8 L420.5,334.8 L420.0,334.8 L419.5,334.8 L419.0,334.8 L418.5,334.8 L418.0,334.8 L417.5,334.8 L417.0,334.8 L416.5,334.8 L416.0,334.8 L415.5,334.8 L415.0,334.8 L414.5,334.8 L414.0,334.8 L413.5,334.8 L413.0,334.8 L412.5,334.8 L412.0,334.8 L411.5,334.9 L411.0,334.9 L410.5,334.9 L410.0,334.9 L409.5,334.9 L409.0,334.9 L408.5,334.9 L408.0,334.9 L407.5,334.9 L407.0,334.9 L406.5,334.9 L406.0,334.9 L405.5,334.9 L405.0,334.9 L404.5,334.9 L404.0,334.9 L403.5,334.9 L403.0,334.9 L402.5,334.9 L402.0,334.9 L401.5,334.9 L401.0,334.9 L400.5,334.9 L400.0,334.9 L399.5,334.9 L399.0,334.9 L398.5,334.9 L398.0,334.9 L397.5,334.9 L397.0,334.9 L396.5,334.9 L396.0,334.9 L395.5,334.9 L395.0,334.9 L394.5,334.9 L394.0,334.9 L393.5,334.9 L393.0,334.9 L392.5,335.0 L392.0,335.0 L391.5,335.0 L391.0,335.0 L390.5,335.0 L390.0,335.0 L389.5,335.0 L389.0,335.0 L388.5,335.0 L388.0,335.0 L387.5,335.0 L387.0,335.0 L386.5,335.0 L386.0,335.0 L385.5,335.0 L385.0,335.0 L384.5,335.0 L384.0,335.0 L383.5,335.0 L383.0,335.0 L382.5,335.0 L382.0,335.0 L381.5,335.0 L381.0,335.0 L380.5,335.0 L380.0,335.0 L379.5,335.0 L379.0,335.0 L378.5,335.0 L378.0,335.0 L377.5,335.0 L377.0,335.0 L376.5,335.0 L376.0,335.0 L375.5,335.0 L375.0,335.0 L374.5,335.0 L374.0,335.0 L373.5,335.0 L373.0,335.0 L372.5,335.0 L372.0,335.0 L371.5,335.0 L371.0,335.0 L370.5,335.0 L370.0,335.0 L369.5,335.0 L369.0,335.0 L368.5,335.0 L368.0,335.0 L367.5,335.0 L367.0,335.0 L366.5,335.0 L366.0,335.0 L365.5,335.0 L365.0,335.0 L364.5,335.0 L364.0,335.0 L363.5,335.0 L363.0,335.0 L362.5,335.0 L362.0,335.0 L361.5,335.0 L361.0,335.0 L360.5,335.0 L360.0,335.0 L359.5,335.0 L359.0,335.0 L358.5,335.0 L358.0,335.0 L357.5,335.1 L357.0,335.1 L356.5,335.1 L356.0,335.1 L355.5,335.1 L355.0,335.1 L354.5,335.1 L354.0,335.1 L353.5,335.1 L353.0,335.1 L352.5,335.1 L352.0,335.1 L351.5,335.1 L351.0,335.1 L350.5,335.1 L350.0,335.1 L349.5,335.1 L349.0,335.1 L348.5,335.1 L348.0,335.1 L347.5,335.1 L347.0,335.1 L346.5,335.1 L346.0,335.1 L345.5,335.1 L345.0,335.1 L344.5,335.1 L344.0,335.1 L343.5,335.1 L343.0,335.1 L342.5,335.1 L342.0,335.1 L341.5,335.1 L341.0,335.1 L340.5,335.1 L340.0,335.1 L339.5,335.1 L339.0,335.1 L338.5,335.1 L338.0,335.1 L337.5,335.1 L337.0,335.1 L336.5,335.1 L336.0,335.1 L335.5,335.1 L335.0,335.1 L334.5,335.1 L334.0,335.1 L333.5,335.1 L333.0,335.1 L332.5,335.1 L332.0,335.1 L331.5,335.1 L331.0,335.1 L330.5,335.1 L330.0,335.1 L329.5,335.1 L329.0,335.1 L328.5,335.1 L328.0,335.1 L327.5,335.1 L327.0,335.1 L326.5,335.1 L326.0,335.1 L325.5,335.1 L325.0,335.1 L324.5,335.1 L324.0,335.1 L323.5,335.1 L323.0,335.1 L322.5,335.1 L322.0,335.1 L321.5,335.1 L321.0,335.1 L320.5,335.1 L320.0,335.1 L319.5,335.1 L319.0,335.1 L318.5,335.1 L318.0,335.1 L317.5,335.1 L317.0,335.1 L316.5,335.1 L316.0,335.1 L315.5,335.1 L315.0,335.1 L314.5,335.1 Z" fill="rgb(195,29,100)" fill-opacity="0.42" stroke="rgb(195,29,100)" stroke-opacity="0.42" stroke-width="1.3"/></g>
<g clip-path="url(#cbr)"><path d="M504.5,325.0 L505.0,324.9 L505.5,324.9 L506.0,324.8 L506.5,324.7 L507.0,324.7 L507.5,324.6 L508.0,324.6 L508.5,324.5 L509.0,324.4 L509.5,324.4 L510.0,324.3 L510.5,324.2 L511.0,324.2 L511.5,324.1 L512.0,324.0 L512.5,324.0 L513.0,323.9 L513.5,323.8 L514.0,323.8 L514.5,323.7 L515.0,323.6 L515.5,323.6 L516.0,323.5 L516.5,323.4 L517.0,323.4 L517.5,323.3 L518.0,323.2 L518.5,323.2 L519.0,323.1 L519.5,323.0 L520.0,323.0 L520.5,322.9 L521.0,322.8 L521.5,322.8 L522.0,322.7 L522.5,322.6 L523.0,322.6 L523.5,322.5 L524.0,322.4 L524.5,322.3 L525.0,322.3 L525.5,322.2 L526.0,322.1 L526.5,322.0 L527.0,321.9 L527.5,321.8 L528.0,321.7 L528.5,321.6 L529.0,321.5 L529.5,321.4 L530.0,321.3 L530.5,321.2 L531.0,321.1 L531.5,320.9 L532.0,320.8 L532.5,320.7 L533.0,320.6 L533.5,320.4 L534.0,320.3 L534.5,320.2 L535.0,320.0 L535.5,319.9 L536.0,319.8 L536.5,319.6 L537.0,319.5 L537.5,319.3 L538.0,319.2 L538.5,319.0 L539.0,318.9 L539.5,318.7 L540.0,318.6 L540.5,318.4 L541.0,318.3 L541.5,318.1 L542.0,318.0 L542.5,317.8 L543.0,317.7 L543.5,317.5 L544.0,317.3 L544.5,317.2 L545.0,317.0 L545.5,316.8 L546.0,316.6 L546.5,316.5 L547.0,316.3 L547.5,316.1 L548.0,315.9 L548.5,315.7 L549.0,315.6 L549.5,315.4 L550.0,315.2 L550.5,314.9 L551.0,314.7 L551.5,314.5 L552.0,314.2 L552.5,313.8 L553.0,313.5 L553.5,313.1 L554.0,312.7 L554.5,312.2 L555.0,311.7 L555.5,311.2 L556.0,310.7 L556.5,310.1 L557.0,309.5 L557.5,308.8 L558.0,308.1 L558.5,307.4 L559.0,306.6 L559.5,305.7 L560.0,304.8 L560.5,303.8 L561.0,302.7 L561.5,301.3 L562.0,299.8 L562.5,298.1 L563.0,296.3 L563.5,294.5 L564.0,292.7 L564.5,291.2 L565.0,289.9 L565.5,288.9 L566.0,288.1 L566.5,287.5 L567.0,287.0 L567.5,286.5 L568.0,286.0 L568.5,285.7 L569.0,285.4 L569.5,285.3 L570.0,285.4 L570.5,285.9 L571.0,286.5 L571.5,287.4 L572.0,288.4 L572.5,289.2 L573.0,289.9 L573.5,290.6 L574.0,291.3 L574.5,292.0 L575.0,292.6 L575.5,293.2 L576.0,293.7 L576.5,294.0 L577.0,294.2 L577.5,294.2 L578.0,294.1 L578.5,293.9 L579.0,293.5 L579.5,293.0 L580.0,292.5 L580.5,291.8 L581.0,291.0 L581.5,290.0 L582.0,288.9 L582.5,287.9 L583.0,287.0 L583.5,286.2 L584.0,285.4 L584.5,284.6 L585.0,283.9 L585.5,283.5 L586.0,283.4 L586.5,283.4 L587.0,283.7 L587.5,284.3 L588.0,285.1 L588.5,286.0 L589.0,287.1 L589.5,288.4 L590.0,289.7 L590.5,291.1 L591.0,292.5 L591.5,293.9 L592.0,295.3 L592.5,296.5 L593.0,297.7 L593.5,298.7 L594.0,299.6 L594.5,300.5 L595.0,301.2 L595.5,301.9 L596.0,302.4 L596.5,303.0 L597.0,303.5 L597.5,304.0 L598.0,304.4 L598.5,304.8 L599.0,305.2 L599.5,305.6 L600.0,305.9 L600.5,306.3 L601.0,306.6 L601.5,306.9 L602.0,307.2 L602.5,307.5 L603.0,307.8 L603.5,308.0 L604.0,308.3 L604.5,308.6 L605.0,308.8 L605.5,309.0 L606.0,309.3 L606.5,309.5 L607.0,309.7 L607.5,309.9 L608.0,310.2 L608.5,310.4 L609.0,310.6 L609.5,310.8 L610.0,311.0 L610.5,311.2 L611.0,311.5 L611.5,311.8 L612.0,312.1 L612.5,312.4 L613.0,312.6 L613.5,312.8 L614.0,313.0 L614.5,313.1 L615.0,313.2 L615.5,313.3 L616.0,313.4 L616.5,313.5 L617.0,313.6 L617.5,313.6 L618.0,313.7 L618.5,313.8 L619.0,313.8 L619.5,313.9 L620.0,313.9 L620.5,314.0 L621.0,314.0 L621.5,314.1 L622.0,314.1 L622.5,314.2 L623.0,314.2 L623.5,314.3 L624.0,314.3 L624.5,314.4 L625.0,314.4 L625.5,314.4 L626.0,314.5 L626.5,314.5 L627.0,314.5 L627.5,314.6 L628.0,314.6 L628.5,314.6 L629.0,314.7 L629.5,314.7 L630.0,314.7 L630.5,314.7 L631.0,314.7 L631.5,314.8 L632.0,314.8 L632.5,314.8 L633.0,314.8 L633.5,314.8 L634.0,314.9 L634.5,314.9 L635.0,314.9 L635.5,314.9 L636.0,314.9 L636.5,314.9 L637.0,314.9 L637.5,315.0 L638.0,315.0 L638.5,315.0 L639.0,315.0 L639.5,315.0 L640.0,315.0 L640.5,315.0 L641.0,315.0 L641.5,315.0 L642.0,315.0 L642.5,315.0 L643.0,315.0 L643.5,315.0 L644.0,315.0 L644.5,315.0 L645.0,315.0 L645.5,315.0 L646.0,315.0 L646.5,315.0 L647.0,315.0 L647.5,315.0 L648.0,315.0 L648.5,315.0 L649.0,315.0 L649.5,315.0 L650.0,315.0 L650.5,315.0 L651.0,315.0 L651.5,315.0 L652.0,315.0 L652.5,315.0 L653.0,315.0 L653.5,315.0 L654.0,315.0 L654.5,315.0 L655.0,315.0 L655.5,315.0 L656.0,315.0 L656.5,315.0 L657.0,315.0 L657.5,315.0 L658.0,315.0 L658.5,314.9 L659.0,314.9 L659.5,314.9 L660.0,314.9 L660.5,314.9 L661.0,314.9 L661.5,314.9 L662.0,314.9 L662.5,314.9 L663.0,314.9 L663.5,314.9 L664.0,314.9 L664.5,314.9 L665.0,314.9 L665.5,314.9 L666.0,314.9 L666.5,314.9 L667.0,314.8 L667.5,314.8 L668.0,314.8 L668.5,314.8 L669.0,314.8 L669.5,314.8 L670.0,314.8 L670.5,314.8 L671.0,314.8 L671.5,314.8 L672.0,314.8 L672.5,314.8 L673.0,314.8 L673.5,314.8 L674.0,314.7 L674.5,314.7 L675.0,314.7 L675.5,314.7 L676.0,314.7 L676.5,314.7 L677.0,314.7 L677.5,314.7 L678.0,314.7 L678.5,314.7 L679.0,314.7 L679.5,314.7 L680.0,314.7 L680.5,314.7 L681.0,314.6 L681.5,314.6 L682.0,314.6 L682.5,314.6 L683.0,314.6 L683.5,314.6 L684.0,314.6 L684.5,314.6 L685.0,314.6 L685.0,316.2 L684.5,316.2 L684.0,316.3 L683.5,316.3 L683.0,316.3 L682.5,316.3 L682.0,316.4 L681.5,316.4 L681.0,316.4 L680.5,316.5 L680.0,316.5 L679.5,316.5 L679.0,316.5 L678.5,316.6 L678.0,316.6 L677.5,316.6 L677.0,316.6 L676.5,316.7 L676.0,316.7 L675.5,316.7 L675.0,316.7 L674.5,316.7 L674.0,316.8 L673.5,316.8 L673.0,316.8 L672.5,316.8 L672.0,316.8 L671.5,316.9 L671.0,316.9 L670.5,316.9 L670.0,316.9 L669.5,316.9 L669.0,316.9 L668.5,316.9 L668.0,317.0 L667.5,317.0 L667.0,317.0 L666.5,317.0 L666.0,317.0 L665.5,317.0 L665.0,317.0 L664.5,317.0 L664.0,317.0 L663.5,317.1 L663.0,317.1 L662.5,317.1 L662.0,317.1 L661.5,317.1 L661.0,317.1 L660.5,317.1 L660.0,317.1 L659.5,317.1 L659.0,317.1 L658.5,317.2 L658.0,317.2 L657.5,317.2 L657.0,317.2 L656.5,317.2 L656.0,317.2 L655.5,317.2 L655.0,317.2 L654.5,317.2 L654.0,317.2 L653.5,317.3 L653.0,317.3 L652.5,317.3 L652.0,317.3 L651.5,317.3 L651.0,317.3 L650.5,317.3 L650.0,317.3 L649.5,317.3 L649.0,317.3 L648.5,317.3 L648.0,317.4 L647.5,317.4 L647.0,317.4 L646.5,317.4 L646.0,317.4 L645.5,317.4 L645.0,317.4 L644.5,317.4 L644.0,317.4 L643.5,317.4 L643.0,317.4 L642.5,317.5 L642.0,317.5 L641.5,317.5 L641.0,317.5 L640.5,317.5 L640.0,317.5 L639.5,317.5 L639.0,317.5 L638.5,317.5 L638.0,317.5 L637.5,317.6 L637.0,317.6 L636.5,317.6 L636.0,317.6 L635.5,317.6 L635.0,317.6 L634.5,317.6 L634.0,317.6 L633.5,317.6 L633.0,317.7 L632.5,317.7 L632.0,317.7 L631.5,317.7 L631.0,317.7 L630.5,317.7 L630.0,317.7 L629.5,317.7 L629.0,317.7 L628.5,317.8 L628.0,317.8 L627.5,317.8 L627.0,317.8 L626.5,317.8 L626.0,317.8 L625.5,317.8 L625.0,317.8 L624.5,317.8 L624.0,317.9 L623.5,317.9 L623.0,317.9 L622.5,317.9 L622.0,317.9 L621.5,317.9 L621.0,317.9 L620.5,317.9 L620.0,317.9 L619.5,317.9 L619.0,318.0 L618.5,318.0 L618.0,318.0 L617.5,318.0 L617.0,318.0 L616.5,318.0 L616.0,318.0 L615.5,318.0 L615.0,318.0 L614.5,318.0 L614.0,318.0 L613.5,318.0 L613.0,318.0 L612.5,318.0 L612.0,318.0 L611.5,318.0 L611.0,318.0 L610.5,318.0 L610.0,318.0 L609.5,318.0 L609.0,317.9 L608.5,317.9 L608.0,317.9 L607.5,317.9 L607.0,317.9 L606.5,317.9 L606.0,317.9 L605.5,317.8 L605.0,317.8 L604.5,317.8 L604.0,317.8 L603.5,317.8 L603.0,317.8 L602.5,317.8 L602.0,317.8 L601.5,317.8 L601.0,317.8 L600.5,317.8 L600.0,317.8 L599.5,317.8 L599.0,317.8 L598.5,317.8 L598.0,317.8 L597.5,317.8 L597.0,317.9 L596.5,317.9 L596.0,317.9 L595.5,317.9 L595.0,317.9 L594.5,317.9 L594.0,317.9 L593.5,317.9 L593.0,318.0 L592.5,318.0 L592.0,318.0 L591.5,318.0 L591.0,318.0 L590.5,318.0 L590.0,318.1 L589.5,318.1 L589.0,318.1 L588.5,318.1 L588.0,318.1 L587.5,318.2 L587.0,318.2 L586.5,318.2 L586.0,318.2 L585.5,318.2 L585.0,318.3 L584.5,318.3 L584.0,318.3 L583.5,318.3 L583.0,318.4 L582.5,318.4 L582.0,318.4 L581.5,318.4 L581.0,318.4 L580.5,318.5 L580.0,318.5 L579.5,318.5 L579.0,318.6 L578.5,318.6 L578.0,318.6 L577.5,318.6 L577.0,318.7 L576.5,318.7 L576.0,318.7 L575.5,318.8 L575.0,318.8 L574.5,318.8 L574.0,318.9 L573.5,318.9 L573.0,318.9 L572.5,319.0 L572.0,319.0 L571.5,319.0 L571.0,319.1 L570.5,319.1 L570.0,319.1 L569.5,319.2 L569.0,319.2 L568.5,319.3 L568.0,319.3 L567.5,319.3 L567.0,319.4 L566.5,319.4 L566.0,319.4 L565.5,319.5 L565.0,319.5 L564.5,319.6 L564.0,319.6 L563.5,319.6 L563.0,319.7 L562.5,319.7 L562.0,319.8 L561.5,319.8 L561.0,319.8 L560.5,319.9 L560.0,319.9 L559.5,319.9 L559.0,320.0 L558.5,320.0 L558.0,320.0 L557.5,320.1 L557.0,320.1 L556.5,320.2 L556.0,320.2 L555.5,320.2 L555.0,320.3 L554.5,320.3 L554.0,320.3 L553.5,320.4 L553.0,320.4 L552.5,320.5 L552.0,320.5 L551.5,320.5 L551.0,320.6 L550.5,320.6 L550.0,320.6 L549.5,320.7 L549.0,320.7 L548.5,320.8 L548.0,320.8 L547.5,320.8 L547.0,320.9 L546.5,320.9 L546.0,321.0 L545.5,321.0 L545.0,321.0 L544.5,321.1 L544.0,321.1 L543.5,321.2 L543.0,321.2 L542.5,321.2 L542.0,321.3 L541.5,321.3 L541.0,321.4 L540.5,321.4 L540.0,321.5 L539.5,321.5 L539.0,321.6 L538.5,321.6 L538.0,321.6 L537.5,321.7 L537.0,321.7 L536.5,321.8 L536.0,321.8 L535.5,321.9 L535.0,321.9 L534.5,322.0 L534.0,322.0 L533.5,322.1 L533.0,322.2 L532.5,322.2 L532.0,322.3 L531.5,322.3 L531.0,322.4 L530.5,322.4 L530.0,322.5 L529.5,322.5 L529.0,322.6 L528.5,322.7 L528.0,322.7 L527.5,322.8 L527.0,322.8 L526.5,322.9 L526.0,322.9 L525.5,323.0 L525.0,323.1 L524.5,323.1 L524.0,323.2 L523.5,323.2 L523.0,323.3 L522.5,323.4 L522.0,323.4 L521.5,323.5 L521.0,323.6 L520.5,323.6 L520.0,323.7 L519.5,323.8 L519.0,323.8 L518.5,323.9 L518.0,323.9 L517.5,324.0 L517.0,324.1 L516.5,324.1 L516.0,324.2 L515.5,324.3 L515.0,324.4 L514.5,324.4 L514.0,324.5 L513.5,324.6 L513.0,324.6 L512.5,324.7 L512.0,324.8 L511.5,324.9 L511.0,325.0 L510.5,325.1 L510.0,325.2 L509.5,325.3 L509.0,325.4 L508.5,325.5 L508.0,325.7 L507.5,325.8 L507.0,325.9 L506.5,326.1 L506.0,326.2 L505.5,326.3 L505.0,326.5 L504.5,326.6 Z" fill="rgb(110,170,68)" fill-opacity="0.40" stroke="rgb(110,170,68)" stroke-opacity="0.40" stroke-width="1.3"/><path d="M504.5,323.8 L505.0,323.7 L505.5,323.7 L506.0,323.6 L506.5,323.5 L507.0,323.5 L507.5,323.4 L508.0,323.3 L508.5,323.3 L509.0,323.2 L509.5,323.1 L510.0,323.1 L510.5,323.0 L511.0,323.0 L511.5,322.9 L512.0,322.8 L512.5,322.8 L513.0,322.7 L513.5,322.6 L514.0,322.6 L514.5,322.5 L515.0,322.4 L515.5,322.4 L516.0,322.3 L516.5,322.2 L517.0,322.2 L517.5,322.1 L518.0,322.0 L518.5,322.0 L519.0,321.9 L519.5,321.9 L520.0,321.8 L520.5,321.7 L521.0,321.7 L521.5,321.6 L522.0,321.5 L522.5,321.5 L523.0,321.4 L523.5,321.4 L524.0,321.3 L524.5,321.2 L525.0,321.2 L525.5,321.1 L526.0,321.0 L526.5,321.0 L527.0,320.9 L527.5,320.8 L528.0,320.8 L528.5,320.7 L529.0,320.6 L529.5,320.6 L530.0,320.5 L530.5,320.4 L531.0,320.4 L531.5,320.3 L532.0,320.2 L532.5,320.2 L533.0,320.1 L533.5,320.0 L534.0,320.0 L534.5,319.9 L535.0,319.8 L535.5,319.8 L536.0,319.7 L536.5,319.6 L537.0,319.5 L537.5,319.5 L538.0,319.4 L538.5,319.3 L539.0,319.3 L539.5,319.2 L540.0,319.1 L540.5,319.0 L541.0,319.0 L541.5,318.9 L542.0,318.8 L542.5,318.7 L543.0,318.6 L543.5,318.5 L544.0,318.4 L544.5,318.3 L545.0,318.2 L545.5,318.1 L546.0,318.0 L546.5,317.8 L547.0,317.7 L547.5,317.6 L548.0,317.4 L548.5,317.3 L549.0,317.1 L549.5,317.0 L550.0,316.8 L550.5,316.6 L551.0,316.4 L551.5,316.2 L552.0,316.0 L552.5,315.8 L553.0,315.5 L553.5,315.3 L554.0,315.0 L554.5,314.8 L555.0,314.5 L555.5,314.3 L556.0,314.0 L556.5,313.8 L557.0,313.5 L557.5,313.2 L558.0,313.0 L558.5,312.7 L559.0,312.4 L559.5,312.1 L560.0,311.7 L560.5,311.4 L561.0,311.1 L561.5,310.7 L562.0,310.3 L562.5,309.9 L563.0,309.4 L563.5,308.9 L564.0,308.4 L564.5,307.8 L565.0,307.1 L565.5,306.4 L566.0,305.7 L566.5,304.9 L567.0,304.0 L567.5,303.1 L568.0,302.1 L568.5,301.1 L569.0,300.0 L569.5,298.9 L570.0,297.8 L570.5,296.6 L571.0,295.3 L571.5,293.8 L572.0,292.3 L572.5,290.6 L573.0,288.8 L573.5,287.0 L574.0,285.2 L574.5,283.5 L575.0,281.7 L575.5,279.9 L576.0,278.0 L576.5,276.1 L577.0,274.3 L577.5,272.5 L578.0,270.7 L578.5,269.0 L579.0,267.4 L579.5,265.9 L580.0,264.5 L580.5,263.3 L581.0,262.0 L581.5,260.9 L582.0,259.9 L582.5,258.9 L583.0,257.8 L583.5,256.8 L584.0,255.7 L584.5,254.5 L585.0,253.4 L585.5,252.3 L586.0,251.5 L586.5,250.8 L587.0,250.2 L587.5,249.8 L588.0,249.4 L588.5,249.2 L589.0,249.2 L589.5,249.4 L590.0,249.8 L590.5,250.5 L591.0,251.5 L591.5,252.8 L592.0,254.6 L592.5,256.7 L593.0,258.9 L593.5,261.1 L594.0,263.6 L594.5,266.2 L595.0,268.7 L595.5,271.1 L596.0,273.3 L596.5,275.4 L597.0,277.3 L597.5,279.1 L598.0,280.8 L598.5,282.4 L599.0,283.9 L599.5,285.4 L600.0,286.9 L600.5,288.2 L601.0,289.5 L601.5,290.7 L602.0,291.8 L602.5,292.7 L603.0,293.6 L603.5,294.3 L604.0,295.0 L604.5,295.6 L605.0,296.2 L605.5,296.9 L606.0,297.5 L606.5,298.2 L607.0,298.8 L607.5,299.4 L608.0,300.0 L608.5,300.6 L609.0,301.1 L609.5,301.6 L610.0,302.0 L610.5,302.4 L611.0,302.8 L611.5,303.1 L612.0,303.4 L612.5,303.7 L613.0,303.9 L613.5,304.2 L614.0,304.5 L614.5,304.7 L615.0,305.0 L615.5,305.3 L616.0,305.6 L616.5,305.9 L617.0,306.2 L617.5,306.5 L618.0,306.8 L618.5,307.0 L619.0,307.3 L619.5,307.5 L620.0,307.8 L620.5,308.0 L621.0,308.2 L621.5,308.3 L622.0,308.5 L622.5,308.7 L623.0,308.8 L623.5,309.0 L624.0,309.1 L624.5,309.3 L625.0,309.4 L625.5,309.6 L626.0,309.7 L626.5,309.9 L627.0,310.0 L627.5,310.2 L628.0,310.3 L628.5,310.4 L629.0,310.5 L629.5,310.7 L630.0,310.8 L630.5,310.9 L631.0,311.0 L631.5,311.1 L632.0,311.2 L632.5,311.3 L633.0,311.4 L633.5,311.5 L634.0,311.6 L634.5,311.7 L635.0,311.8 L635.5,311.8 L636.0,311.9 L636.5,312.0 L637.0,312.1 L637.5,312.1 L638.0,312.2 L638.5,312.3 L639.0,312.3 L639.5,312.4 L640.0,312.5 L640.5,312.5 L641.0,312.6 L641.5,312.6 L642.0,312.7 L642.5,312.7 L643.0,312.8 L643.5,312.8 L644.0,312.9 L644.5,312.9 L645.0,313.0 L645.5,313.0 L646.0,313.1 L646.5,313.1 L647.0,313.1 L647.5,313.2 L648.0,313.2 L648.5,313.3 L649.0,313.3 L649.5,313.4 L650.0,313.4 L650.5,313.4 L651.0,313.5 L651.5,313.5 L652.0,313.5 L652.5,313.6 L653.0,313.6 L653.5,313.6 L654.0,313.7 L654.5,313.7 L655.0,313.7 L655.5,313.8 L656.0,313.8 L656.5,313.8 L657.0,313.8 L657.5,313.9 L658.0,313.9 L658.5,313.9 L659.0,313.9 L659.5,314.0 L660.0,314.0 L660.5,314.0 L661.0,314.0 L661.5,314.1 L662.0,314.1 L662.5,314.1 L663.0,314.1 L663.5,314.1 L664.0,314.1 L664.5,314.2 L665.0,314.2 L665.5,314.2 L666.0,314.2 L666.5,314.2 L667.0,314.2 L667.5,314.2 L668.0,314.2 L668.5,314.2 L669.0,314.2 L669.5,314.2 L670.0,314.2 L670.5,314.2 L671.0,314.3 L671.5,314.3 L672.0,314.3 L672.5,314.3 L673.0,314.3 L673.5,314.3 L674.0,314.3 L674.5,314.3 L675.0,314.3 L675.5,314.3 L676.0,314.3 L676.5,314.3 L677.0,314.3 L677.5,314.3 L678.0,314.3 L678.5,314.3 L679.0,314.3 L679.5,314.3 L680.0,314.3 L680.5,314.3 L681.0,314.3 L681.5,314.3 L682.0,314.3 L682.5,314.3 L683.0,314.3 L683.5,314.3 L684.0,314.3 L684.5,314.3 L685.0,314.3 L685.0,316.2 L684.5,316.2 L684.0,316.3 L683.5,316.3 L683.0,316.3 L682.5,316.3 L682.0,316.4 L681.5,316.4 L681.0,316.4 L680.5,316.5 L680.0,316.5 L679.5,316.5 L679.0,316.5 L678.5,316.6 L678.0,316.6 L677.5,316.6 L677.0,316.6 L676.5,316.7 L676.0,316.7 L675.5,316.7 L675.0,316.7 L674.5,316.7 L674.0,316.8 L673.5,316.8 L673.0,316.8 L672.5,316.8 L672.0,316.8 L671.5,316.9 L671.0,316.9 L670.5,316.9 L670.0,316.9 L669.5,316.9 L669.0,316.9 L668.5,316.9 L668.0,317.0 L667.5,317.0 L667.0,317.0 L666.5,317.0 L666.0,317.0 L665.5,317.0 L665.0,317.0 L664.5,317.0 L664.0,317.0 L663.5,317.1 L663.0,317.1 L662.5,317.1 L662.0,317.1 L661.5,317.1 L661.0,317.1 L660.5,317.1 L660.0,317.1 L659.5,317.1 L659.0,317.1 L658.5,317.2 L658.0,317.2 L657.5,317.2 L657.0,317.2 L656.5,317.2 L656.0,317.2 L655.5,317.2 L655.0,317.2 L654.5,317.2 L654.0,317.2 L653.5,317.3 L653.0,317.3 L652.5,317.3 L652.0,317.3 L651.5,317.3 L651.0,317.3 L650.5,317.3 L650.0,317.3 L649.5,317.3 L649.0,317.3 L648.5,317.3 L648.0,317.4 L647.5,317.4 L647.0,317.4 L646.5,317.4 L646.0,317.4 L645.5,317.4 L645.0,317.4 L644.5,317.4 L644.0,317.4 L643.5,317.4 L643.0,317.4 L642.5,317.5 L642.0,317.5 L641.5,317.5 L641.0,317.5 L640.5,317.5 L640.0,317.5 L639.5,317.5 L639.0,317.5 L638.5,317.5 L638.0,317.5 L637.5,317.6 L637.0,317.6 L636.5,317.6 L636.0,317.6 L635.5,317.6 L635.0,317.6 L634.5,317.6 L634.0,317.6 L633.5,317.6 L633.0,317.7 L632.5,317.7 L632.0,317.7 L631.5,317.7 L631.0,317.7 L630.5,317.7 L630.0,317.7 L629.5,317.7 L629.0,317.7 L628.5,317.8 L628.0,317.8 L627.5,317.8 L627.0,317.8 L626.5,317.8 L626.0,317.8 L625.5,317.8 L625.0,317.8 L624.5,317.8 L624.0,317.9 L623.5,317.9 L623.0,317.9 L622.5,317.9 L622.0,317.9 L621.5,317.9 L621.0,317.9 L620.5,317.9 L620.0,317.9 L619.5,317.9 L619.0,318.0 L618.5,318.0 L618.0,318.0 L617.5,318.0 L617.0,318.0 L616.5,318.0 L616.0,318.0 L615.5,318.0 L615.0,318.0 L614.5,318.0 L614.0,318.0 L613.5,318.0 L613.0,318.0 L612.5,318.0 L612.0,318.0 L611.5,318.0 L611.0,318.0 L610.5,318.0 L610.0,318.0 L609.5,318.0 L609.0,317.9 L608.5,317.9 L608.0,317.9 L607.5,317.9 L607.0,317.9 L606.5,317.9 L606.0,317.9 L605.5,317.8 L605.0,317.8 L604.5,317.8 L604.0,317.8 L603.5,317.8 L603.0,317.8 L602.5,317.8 L602.0,317.8 L601.5,317.8 L601.0,317.8 L600.5,317.8 L600.0,317.8 L599.5,317.8 L599.0,317.8 L598.5,317.8 L598.0,317.8 L597.5,317.8 L597.0,317.9 L596.5,317.9 L596.0,317.9 L595.5,317.9 L595.0,317.9 L594.5,317.9 L594.0,317.9 L593.5,317.9 L593.0,318.0 L592.5,318.0 L592.0,318.0 L591.5,318.0 L591.0,318.0 L590.5,318.0 L590.0,318.1 L589.5,318.1 L589.0,318.1 L588.5,318.1 L588.0,318.1 L587.5,318.2 L587.0,318.2 L586.5,318.2 L586.0,318.2 L585.5,318.2 L585.0,318.3 L584.5,318.3 L584.0,318.3 L583.5,318.3 L583.0,318.4 L582.5,318.4 L582.0,318.4 L581.5,318.4 L581.0,318.4 L580.5,318.5 L580.0,318.5 L579.5,318.5 L579.0,318.6 L578.5,318.6 L578.0,318.6 L577.5,318.6 L577.0,318.7 L576.5,318.7 L576.0,318.7 L575.5,318.8 L575.0,318.8 L574.5,318.8 L574.0,318.9 L573.5,318.9 L573.0,318.9 L572.5,319.0 L572.0,319.0 L571.5,319.0 L571.0,319.1 L570.5,319.1 L570.0,319.1 L569.5,319.2 L569.0,319.2 L568.5,319.3 L568.0,319.3 L567.5,319.3 L567.0,319.4 L566.5,319.4 L566.0,319.4 L565.5,319.5 L565.0,319.5 L564.5,319.6 L564.0,319.6 L563.5,319.6 L563.0,319.7 L562.5,319.7 L562.0,319.8 L561.5,319.8 L561.0,319.8 L560.5,319.9 L560.0,319.9 L559.5,319.9 L559.0,320.0 L558.5,320.0 L558.0,320.0 L557.5,320.1 L557.0,320.1 L556.5,320.2 L556.0,320.2 L555.5,320.2 L555.0,320.3 L554.5,320.3 L554.0,320.3 L553.5,320.4 L553.0,320.4 L552.5,320.5 L552.0,320.5 L551.5,320.5 L551.0,320.6 L550.5,320.6 L550.0,320.6 L549.5,320.7 L549.0,320.7 L548.5,320.8 L548.0,320.8 L547.5,320.8 L547.0,320.9 L546.5,320.9 L546.0,321.0 L545.5,321.0 L545.0,321.0 L544.5,321.1 L544.0,321.1 L543.5,321.2 L543.0,321.2 L542.5,321.2 L542.0,321.3 L541.5,321.3 L541.0,321.4 L540.5,321.4 L540.0,321.5 L539.5,321.5 L539.0,321.6 L538.5,321.6 L538.0,321.6 L537.5,321.7 L537.0,321.7 L536.5,321.8 L536.0,321.8 L535.5,321.9 L535.0,321.9 L534.5,322.0 L534.0,322.0 L533.5,322.1 L533.0,322.2 L532.5,322.2 L532.0,322.3 L531.5,322.3 L531.0,322.4 L530.5,322.4 L530.0,322.5 L529.5,322.5 L529.0,322.6 L528.5,322.7 L528.0,322.7 L527.5,322.8 L527.0,322.8 L526.5,322.9 L526.0,322.9 L525.5,323.0 L525.0,323.1 L524.5,323.1 L524.0,323.2 L523.5,323.2 L523.0,323.3 L522.5,323.4 L522.0,323.4 L521.5,323.5 L521.0,323.6 L520.5,323.6 L520.0,323.7 L519.5,323.8 L519.0,323.8 L518.5,323.9 L518.0,323.9 L517.5,324.0 L517.0,324.1 L516.5,324.1 L516.0,324.2 L515.5,324.3 L515.0,324.4 L514.5,324.4 L514.0,324.5 L513.5,324.6 L513.0,324.6 L512.5,324.7 L512.0,324.8 L511.5,324.9 L511.0,325.0 L510.5,325.1 L510.0,325.2 L509.5,325.3 L509.0,325.4 L508.5,325.5 L508.0,325.7 L507.5,325.8 L507.0,325.9 L506.5,326.1 L506.0,326.2 L505.5,326.3 L505.0,326.5 L504.5,326.6 Z" fill="rgb(125,45,175)" fill-opacity="0.42" stroke="rgb(125,45,175)" stroke-opacity="0.42" stroke-width="1.3"/><path d="M504.5,322.3 L505.0,322.2 L505.5,322.1 L506.0,322.1 L506.5,322.0 L507.0,321.9 L507.5,321.8 L508.0,321.8 L508.5,321.7 L509.0,321.6 L509.5,321.5 L510.0,321.5 L510.5,321.4 L511.0,321.3 L511.5,321.2 L512.0,321.2 L512.5,321.1 L513.0,321.0 L513.5,320.9 L514.0,320.9 L514.5,320.8 L515.0,320.7 L515.5,320.7 L516.0,320.6 L516.5,320.5 L517.0,320.5 L517.5,320.4 L518.0,320.3 L518.5,320.3 L519.0,320.2 L519.5,320.1 L520.0,320.1 L520.5,320.0 L521.0,319.9 L521.5,319.9 L522.0,319.8 L522.5,319.8 L523.0,319.7 L523.5,319.6 L524.0,319.6 L524.5,319.5 L525.0,319.5 L525.5,319.4 L526.0,319.3 L526.5,319.3 L527.0,319.2 L527.5,319.2 L528.0,319.1 L528.5,319.1 L529.0,319.0 L529.5,319.0 L530.0,318.9 L530.5,318.9 L531.0,318.8 L531.5,318.8 L532.0,318.7 L532.5,318.7 L533.0,318.6 L533.5,318.6 L534.0,318.5 L534.5,318.5 L535.0,318.5 L535.5,318.4 L536.0,318.4 L536.5,318.3 L537.0,318.3 L537.5,318.3 L538.0,318.2 L538.5,318.2 L539.0,318.2 L539.5,318.1 L540.0,318.1 L540.5,318.0 L541.0,318.0 L541.5,318.0 L542.0,317.9 L542.5,317.9 L543.0,317.9 L543.5,317.8 L544.0,317.8 L544.5,317.7 L545.0,317.7 L545.5,317.7 L546.0,317.6 L546.5,317.6 L547.0,317.5 L547.5,317.5 L548.0,317.5 L548.5,317.4 L549.0,317.4 L549.5,317.4 L550.0,317.3 L550.5,317.3 L551.0,317.2 L551.5,317.2 L552.0,317.2 L552.5,317.1 L553.0,317.0 L553.5,317.0 L554.0,316.9 L554.5,316.8 L555.0,316.8 L555.5,316.7 L556.0,316.6 L556.5,316.5 L557.0,316.5 L557.5,316.4 L558.0,316.3 L558.5,316.2 L559.0,316.1 L559.5,316.0 L560.0,315.9 L560.5,315.8 L561.0,315.7 L561.5,315.6 L562.0,315.4 L562.5,315.3 L563.0,315.2 L563.5,315.1 L564.0,315.0 L564.5,314.9 L565.0,314.8 L565.5,314.7 L566.0,314.5 L566.5,314.4 L567.0,314.3 L567.5,314.1 L568.0,313.9 L568.5,313.7 L569.0,313.5 L569.5,313.2 L570.0,312.9 L570.5,312.6 L571.0,312.3 L571.5,311.9 L572.0,311.6 L572.5,311.2 L573.0,310.8 L573.5,310.4 L574.0,310.0 L574.5,309.6 L575.0,309.1 L575.5,308.7 L576.0,308.3 L576.5,307.8 L577.0,307.4 L577.5,306.9 L578.0,306.5 L578.5,306.0 L579.0,305.5 L579.5,305.1 L580.0,304.6 L580.5,304.1 L581.0,303.7 L581.5,303.3 L582.0,302.8 L582.5,302.4 L583.0,302.0 L583.5,301.6 L584.0,301.2 L584.5,300.7 L585.0,300.2 L585.5,299.7 L586.0,299.1 L586.5,298.5 L587.0,297.8 L587.5,297.0 L588.0,296.1 L588.5,295.0 L589.0,293.8 L589.5,292.3 L590.0,290.6 L590.5,288.7 L591.0,286.6 L591.5,284.3 L592.0,281.9 L592.5,279.3 L593.0,276.7 L593.5,274.1 L594.0,271.0 L594.5,267.4 L595.0,263.3 L595.5,259.3 L596.0,255.2 L596.5,250.8 L597.0,246.4 L597.5,242.5 L598.0,239.5 L598.5,237.2 L599.0,235.5 L599.5,234.2 L600.0,233.1 L600.5,232.0 L601.0,231.0 L601.5,230.2 L602.0,229.5 L602.5,229.1 L603.0,228.8 L603.5,228.8 L604.0,229.1 L604.5,229.6 L605.0,230.4 L605.5,231.5 L606.0,232.9 L606.5,234.8 L607.0,237.2 L607.5,240.0 L608.0,243.3 L608.5,247.0 L609.0,250.9 L609.5,254.6 L610.0,258.0 L610.5,261.0 L611.0,263.8 L611.5,266.3 L612.0,268.7 L612.5,271.0 L613.0,273.2 L613.5,275.2 L614.0,277.1 L614.5,278.6 L615.0,280.0 L615.5,281.2 L616.0,282.3 L616.5,283.3 L617.0,284.3 L617.5,285.2 L618.0,286.2 L618.5,287.1 L619.0,288.0 L619.5,288.9 L620.0,289.8 L620.5,290.7 L621.0,291.6 L621.5,292.5 L622.0,293.3 L622.5,294.0 L623.0,294.7 L623.5,295.4 L624.0,296.0 L624.5,296.5 L625.0,297.0 L625.5,297.6 L626.0,298.0 L626.5,298.5 L627.0,299.0 L627.5,299.4 L628.0,299.8 L628.5,300.3 L629.0,300.7 L629.5,301.1 L630.0,301.5 L630.5,301.9 L631.0,302.3 L631.5,302.7 L632.0,303.1 L632.5,303.5 L633.0,303.8 L633.5,304.2 L634.0,304.5 L634.5,304.9 L635.0,305.2 L635.5,305.5 L636.0,305.8 L636.5,306.1 L637.0,306.4 L637.5,306.7 L638.0,307.0 L638.5,307.3 L639.0,307.6 L639.5,307.9 L640.0,308.2 L640.5,308.5 L641.0,308.7 L641.5,309.0 L642.0,309.2 L642.5,309.5 L643.0,309.7 L643.5,309.9 L644.0,310.1 L644.5,310.2 L645.0,310.4 L645.5,310.5 L646.0,310.7 L646.5,310.8 L647.0,311.0 L647.5,311.1 L648.0,311.2 L648.5,311.3 L649.0,311.4 L649.5,311.5 L650.0,311.6 L650.5,311.7 L651.0,311.8 L651.5,311.9 L652.0,311.9 L652.5,312.0 L653.0,312.1 L653.5,312.1 L654.0,312.2 L654.5,312.3 L655.0,312.3 L655.5,312.4 L656.0,312.4 L656.5,312.5 L657.0,312.5 L657.5,312.6 L658.0,312.6 L658.5,312.6 L659.0,312.7 L659.5,312.7 L660.0,312.8 L660.5,312.8 L661.0,312.8 L661.5,312.9 L662.0,312.9 L662.5,312.9 L663.0,313.0 L663.5,313.0 L664.0,313.0 L664.5,313.0 L665.0,313.1 L665.5,313.1 L666.0,313.1 L666.5,313.2 L667.0,313.2 L667.5,313.2 L668.0,313.2 L668.5,313.3 L669.0,313.3 L669.5,313.3 L670.0,313.3 L670.5,313.4 L671.0,313.4 L671.5,313.4 L672.0,313.4 L672.5,313.4 L673.0,313.5 L673.5,313.5 L674.0,313.5 L674.5,313.5 L675.0,313.6 L675.5,313.6 L676.0,313.6 L676.5,313.6 L677.0,313.6 L677.5,313.7 L678.0,313.7 L678.5,313.7 L679.0,313.7 L679.5,313.8 L680.0,313.8 L680.5,313.8 L681.0,313.8 L681.5,313.8 L682.0,313.9 L682.5,313.9 L683.0,313.9 L683.5,313.9 L684.0,314.0 L684.5,314.0 L685.0,314.0 L685.0,316.2 L684.5,316.2 L684.0,316.3 L683.5,316.3 L683.0,316.3 L682.5,316.3 L682.0,316.4 L681.5,316.4 L681.0,316.4 L680.5,316.5 L680.0,316.5 L679.5,316.5 L679.0,316.5 L678.5,316.6 L678.0,316.6 L677.5,316.6 L677.0,316.6 L676.5,316.7 L676.0,316.7 L675.5,316.7 L675.0,316.7 L674.5,316.7 L674.0,316.8 L673.5,316.8 L673.0,316.8 L672.5,316.8 L672.0,316.8 L671.5,316.9 L671.0,316.9 L670.5,316.9 L670.0,316.9 L669.5,316.9 L669.0,316.9 L668.5,316.9 L668.0,317.0 L667.5,317.0 L667.0,317.0 L666.5,317.0 L666.0,317.0 L665.5,317.0 L665.0,317.0 L664.5,317.0 L664.0,317.0 L663.5,317.1 L663.0,317.1 L662.5,317.1 L662.0,317.1 L661.5,317.1 L661.0,317.1 L660.5,317.1 L660.0,317.1 L659.5,317.1 L659.0,317.1 L658.5,317.2 L658.0,317.2 L657.5,317.2 L657.0,317.2 L656.5,317.2 L656.0,317.2 L655.5,317.2 L655.0,317.2 L654.5,317.2 L654.0,317.2 L653.5,317.3 L653.0,317.3 L652.5,317.3 L652.0,317.3 L651.5,317.3 L651.0,317.3 L650.5,317.3 L650.0,317.3 L649.5,317.3 L649.0,317.3 L648.5,317.3 L648.0,317.4 L647.5,317.4 L647.0,317.4 L646.5,317.4 L646.0,317.4 L645.5,317.4 L645.0,317.4 L644.5,317.4 L644.0,317.4 L643.5,317.4 L643.0,317.4 L642.5,317.5 L642.0,317.5 L641.5,317.5 L641.0,317.5 L640.5,317.5 L640.0,317.5 L639.5,317.5 L639.0,317.5 L638.5,317.5 L638.0,317.5 L637.5,317.6 L637.0,317.6 L636.5,317.6 L636.0,317.6 L635.5,317.6 L635.0,317.6 L634.5,317.6 L634.0,317.6 L633.5,317.6 L633.0,317.7 L632.5,317.7 L632.0,317.7 L631.5,317.7 L631.0,317.7 L630.5,317.7 L630.0,317.7 L629.5,317.7 L629.0,317.7 L628.5,317.8 L628.0,317.8 L627.5,317.8 L627.0,317.8 L626.5,317.8 L626.0,317.8 L625.5,317.8 L625.0,317.8 L624.5,317.8 L624.0,317.9 L623.5,317.9 L623.0,317.9 L622.5,317.9 L622.0,317.9 L621.5,317.9 L621.0,317.9 L620.5,317.9 L620.0,317.9 L619.5,317.9 L619.0,318.0 L618.5,318.0 L618.0,318.0 L617.5,318.0 L617.0,318.0 L616.5,318.0 L616.0,318.0 L615.5,318.0 L615.0,318.0 L614.5,318.0 L614.0,318.0 L613.5,318.0 L613.0,318.0 L612.5,318.0 L612.0,318.0 L611.5,318.0 L611.0,318.0 L610.5,318.0 L610.0,318.0 L609.5,318.0 L609.0,317.9 L608.5,317.9 L608.0,317.9 L607.5,317.9 L607.0,317.9 L606.5,317.9 L606.0,317.9 L605.5,317.8 L605.0,317.8 L604.5,317.8 L604.0,317.8 L603.5,317.8 L603.0,317.8 L602.5,317.8 L602.0,317.8 L601.5,317.8 L601.0,317.8 L600.5,317.8 L600.0,317.8 L599.5,317.8 L599.0,317.8 L598.5,317.8 L598.0,317.8 L597.5,317.8 L597.0,317.9 L596.5,317.9 L596.0,317.9 L595.5,317.9 L595.0,317.9 L594.5,317.9 L594.0,317.9 L593.5,317.9 L593.0,318.0 L592.5,318.0 L592.0,318.0 L591.5,318.0 L591.0,318.0 L590.5,318.0 L590.0,318.1 L589.5,318.1 L589.0,318.1 L588.5,318.1 L588.0,318.1 L587.5,318.2 L587.0,318.2 L586.5,318.2 L586.0,318.2 L585.5,318.2 L585.0,318.3 L584.5,318.3 L584.0,318.3 L583.5,318.3 L583.0,318.4 L582.5,318.4 L582.0,318.4 L581.5,318.4 L581.0,318.4 L580.5,318.5 L580.0,318.5 L579.5,318.5 L579.0,318.6 L578.5,318.6 L578.0,318.6 L577.5,318.6 L577.0,318.7 L576.5,318.7 L576.0,318.7 L575.5,318.8 L575.0,318.8 L574.5,318.8 L574.0,318.9 L573.5,318.9 L573.0,318.9 L572.5,319.0 L572.0,319.0 L571.5,319.0 L571.0,319.1 L570.5,319.1 L570.0,319.1 L569.5,319.2 L569.0,319.2 L568.5,319.3 L568.0,319.3 L567.5,319.3 L567.0,319.4 L566.5,319.4 L566.0,319.4 L565.5,319.5 L565.0,319.5 L564.5,319.6 L564.0,319.6 L563.5,319.6 L563.0,319.7 L562.5,319.7 L562.0,319.8 L561.5,319.8 L561.0,319.8 L560.5,319.9 L560.0,319.9 L559.5,319.9 L559.0,320.0 L558.5,320.0 L558.0,320.0 L557.5,320.1 L557.0,320.1 L556.5,320.2 L556.0,320.2 L555.5,320.2 L555.0,320.3 L554.5,320.3 L554.0,320.3 L553.5,320.4 L553.0,320.4 L552.5,320.5 L552.0,320.5 L551.5,320.5 L551.0,320.6 L550.5,320.6 L550.0,320.6 L549.5,320.7 L549.0,320.7 L548.5,320.8 L548.0,320.8 L547.5,320.8 L547.0,320.9 L546.5,320.9 L546.0,321.0 L545.5,321.0 L545.0,321.0 L544.5,321.1 L544.0,321.1 L543.5,321.2 L543.0,321.2 L542.5,321.2 L542.0,321.3 L541.5,321.3 L541.0,321.4 L540.5,321.4 L540.0,321.5 L539.5,321.5 L539.0,321.6 L538.5,321.6 L538.0,321.6 L537.5,321.7 L537.0,321.7 L536.5,321.8 L536.0,321.8 L535.5,321.9 L535.0,321.9 L534.5,322.0 L534.0,322.0 L533.5,322.1 L533.0,322.2 L532.5,322.2 L532.0,322.3 L531.5,322.3 L531.0,322.4 L530.5,322.4 L530.0,322.5 L529.5,322.5 L529.0,322.6 L528.5,322.7 L528.0,322.7 L527.5,322.8 L527.0,322.8 L526.5,322.9 L526.0,322.9 L525.5,323.0 L525.0,323.1 L524.5,323.1 L524.0,323.2 L523.5,323.2 L523.0,323.3 L522.5,323.4 L522.0,323.4 L521.5,323.5 L521.0,323.6 L520.5,323.6 L520.0,323.7 L519.5,323.8 L519.0,323.8 L518.5,323.9 L518.0,323.9 L517.5,324.0 L517.0,324.1 L516.5,324.1 L516.0,324.2 L515.5,324.3 L515.0,324.4 L514.5,324.4 L514.0,324.5 L513.5,324.6 L513.0,324.6 L512.5,324.7 L512.0,324.8 L511.5,324.9 L511.0,325.0 L510.5,325.1 L510.0,325.2 L509.5,325.3 L509.0,325.4 L508.5,325.5 L508.0,325.7 L507.5,325.8 L507.0,325.9 L506.5,326.1 L506.0,326.2 L505.5,326.3 L505.0,326.5 L504.5,326.6 Z" fill="rgb(195,29,100)" fill-opacity="0.42" stroke="rgb(195,29,100)" stroke-opacity="0.42" stroke-width="1.3"/></g>
<g clip-path="url(#ca)" fill="none" stroke-width="2.00" stroke-linejoin="round" stroke-linecap="round"><path d="M17.30,167.90 C21.08,167.68 34.55,167.12 40.00,166.60 C45.45,166.08 47.50,165.52 50.00,164.80 C52.50,164.08 53.67,163.43 55.00,162.30 C56.33,161.17 57.08,159.88 58.00,158.00 C58.92,156.12 59.83,153.17 60.50,151.00 C61.17,148.83 61.53,147.67 62.00,145.00 C62.47,142.33 62.92,138.33 63.30,135.00 C63.68,131.67 63.92,130.83 64.30,125.00 C64.68,119.17 65.25,106.67 65.60,100.00 C65.95,93.33 66.12,89.67 66.40,85.00 C66.68,80.33 66.98,75.83 67.30,72.00 C67.62,68.17 67.95,64.80 68.30,62.00 C68.65,59.20 69.05,56.20 69.40,55.20 C69.75,54.20 70.03,55.78 70.40,56.00 C70.77,56.22 71.20,57.50 71.60,56.50 C72.00,55.50 72.43,53.08 72.80,50.00 C73.17,46.92 73.47,42.08 73.80,38.00 C74.13,33.92 74.45,28.83 74.80,25.50 C75.15,22.17 75.57,19.70 75.90,18.00 C76.23,16.30 76.50,15.43 76.80,15.30 C77.10,15.17 77.43,15.83 77.70,17.20 C77.97,18.57 78.13,19.70 78.40,23.50 C78.67,27.30 78.88,33.92 79.30,40.00 C79.72,46.08 80.35,53.33 80.90,60.00 C81.45,66.67 81.92,73.33 82.60,80.00 C83.28,86.67 84.18,94.17 85.00,100.00 C85.82,105.83 86.73,110.83 87.50,115.00 C88.27,119.17 88.82,121.50 89.60,125.00 C90.38,128.50 91.22,132.67 92.20,136.00 C93.18,139.33 94.23,142.67 95.50,145.00 C96.77,147.33 98.02,148.77 99.80,150.00 C101.58,151.23 104.17,151.58 106.20,152.40 C108.23,153.22 110.00,154.20 112.00,154.90 C114.00,155.60 116.37,156.35 118.20,156.60 C120.03,156.85 121.40,156.48 123.00,156.40 C124.60,156.32 126.47,156.00 127.80,156.10 C129.13,156.20 129.90,156.65 131.00,157.00 C132.10,157.35 132.00,157.80 134.40,158.20 C136.80,158.60 141.75,159.48 145.40,159.40 C149.05,159.32 152.53,158.13 156.30,157.70 C160.07,157.27 164.10,157.25 168.00,156.80 C171.90,156.35 176.78,155.80 179.70,155.00 C182.62,154.20 184.12,153.00 185.50,152.00 C186.88,151.00 187.27,150.20 188.00,149.00 C188.73,147.80 189.10,147.68 189.90,144.80 C190.70,141.92 192.07,135.83 192.80,131.70 C193.53,127.57 193.65,123.95 194.30,120.00 C194.95,116.05 195.88,111.33 196.70,108.00 C197.52,104.67 198.53,101.70 199.20,100.00 C199.87,98.30 200.20,97.87 200.70,97.80 C201.20,97.73 201.62,97.98 202.20,99.60 C202.78,101.22 203.40,103.93 204.20,107.50 C205.00,111.07 206.07,117.67 207.00,121.00 C207.93,124.33 208.70,125.07 209.80,127.50 C210.90,129.93 212.25,133.32 213.60,135.60 C214.95,137.88 216.30,139.55 217.90,141.20 C219.50,142.85 221.23,144.32 223.20,145.50 C225.17,146.68 227.37,147.57 229.70,148.30 C232.03,149.03 234.65,149.60 237.20,149.90 C239.75,150.20 241.87,150.08 245.00,150.10 C248.13,150.12 252.22,150.03 256.00,150.00 C259.78,149.97 264.17,150.03 267.70,149.90 C271.23,149.77 273.82,149.47 277.20,149.20 C280.58,148.93 286.20,148.45 288.00,148.30" stroke="rgb(28,117,208)"/><path d="M17.30,167.90 C27.25,167.87 64.05,167.77 77.00,167.70 C89.95,167.63 89.50,167.58 95.00,167.50 C100.50,167.42 105.13,167.35 110.00,167.20 C114.87,167.05 120.53,166.83 124.20,166.60 C127.87,166.37 129.37,166.10 132.00,165.80 C134.63,165.50 137.00,165.18 140.00,164.80 C143.00,164.42 146.67,164.07 150.00,163.50 C153.33,162.93 156.67,162.05 160.00,161.40 C163.33,160.75 166.67,160.05 170.00,159.60 C173.33,159.15 175.83,158.92 180.00,158.70 C184.17,158.48 187.50,158.45 195.00,158.30 C202.50,158.15 216.83,157.87 225.00,157.80 C233.17,157.73 238.62,158.08 244.00,157.90 C249.38,157.72 253.05,157.30 257.30,156.70 C261.55,156.10 266.05,155.03 269.50,154.30 C272.95,153.57 274.92,153.02 278.00,152.30 C281.08,151.58 286.33,150.38 288.00,150.00" stroke="#d62728"/><path d="M17.30,167.90 C19.42,167.83 25.67,167.82 30.00,167.50 C34.33,167.18 39.63,166.53 43.30,166.00 C46.97,165.47 49.82,165.03 52.00,164.30 C54.18,163.57 55.08,163.07 56.40,161.60 C57.72,160.13 58.88,157.68 59.90,155.50 C60.92,153.32 61.82,150.92 62.50,148.50 C63.18,146.08 63.53,144.92 64.00,141.00 C64.47,137.08 64.87,131.83 65.30,125.00 C65.73,118.17 66.23,107.50 66.60,100.00 C66.97,92.50 67.22,85.33 67.50,80.00 C67.78,74.67 68.00,71.33 68.30,68.00 C68.60,64.67 68.93,61.78 69.30,60.00 C69.67,58.22 70.08,57.55 70.50,57.30 C70.92,57.05 71.42,59.38 71.80,58.50 C72.18,57.62 72.47,55.08 72.80,52.00 C73.13,48.92 73.47,44.25 73.80,40.00 C74.13,35.75 74.45,30.08 74.80,26.50 C75.15,22.92 75.55,20.32 75.90,18.50 C76.25,16.68 76.57,15.77 76.90,15.60 C77.23,15.43 77.60,16.10 77.90,17.50 C78.20,18.90 78.43,20.25 78.70,24.00 C78.97,27.75 79.18,34.00 79.50,40.00 C79.82,46.00 80.17,53.33 80.60,60.00 C81.03,66.67 81.45,73.33 82.10,80.00 C82.75,86.67 83.53,94.00 84.50,100.00 C85.47,106.00 86.78,111.83 87.90,116.00 C89.02,120.17 90.20,121.83 91.20,125.00 C92.20,128.17 92.83,131.67 93.90,135.00 C94.97,138.33 96.27,142.62 97.60,145.00 C98.93,147.38 100.47,148.07 101.90,149.30 C103.33,150.53 104.52,151.22 106.20,152.40 C107.88,153.58 110.03,155.17 112.00,156.40 C113.97,157.63 116.45,159.05 118.00,159.80 C119.55,160.55 119.53,160.70 121.30,160.90 C123.07,161.10 125.93,160.72 128.60,161.00 C131.27,161.28 134.38,162.40 137.30,162.60 C140.22,162.80 142.93,162.67 146.10,162.20 C149.27,161.73 152.65,160.45 156.30,159.80 C159.95,159.15 164.10,158.97 168.00,158.30 C171.90,157.63 176.95,156.60 179.70,155.80 C182.45,155.00 183.20,154.47 184.50,153.50 C185.80,152.53 186.65,151.42 187.50,150.00 C188.35,148.58 189.00,146.93 189.60,145.00 C190.20,143.07 190.30,142.18 191.10,138.40 C191.90,134.62 193.40,127.13 194.40,122.30 C195.40,117.47 196.23,112.95 197.10,109.40 C197.97,105.85 198.93,102.83 199.60,101.00 C200.27,99.17 200.62,98.50 201.10,98.40 C201.58,98.30 201.95,98.57 202.50,100.40 C203.05,102.23 203.75,106.88 204.40,109.40 C205.05,111.92 205.75,113.48 206.40,115.50 C207.05,117.52 207.63,119.32 208.30,121.50 C208.97,123.68 209.70,126.35 210.40,128.60 C211.10,130.85 211.70,132.80 212.50,135.00 C213.30,137.20 214.30,139.87 215.20,141.80 C216.10,143.73 216.92,145.30 217.90,146.60 C218.88,147.90 219.68,148.68 221.10,149.60 C222.52,150.52 224.62,151.37 226.40,152.10 C228.18,152.83 230.00,153.55 231.80,154.00 C233.60,154.45 235.00,154.63 237.20,154.80 C239.40,154.97 241.50,155.03 245.00,155.00 C248.50,154.97 254.42,154.88 258.20,154.60 C261.98,154.32 264.53,153.87 267.70,153.30 C270.87,152.73 273.82,151.83 277.20,151.20 C280.58,150.57 286.20,149.78 288.00,149.50" stroke="#ff7f0e"/></g>
<g clip-path="url(#ca)" fill="none" stroke-width="2.00" stroke-linejoin="round" stroke-linecap="round"><path d="M17.30,335.20 C21.08,335.13 34.68,334.95 40.00,334.80 C45.32,334.65 46.77,334.92 49.20,334.30 C51.63,333.68 53.27,332.70 54.60,331.10 C55.93,329.50 56.58,327.20 57.20,324.70 C57.82,322.20 58.02,319.22 58.30,316.10 C58.58,312.98 58.70,308.68 58.90,306.00 C59.10,303.32 59.15,305.67 59.50,300.00 C59.85,294.33 60.55,282.00 61.00,272.00 C61.45,262.00 61.90,247.83 62.20,240.00 C62.50,232.17 62.50,232.17 62.80,225.00 C63.10,217.83 63.63,203.37 64.00,197.00 C64.37,190.63 64.70,189.03 65.00,186.80 C65.30,184.57 65.50,183.75 65.80,183.60 C66.10,183.45 66.38,182.93 66.80,185.90 C67.22,188.87 67.75,194.63 68.30,201.40 C68.85,208.17 69.65,221.07 70.10,226.50 C70.55,231.93 70.68,233.17 71.00,234.00 C71.32,234.83 71.63,233.08 72.00,231.50 C72.37,229.92 72.67,226.55 73.20,224.50 C73.73,222.45 74.65,219.95 75.20,219.20 C75.75,218.45 75.95,221.07 76.50,220.00 C77.05,218.93 77.80,214.90 78.50,212.80 C79.20,210.70 80.12,207.82 80.70,207.40 C81.28,206.98 81.60,208.32 82.00,210.30 C82.40,212.28 82.60,215.30 83.10,219.30 C83.60,223.30 84.48,229.62 85.00,234.30 C85.52,238.98 85.73,241.12 86.20,247.40 C86.67,253.68 87.25,265.73 87.80,272.00 C88.35,278.27 88.87,281.00 89.50,285.00 C90.13,289.00 90.68,292.33 91.60,296.00 C92.52,299.67 93.65,303.75 95.00,307.00 C96.35,310.25 97.88,313.17 99.70,315.50 C101.52,317.83 102.98,319.42 105.90,321.00 C108.82,322.58 113.72,324.07 117.20,325.00 C120.68,325.93 123.58,326.25 126.80,326.60 C130.02,326.95 133.95,326.97 136.50,327.10 C139.05,327.23 139.15,327.55 142.10,327.40 C145.05,327.25 150.58,326.87 154.20,326.20 C157.82,325.53 160.78,324.27 163.80,323.40 C166.82,322.53 169.88,321.60 172.30,321.00 C174.72,320.40 176.70,320.52 178.30,319.80 C179.90,319.08 180.78,318.22 181.90,316.70 C183.02,315.18 184.18,313.32 185.00,310.70 C185.82,308.08 186.22,303.95 186.80,301.00 C187.38,298.05 187.92,295.00 188.50,293.00 C189.08,291.00 189.50,291.00 190.30,289.00 C191.10,287.00 192.23,284.83 193.30,281.00 C194.37,277.17 195.73,268.58 196.70,266.00 C197.67,263.42 198.30,265.33 199.10,265.50 C199.90,265.67 200.62,266.57 201.50,267.00 C202.38,267.43 203.65,267.43 204.40,268.10 C205.15,268.77 205.47,269.52 206.00,271.00 C206.53,272.48 206.77,273.50 207.60,277.00 C208.43,280.50 209.80,287.65 211.00,292.00 C212.20,296.35 213.17,300.25 214.80,303.10 C216.43,305.95 218.60,307.53 220.80,309.10 C223.00,310.67 225.15,311.50 228.00,312.50 C230.85,313.50 233.03,315.02 237.90,315.10 C242.77,315.18 251.30,313.62 257.20,313.00 C263.10,312.38 268.17,311.87 273.30,311.40 C278.43,310.93 285.55,310.40 288.00,310.20" stroke="rgb(28,117,208)"/><path d="M17.30,335.50 C28.58,335.48 69.55,335.52 85.00,335.40 C100.45,335.28 102.50,335.03 110.00,334.80 C117.50,334.57 124.65,334.32 130.00,334.00 C135.35,333.68 138.07,333.38 142.10,332.90 C146.13,332.42 150.58,331.78 154.20,331.10 C157.82,330.42 160.78,329.48 163.80,328.80 C166.82,328.12 169.28,327.52 172.30,327.00 C175.32,326.48 178.95,326.03 181.90,325.70 C184.85,325.37 185.32,325.35 190.00,325.00 C194.68,324.65 202.50,323.97 210.00,323.60 C217.50,323.23 227.13,323.15 235.00,322.80 C242.87,322.45 250.82,322.20 257.20,321.50 C263.58,320.80 268.17,319.83 273.30,318.60 C278.43,317.37 285.55,314.85 288.00,314.10" stroke="#d62728"/><path d="M17.30,335.20 C20.83,335.02 33.55,334.60 38.50,334.10 C43.45,333.60 44.68,332.97 47.00,332.20 C49.32,331.43 50.97,330.75 52.40,329.50 C53.83,328.25 54.70,326.93 55.60,324.70 C56.50,322.47 57.22,319.15 57.80,316.10 C58.38,313.05 58.75,309.08 59.10,306.40 C59.45,303.72 59.48,305.70 59.90,300.00 C60.32,294.30 61.13,282.20 61.60,272.20 C62.07,262.20 62.43,247.87 62.70,240.00 C62.97,232.13 62.93,232.17 63.20,225.00 C63.47,217.83 63.98,203.37 64.30,197.00 C64.62,190.63 64.83,189.03 65.10,186.80 C65.37,184.57 65.62,183.75 65.90,183.60 C66.18,183.45 66.43,182.87 66.80,185.90 C67.17,188.93 67.57,194.98 68.10,201.80 C68.63,208.62 69.52,221.27 70.00,226.80 C70.48,232.33 70.70,233.80 71.00,235.00 C71.30,236.20 71.50,235.05 71.80,234.00 C72.10,232.95 72.32,230.78 72.80,228.70 C73.28,226.62 74.07,222.87 74.70,221.50 C75.33,220.13 75.97,221.87 76.60,220.50 C77.23,219.13 77.82,215.48 78.50,213.30 C79.18,211.12 80.12,207.90 80.70,207.40 C81.28,206.90 81.60,208.32 82.00,210.30 C82.40,212.28 82.60,215.30 83.10,219.30 C83.60,223.30 84.52,229.62 85.00,234.30 C85.48,238.98 85.57,241.12 86.00,247.40 C86.43,253.68 87.05,265.73 87.60,272.00 C88.15,278.27 88.67,280.98 89.30,285.00 C89.93,289.02 90.50,292.38 91.40,296.10 C92.30,299.82 93.35,303.95 94.70,307.30 C96.05,310.65 97.63,313.73 99.50,316.20 C101.37,318.67 102.95,320.37 105.90,322.10 C108.85,323.83 113.72,325.22 117.20,326.60 C120.68,327.98 123.67,329.58 126.80,330.40 C129.93,331.22 133.45,331.40 136.00,331.50 C138.55,331.60 139.07,331.47 142.10,331.00 C145.13,330.53 150.58,329.67 154.20,328.70 C157.82,327.73 160.78,326.15 163.80,325.20 C166.82,324.25 169.88,323.70 172.30,323.00 C174.72,322.30 176.70,321.83 178.30,321.00 C179.90,320.17 180.90,319.52 181.90,318.00 C182.90,316.48 183.57,314.73 184.30,311.90 C185.03,309.07 185.75,303.73 186.30,301.00 C186.85,298.27 187.22,297.07 187.60,295.50 C187.98,293.93 188.27,292.58 188.60,291.60 C188.93,290.62 189.23,290.20 189.60,289.60 C189.97,289.00 190.22,289.37 190.80,288.00 C191.38,286.63 192.12,285.32 193.10,281.40 C194.08,277.48 195.70,267.68 196.70,264.50 C197.70,261.32 198.30,262.22 199.10,262.30 C199.90,262.38 200.62,264.28 201.50,265.00 C202.38,265.72 203.68,265.93 204.40,266.60 C205.12,267.27 205.27,267.35 205.80,269.00 C206.33,270.65 206.70,272.43 207.60,276.50 C208.50,280.57 210.00,288.77 211.20,293.40 C212.40,298.03 213.20,301.28 214.80,304.30 C216.40,307.32 218.58,309.72 220.80,311.50 C223.02,313.28 225.73,314.13 228.10,315.00 C230.47,315.87 232.83,316.03 235.00,316.70 C237.17,317.37 237.40,318.55 241.10,319.00 C244.80,319.45 251.83,319.73 257.20,319.40 C262.57,319.07 268.17,318.07 273.30,317.00 C278.43,315.93 285.55,313.67 288.00,313.00" stroke="#ff7f0e"/></g>
<g clip-path="url(#cbl)" fill="none" stroke-width="2.00" stroke-linejoin="round" stroke-linecap="round"><path d="M314.5,165.6 L315.3,165.1 L316.1,164.7 L316.9,164.7 L317.7,164.7 L318.5,164.6 L319.3,164.9 L320.1,164.8 L320.9,164.6 L321.7,164.8 L322.5,164.6 L323.3,164.0 L324.1,163.9 L324.9,164.3 L325.7,164.4 L326.5,164.0 L327.3,163.8 L328.0,163.7 L328.8,163.9 L329.6,163.9 L330.4,163.7 L331.2,164.0 L332.0,164.1 L332.8,163.9 L333.6,163.6 L334.4,163.2 L335.2,162.9 L336.0,162.7 L336.8,162.7 L337.5,162.7 L338.3,162.3 L339.1,162.0 L339.9,161.7 L340.6,161.4 L341.4,161.3 L342.2,161.1 L342.9,160.9 L343.7,161.1 L344.5,161.3 L345.2,160.8 L345.9,160.0 L346.7,159.4 L347.4,159.3 L348.1,159.5 L348.9,158.9 L349.6,158.2 L350.3,158.3 L350.9,158.2 L351.6,157.6 L352.3,156.9 L352.9,156.3 L353.5,155.5 L354.2,154.7 L354.7,154.3 L355.3,154.1 L355.8,153.8 L356.3,153.3 L356.7,152.6 L357.1,151.8 L357.5,150.9 L357.8,150.1 L358.2,149.6 L358.5,148.9 L358.8,147.9 L359.1,147.2 L359.4,146.6 L359.7,146.2 L360.0,145.8 L360.3,144.8 L360.6,143.1 L360.9,141.9 L361.2,141.5 L361.4,141.2 L361.7,140.7 L362.0,139.6 L362.3,138.3 L362.5,137.9 L362.8,137.6 L363.1,136.9 L363.3,136.1 L363.6,135.1 L363.8,134.3 L364.0,133.7 L364.3,133.0 L364.5,132.2 L364.7,131.2 L365.0,130.4 L365.2,129.8 L365.4,129.2 L365.6,128.7 L365.8,128.0 L366.0,126.8 L366.2,125.7 L366.4,124.9 L366.6,124.4 L366.7,123.6 L366.9,122.7 L367.0,121.8 L367.1,121.1 L367.2,120.4 L367.4,119.7 L367.5,119.1 L367.6,118.4 L367.7,117.3 L367.8,116.2 L367.9,115.6 L368.0,114.9 L368.1,113.8 L368.1,113.0 L368.2,112.2 L368.3,111.3 L368.4,110.9 L368.5,110.2 L368.6,109.2 L368.7,108.2 L368.7,107.3 L368.8,106.4 L368.9,105.7 L369.0,105.4 L369.0,104.8 L369.1,103.6 L369.2,102.8 L369.2,102.6 L369.3,101.8 L369.4,100.4 L369.4,100.0 L369.5,99.6 L369.5,98.3 L369.6,97.1 L369.7,96.5 L369.7,95.7 L369.8,94.5 L369.9,93.7 L369.9,93.4 L370.0,92.7 L370.1,91.7 L370.1,90.8 L370.2,90.0 L370.3,89.4 L370.3,88.6 L370.4,87.7 L370.4,87.0 L370.5,86.5 L370.6,85.8 L370.6,84.8 L370.7,83.9 L370.7,83.1 L370.8,82.4 L370.9,81.6 L371.0,80.7 L371.0,79.4 L371.1,78.3 L371.2,78.4 L371.3,78.2 L371.3,77.0 L371.4,75.8 L371.5,74.9 L371.6,74.1 L371.7,73.2 L371.8,72.2 L371.9,71.3 L372.0,70.7 L372.1,70.1 L372.2,69.4 L372.3,68.7 L372.4,68.0 L372.5,67.3 L372.7,66.8 L372.8,65.9 L372.9,64.3 L373.0,63.5 L373.2,63.6 L373.3,63.2 L373.5,61.8 L373.7,60.7 L374.0,60.1 L374.2,59.6 L374.4,58.7 L374.7,57.8 L375.0,56.8 L375.3,55.9 L375.5,55.4 L375.7,55.1 L375.9,54.4 L376.1,53.2 L376.2,52.2 L376.4,51.7 L376.6,51.0 L376.7,50.1 L376.9,49.4 L377.0,48.8 L377.3,48.2 L377.6,47.7 L378.1,47.0 L378.6,45.8 L379.0,44.7 L379.3,44.3 L379.5,43.8 L379.8,43.2 L380.0,42.4 L380.3,41.4 L380.5,40.5 L380.7,39.9 L380.9,39.2 L381.0,37.7 L381.2,36.3 L381.3,35.6 L381.5,35.1 L381.6,34.8 L381.7,34.5 L381.8,33.4 L382.0,32.3 L382.1,31.8 L382.2,30.8 L382.3,29.9 L382.4,29.6 L382.6,28.9 L382.7,28.0 L382.9,27.5 L383.1,26.8 L383.3,26.1 L383.5,25.4 L383.8,24.5 L384.0,23.3 L384.1,22.4 L384.3,22.1 L384.5,21.0 L384.7,19.9 L384.9,19.1 L385.2,18.4 L385.4,17.9 L385.7,17.3 L386.1,16.9 L386.6,16.4 L387.4,15.8 L388.0,15.7 L388.4,16.3 L388.7,17.1 L388.9,18.0 L389.1,19.2 L389.3,20.0 L389.5,20.6 L389.7,21.3 L389.9,21.8 L390.1,22.8 L390.3,24.1 L390.5,24.9 L390.7,25.7 L390.9,26.5 L391.1,26.8 L391.3,27.5 L391.4,28.0 L391.6,28.8 L391.8,30.3 L392.0,31.1 L392.2,31.7 L392.3,33.0 L392.5,33.8 L392.7,34.1 L392.9,34.7 L393.0,35.3 L393.2,36.0 L393.4,37.1 L393.6,38.0 L393.7,38.9 L393.9,39.9 L394.1,40.6 L394.2,41.2 L394.4,41.9 L394.5,42.6 L394.7,43.8 L394.8,44.9 L395.0,45.6 L395.1,46.0 L395.3,46.3 L395.4,46.7 L395.6,47.7 L395.7,49.0 L395.9,50.0 L396.1,50.7 L396.2,51.2 L396.4,51.8 L396.5,52.9 L396.7,53.9 L396.9,54.6 L397.1,55.3 L397.2,56.0 L397.4,56.6 L397.6,57.2 L397.8,58.1 L398.0,59.0 L398.1,59.9 L398.3,60.7 L398.5,61.3 L398.7,62.0 L398.9,62.9 L399.1,63.9 L399.3,64.7 L399.5,65.2 L399.7,66.4 L399.9,67.3 L400.1,67.3 L400.3,67.8 L400.5,68.7 L400.8,69.9 L401.0,71.1 L401.2,71.6 L401.5,72.1 L401.7,73.0 L401.9,73.8 L402.2,74.8 L402.5,75.7 L402.7,76.4 L403.0,77.2 L403.3,78.4 L403.5,79.1 L403.8,79.3 L404.1,79.7 L404.4,80.2 L404.7,80.9 L405.0,81.7 L405.3,82.5 L405.6,83.3 L406.0,84.1 L406.3,85.1 L406.6,85.9 L407.0,86.5 L407.3,87.3 L407.6,88.1 L407.9,88.9 L408.2,89.8 L408.5,90.3 L408.8,90.7 L409.0,91.6 L409.3,92.6 L409.6,92.8 L409.9,92.8 L410.1,93.3 L410.4,94.0 L410.7,95.0 L411.0,96.6 L411.3,97.8 L411.6,98.4 L411.9,99.1 L412.2,99.8 L412.5,100.5 L412.8,101.2 L413.1,102.0 L413.4,102.7 L413.7,103.3 L414.1,104.5 L414.4,105.3 L414.7,105.9 L415.0,106.5 L415.3,107.0 L415.6,107.6 L415.9,108.6 L416.2,109.3 L416.5,109.8 L416.8,110.5 L417.1,111.5 L417.5,112.2 L417.8,112.7 L418.1,113.6 L418.5,114.6 L418.8,115.5 L419.2,115.8 L419.6,116.0 L419.9,117.1 L420.3,118.2 L420.7,118.7 L421.1,119.4 L421.5,120.2 L422.0,121.1 L422.4,122.1 L422.8,122.9 L423.2,123.5 L423.5,123.4 L423.9,123.7 L424.3,125.1 L424.7,126.1 L425.0,126.3 L425.4,126.6 L425.8,127.6 L426.1,128.6 L426.6,129.2 L427.0,129.8 L427.5,130.3 L428.0,130.7 L428.6,131.2 L429.2,132.0 L429.8,133.0 L430.4,133.5 L431.0,133.7 L431.6,134.2 L432.2,134.6 L432.9,134.9 L433.5,135.7 L434.2,136.6 L434.9,137.0 L435.5,137.0 L436.2,137.3 L436.9,138.1 L437.6,138.5 L438.4,138.6 L439.1,138.5 L439.8,138.5 L440.5,139.0 L441.3,140.1 L442.0,140.6 L442.7,141.0 L443.4,141.8 L444.2,142.1 L444.9,141.5 L445.6,140.9 L446.3,141.2 L447.1,142.2 L447.8,143.1 L448.6,143.0 L449.4,142.7 L450.1,143.4 L450.9,144.1 L451.7,144.0 L452.4,144.2 L453.2,144.9 L454.0,144.8 L454.8,144.7 L455.5,145.0 L456.3,145.2 L457.1,145.4 L457.9,146.0 L458.7,146.4 L459.4,146.3 L460.2,146.4 L461.0,146.6 L461.8,146.7 L462.6,146.9 L463.3,147.3 L464.1,147.7 L464.9,147.9 L465.7,147.5 L466.4,146.9 L467.2,147.3 L468.0,148.1 L468.8,148.2 L469.6,148.1 L470.4,148.3 L471.2,148.6 L471.9,148.8 L472.7,148.9 L473.5,148.8 L474.3,148.8 L475.1,148.6 L475.9,148.1 L476.7,147.9 L477.4,147.3 L478.2,147.0 L478.9,147.0 L479.6,146.5 L480.4,146.0 L481.1,145.6 L481.8,145.4 L482.5,145.6 L483.3,145.3 L484.0,144.8 L484.8,144.6 L485.6,144.9 L486.4,145.3 L487.2,145.2 L488.0,145.0 L488.8,145.1 L489.6,145.0 L490.4,145.2 L491.2,145.4 L492.0,144.9 L492.7,144.3 L493.5,143.8 L494.3,143.9" stroke="rgb(28,117,208)"/><path d="M314.50,167.70 C324.42,167.63 354.08,167.50 374.00,167.30 C393.92,167.10 420.50,166.75 434.00,166.50 C447.50,166.25 448.17,166.12 455.00,165.80 C461.83,165.48 468.42,165.07 475.00,164.60 C481.58,164.13 491.25,163.27 494.50,163.00" stroke="#d62728"/><path d="M314.50,166.80 C317.55,166.53 328.18,165.75 332.80,165.20 C337.42,164.65 339.38,164.18 342.20,163.50 C345.02,162.82 347.52,162.05 349.70,161.10 C351.88,160.15 353.73,159.13 355.30,157.80 C356.87,156.47 358.00,154.97 359.10,153.10 C360.20,151.23 361.00,148.78 361.90,146.60 C362.80,144.42 363.73,142.43 364.50,140.00 C365.27,137.57 365.87,134.73 366.50,132.00 C367.13,129.27 367.75,127.27 368.30,123.60 C368.85,119.93 369.37,114.47 369.80,110.00 C370.23,105.53 370.55,101.80 370.90,96.80 C371.25,91.80 371.62,84.80 371.90,80.00 C372.18,75.20 372.33,71.22 372.60,68.00 C372.87,64.78 373.12,62.50 373.50,60.70 C373.88,58.90 374.38,57.62 374.90,57.20 C375.42,56.78 376.05,58.07 376.60,58.20 C377.15,58.33 377.62,58.53 378.20,58.00 C378.78,57.47 379.62,56.08 380.10,55.00 C380.58,53.92 380.78,52.75 381.10,51.50 C381.42,50.25 381.63,49.42 382.00,47.50 C382.37,45.58 382.88,43.08 383.30,40.00 C383.72,36.92 384.12,31.70 384.50,29.00 C384.88,26.30 385.18,25.55 385.60,23.80 C386.02,22.05 386.52,19.72 387.00,18.50 C387.48,17.28 388.00,16.58 388.50,16.50 C389.00,16.42 389.55,17.08 390.00,18.00 C390.45,18.92 390.83,20.42 391.20,22.00 C391.57,23.58 391.85,24.50 392.20,27.50 C392.55,30.50 392.83,35.92 393.30,40.00 C393.77,44.08 394.48,48.00 395.00,52.00 C395.52,56.00 395.88,60.00 396.40,64.00 C396.92,68.00 397.42,72.00 398.10,76.00 C398.78,80.00 399.58,84.00 400.50,88.00 C401.42,92.00 402.38,96.33 403.60,100.00 C404.82,103.67 406.23,106.83 407.80,110.00 C409.37,113.17 411.00,115.83 413.00,119.00 C415.00,122.17 417.55,125.67 419.80,129.00 C422.05,132.33 424.13,136.33 426.50,139.00 C428.87,141.67 431.03,143.27 434.00,145.00 C436.97,146.73 440.80,147.63 444.30,149.40 C447.80,151.17 450.70,154.07 455.00,155.60 C459.30,157.13 465.72,158.03 470.10,158.60 C474.48,159.17 477.23,159.05 481.30,159.00 C485.37,158.95 492.30,158.42 494.50,158.30" stroke="#ff7f0e"/></g>
<g clip-path="url(#cbl)" fill="none" stroke-width="2.00" stroke-linejoin="round" stroke-linecap="round"><path d="M314.5,334.0 L315.3,333.7 L316.1,333.6 L316.9,333.9 L317.7,333.5 L318.5,333.4 L319.3,333.7 L320.1,333.3 L320.9,333.1 L321.7,333.3 L322.5,334.0 L323.3,334.4 L324.1,333.7 L324.9,333.2 L325.7,333.3 L326.5,333.3 L327.3,333.4 L328.1,333.5 L328.9,333.1 L329.7,332.9 L330.5,332.7 L331.3,332.8 L332.1,332.8 L332.8,332.5 L333.6,332.4 L334.4,332.4 L335.2,332.0 L336.0,331.6 L336.8,331.5 L337.6,331.6 L338.3,332.0 L339.1,331.7 L339.9,330.8 L340.6,330.6 L341.3,330.9 L342.1,330.8 L342.8,330.2 L343.5,329.4 L344.2,329.2 L344.9,328.9 L345.6,328.5 L346.3,327.9 L346.9,327.3 L347.6,327.5 L348.2,327.2 L348.8,326.2 L349.3,325.5 L349.8,324.8 L350.3,323.9 L350.7,323.5 L351.1,323.0 L351.5,322.0 L351.8,321.2 L352.1,320.6 L352.4,320.2 L352.7,319.5 L353.0,318.4 L353.3,317.7 L353.5,316.7 L353.8,315.5 L354.0,314.9 L354.2,314.4 L354.4,313.8 L354.6,312.8 L354.7,311.6 L354.9,311.0 L355.1,310.2 L355.2,309.4 L355.4,309.1 L355.5,308.5 L355.7,307.5 L355.8,306.8 L355.9,305.9 L356.1,304.9 L356.2,304.3 L356.3,303.5 L356.4,302.2 L356.6,301.6 L356.7,301.1 L356.8,299.8 L356.9,299.2 L357.0,298.9 L357.1,298.4 L357.2,297.6 L357.3,296.3 L357.4,295.3 L357.4,295.2 L357.5,294.5 L357.6,293.3 L357.7,292.5 L357.8,291.9 L357.8,291.1 L357.9,290.4 L358.0,289.4 L358.1,288.3 L358.1,287.8 L358.2,287.1 L358.3,286.2 L358.4,285.2 L358.4,284.1 L358.5,283.7 L358.6,283.0 L358.7,281.9 L358.7,281.2 L358.8,280.8 L358.9,280.7 L359.0,279.9 L359.0,278.4 L359.1,277.1 L359.2,276.2 L359.2,275.4 L359.3,274.6 L359.4,273.7 L359.5,273.0 L359.5,272.3 L359.6,271.4 L359.7,270.5 L359.8,270.1 L359.9,269.7 L359.9,268.3 L360.0,267.3 L360.1,266.9 L360.2,266.2 L360.2,265.6 L360.3,265.0 L360.4,264.4 L360.4,263.2 L360.5,262.1 L360.6,261.3 L360.6,260.2 L360.7,259.4 L360.7,258.6 L360.8,257.9 L360.9,257.4 L360.9,256.8 L360.9,255.8 L361.0,254.8 L361.0,254.3 L361.1,253.7 L361.1,252.5 L361.2,251.3 L361.2,250.5 L361.3,249.4 L361.3,249.0 L361.3,249.4 L361.4,248.8 L361.4,247.6 L361.5,246.4 L361.5,245.6 L361.5,245.0 L361.6,244.1 L361.6,243.1 L361.6,241.8 L361.7,240.8 L361.7,240.5 L361.8,240.2 L361.8,239.4 L361.8,238.5 L361.9,237.8 L361.9,236.5 L362.0,235.5 L362.0,235.0 L362.1,234.0 L362.1,233.0 L362.1,232.6 L362.2,232.1 L362.2,231.3 L362.3,231.0 L362.3,230.8 L362.4,229.7 L362.5,228.1 L362.6,226.7 L362.7,226.2 L362.8,225.7 L363.0,224.5 L363.1,223.6 L363.2,223.0 L363.3,222.2 L363.3,221.4 L363.4,221.1 L363.5,220.5 L363.5,219.3 L363.6,218.3 L363.6,217.7 L363.7,217.1 L363.8,216.0 L363.8,214.7 L363.9,214.0 L363.9,213.7 L364.0,213.1 L364.0,212.4 L364.1,211.3 L364.1,210.0 L364.2,208.9 L364.2,208.5 L364.3,208.3 L364.4,207.5 L364.4,206.7 L364.5,205.9 L364.5,204.6 L364.6,203.5 L364.7,202.8 L364.7,202.5 L364.8,202.1 L364.9,201.1 L365.0,199.9 L365.1,199.3 L365.2,198.5 L365.3,197.4 L365.6,196.3 L365.8,195.5 L366.0,195.1 L366.4,194.3 L367.1,193.8 L367.6,194.6 L368.0,195.5 L368.3,196.3 L368.5,197.2 L368.7,198.0 L368.8,198.5 L369.0,199.6 L369.1,200.9 L369.3,201.3 L369.4,201.6 L369.6,202.3 L369.7,203.2 L369.8,204.4 L370.0,205.4 L370.1,206.3 L370.3,207.1 L370.4,207.8 L370.5,208.5 L370.7,209.0 L370.8,209.4 L371.0,210.0 L371.2,210.6 L371.3,211.5 L371.5,212.8 L371.7,213.4 L371.8,213.9 L372.0,214.5 L372.2,215.2 L372.3,216.4 L372.5,217.4 L372.7,218.3 L372.9,219.1 L373.1,219.8 L373.4,220.7 L373.6,221.5 L373.9,222.1 L374.3,222.8 L374.7,223.7 L375.1,224.3 L375.8,224.3 L376.5,223.5 L376.8,223.3 L377.1,222.9 L377.4,222.1 L377.7,221.6 L377.9,221.2 L378.2,220.2 L378.4,219.1 L378.7,218.0 L378.9,217.0 L379.1,216.3 L379.3,215.5 L379.5,214.9 L379.7,214.1 L379.9,213.2 L380.2,212.1 L380.4,211.3 L380.6,210.7 L380.8,210.0 L381.0,209.3 L381.2,208.7 L381.5,208.2 L381.7,207.9 L381.9,207.4 L382.1,206.3 L382.4,205.4 L382.6,204.6 L382.9,203.1 L383.3,202.1 L383.6,202.0 L384.1,201.6 L384.6,200.9 L385.1,200.1 L385.8,199.3 L386.6,199.2 L387.3,199.7 L388.0,199.3 L388.6,198.6 L389.1,198.1 L389.5,197.0 L389.9,196.1 L390.2,195.5 L390.6,194.6 L390.9,193.9 L391.2,193.3 L391.5,192.7 L391.8,192.3 L392.1,191.4 L392.4,190.2 L392.7,189.4 L393.0,189.0 L393.3,188.2 L393.6,187.4 L394.0,187.0 L394.3,186.3 L394.7,185.4 L395.1,184.6 L395.5,183.4 L396.1,182.9 L396.8,183.5 L397.6,183.6 L398.3,183.9 L398.6,184.7 L398.9,185.6 L399.1,186.3 L399.3,186.9 L399.4,188.3 L399.6,189.8 L399.7,189.9 L399.9,190.0 L400.0,191.2 L400.2,192.5 L400.3,193.4 L400.4,193.8 L400.5,194.5 L400.7,195.6 L400.8,196.2 L400.9,196.5 L401.0,197.5 L401.2,198.6 L401.3,199.4 L401.4,200.1 L401.5,201.0 L401.7,201.8 L401.8,202.5 L401.9,203.1 L402.0,203.8 L402.1,204.8 L402.2,205.8 L402.3,206.7 L402.4,207.7 L402.6,208.3 L402.7,209.2 L402.8,210.2 L402.9,210.7 L403.0,211.1 L403.1,211.7 L403.2,212.8 L403.3,214.0 L403.4,214.8 L403.5,215.3 L403.6,215.5 L403.7,216.1 L403.8,217.1 L403.9,218.2 L404.0,219.8 L404.1,220.4 L404.2,220.3 L404.3,221.0 L404.4,222.0 L404.5,223.0 L404.6,223.9 L404.7,225.0 L404.8,225.9 L404.9,226.1 L405.0,226.6 L405.1,227.7 L405.2,228.7 L405.3,229.6 L405.4,230.3 L405.5,231.2 L405.6,231.9 L405.7,232.4 L405.8,233.2 L405.9,234.6 L406.0,235.8 L406.1,236.3 L406.2,236.6 L406.3,237.4 L406.4,238.0 L406.5,238.5 L406.6,239.7 L406.7,240.9 L406.8,241.2 L406.9,241.7 L407.0,243.0 L407.1,244.3 L407.2,245.1 L407.3,246.0 L407.5,247.0 L407.6,247.7 L407.7,248.0 L407.8,248.4 L407.9,249.1 L408.0,250.0 L408.2,250.8 L408.3,251.6 L408.4,252.6 L408.6,253.3 L408.7,253.9 L408.9,254.5 L409.0,254.8 L409.2,255.5 L409.3,256.8 L409.5,257.8 L409.7,258.8 L409.8,259.6 L410.0,260.3 L410.1,260.9 L410.3,261.7 L410.4,262.7 L410.6,263.4 L410.7,264.1 L410.9,264.6 L411.0,265.2 L411.2,266.3 L411.4,267.3 L411.5,267.6 L411.7,268.1 L411.8,269.3 L412.0,270.4 L412.1,270.8 L412.3,271.6 L412.5,272.6 L412.6,273.4 L412.8,274.5 L412.9,275.4 L413.1,276.0 L413.2,276.7 L413.4,277.6 L413.5,278.1 L413.7,278.5 L413.9,279.1 L414.1,280.3 L414.2,281.7 L414.4,282.4 L414.7,283.1 L414.9,283.8 L415.1,284.3 L415.3,285.1 L415.5,285.6 L415.7,286.0 L415.9,286.9 L416.1,287.8 L416.3,288.8 L416.6,290.2 L416.8,291.2 L417.0,291.5 L417.2,292.0 L417.5,293.0 L417.7,293.7 L418.0,294.2 L418.3,294.6 L418.7,295.3 L419.1,296.1 L419.5,296.7 L419.8,297.4 L420.2,298.3 L420.6,299.3 L421.0,300.0 L421.4,301.0 L421.8,301.4 L422.3,301.5 L422.7,302.3 L423.2,303.6 L423.7,304.3 L424.2,304.6 L424.7,305.2 L425.2,305.8 L425.7,306.4 L426.3,307.2 L426.8,307.6 L427.4,307.4 L427.9,307.9 L428.5,309.1 L429.0,310.0 L429.6,310.4 L430.2,310.4 L430.9,311.1 L431.6,312.0 L432.2,312.2 L432.9,312.5 L433.6,312.9 L434.3,313.1 L435.0,313.6 L435.7,314.2 L436.4,314.1 L437.1,314.3 L437.8,315.1 L438.6,316.0 L439.3,316.4 L440.1,316.6 L440.8,316.7 L441.6,317.0 L442.3,317.5 L443.1,317.9 L443.9,317.6 L444.6,317.5 L445.4,318.1 L446.2,318.2 L446.9,318.0 L447.7,318.2 L448.5,318.8 L449.3,319.4 L450.1,319.0 L450.8,318.7 L451.6,319.1 L452.4,319.6 L453.2,320.0 L454.0,319.9 L454.8,319.5 L455.6,319.6 L456.3,319.8 L457.1,320.0 L457.9,320.0 L458.7,320.1 L459.5,320.5 L460.3,320.7 L461.1,320.9 L461.9,321.7 L462.6,322.0 L463.4,321.9 L464.2,321.8 L465.0,321.5 L465.8,321.7 L466.6,321.9 L467.4,321.9 L468.2,321.8 L469.0,322.0 L469.8,322.2 L470.6,322.5 L471.4,323.1 L472.2,323.4 L473.0,322.9 L473.8,322.5 L474.6,322.0 L475.3,322.2 L476.1,322.9 L476.9,322.8 L477.7,322.8 L478.5,323.3 L479.3,323.6 L480.1,323.8 L480.9,323.9 L481.7,323.3 L482.5,322.9 L483.3,323.2 L484.1,323.4 L484.9,323.2 L485.7,323.2 L486.5,323.6 L487.3,323.9 L488.1,323.5 L488.9,323.1 L489.7,323.2 L490.5,323.2 L491.3,323.6 L492.1,323.7 L492.9,323.4 L493.7,323.4" stroke="rgb(28,117,208)"/><path d="M314.50,335.10 C325.42,335.08 360.75,335.07 380.00,335.00 C399.25,334.93 417.50,334.83 430.00,334.70 C442.50,334.57 447.50,334.38 455.00,334.20 C462.50,334.02 468.42,333.83 475.00,333.60 C481.58,333.37 491.25,332.93 494.50,332.80" stroke="#d62728"/><path d="M314.50,333.20 C316.85,332.90 324.67,332.07 328.60,331.40 C332.53,330.73 335.42,330.05 338.10,329.20 C340.78,328.35 342.88,327.45 344.70,326.30 C346.52,325.15 347.75,323.82 349.00,322.30 C350.25,320.78 351.38,318.92 352.20,317.20 C353.02,315.48 353.22,314.95 353.90,312.00 C354.58,309.05 355.63,303.67 356.30,299.50 C356.97,295.33 357.47,290.58 357.90,287.00 C358.33,283.42 358.43,282.80 358.90,278.00 C359.37,273.20 360.10,266.20 360.70,258.20 C361.30,250.20 362.03,236.05 362.50,230.00 C362.97,223.95 363.08,226.65 363.50,221.90 C363.92,217.15 364.58,205.82 365.00,201.50 C365.42,197.18 365.68,197.17 366.00,196.00 C366.32,194.83 366.57,194.58 366.90,194.50 C367.23,194.42 367.68,194.83 368.00,195.50 C368.32,196.17 368.30,195.75 368.80,198.50 C369.30,201.25 370.22,207.83 371.00,212.00 C371.78,216.17 372.73,220.83 373.50,223.50 C374.27,226.17 374.87,228.12 375.60,228.00 C376.33,227.88 377.10,225.22 377.90,222.80 C378.70,220.38 379.58,216.30 380.40,213.50 C381.22,210.70 382.12,207.50 382.80,206.00 C383.48,204.50 383.87,204.82 384.50,204.50 C385.13,204.18 385.78,204.63 386.60,204.10 C387.42,203.57 388.47,203.18 389.40,201.30 C390.33,199.42 391.27,195.38 392.20,192.80 C393.13,190.22 394.15,187.10 395.00,185.80 C395.85,184.50 396.60,184.83 397.30,185.00 C398.00,185.17 398.58,184.72 399.20,186.80 C399.82,188.88 400.28,192.58 401.00,197.50 C401.72,202.42 402.75,210.55 403.50,216.30 C404.25,222.05 404.78,226.55 405.50,232.00 C406.22,237.45 407.12,244.45 407.80,249.00 C408.48,253.55 408.77,254.90 409.60,259.30 C410.43,263.70 412.02,271.87 412.80,275.40 C413.58,278.93 413.70,278.67 414.30,280.50 C414.90,282.33 415.73,284.57 416.40,286.40 C417.07,288.23 417.67,289.88 418.30,291.50 C418.93,293.12 419.50,294.62 420.20,296.10 C420.90,297.58 421.70,299.15 422.50,300.40 C423.30,301.65 424.08,302.57 425.00,303.60 C425.92,304.63 426.93,305.72 428.00,306.60 C429.07,307.48 430.20,308.03 431.40,308.90 C432.60,309.77 433.77,310.73 435.20,311.80 C436.63,312.87 438.37,314.27 440.00,315.30 C441.63,316.33 443.33,317.22 445.00,318.00 C446.67,318.78 448.33,319.43 450.00,320.00 C451.67,320.57 452.50,320.85 455.00,321.40 C457.50,321.95 461.67,322.70 465.00,323.30 C468.33,323.90 471.67,324.42 475.00,325.00 C478.33,325.58 481.75,326.28 485.00,326.80 C488.25,327.32 492.92,327.88 494.50,328.10" stroke="#ff7f0e"/></g>
<g clip-path="url(#cbr)" fill="none" stroke-width="2.00" stroke-linejoin="round" stroke-linecap="round"><path d="M504.5,141.4 L505.3,141.1 L506.1,140.4 L506.9,139.8 L507.7,139.9 L508.5,140.0 L509.2,139.9 L510.0,139.7 L510.8,139.6 L511.6,139.3 L512.4,139.2 L513.2,139.6 L514.0,140.0 L514.8,139.9 L515.6,139.3 L516.4,138.8 L517.1,138.4 L517.9,138.3 L518.7,138.5 L519.5,138.1 L520.3,137.8 L521.1,138.2 L521.9,138.6 L522.7,138.1 L523.5,137.5 L524.3,137.5 L525.1,137.7 L525.9,137.5 L526.6,137.1 L527.4,137.2 L528.2,137.7 L529.0,137.6 L529.8,136.8 L530.6,136.3 L531.4,136.0 L532.2,135.6 L533.0,135.7 L533.8,136.1 L534.6,136.4 L535.4,136.1 L536.1,135.7 L536.9,135.9 L537.7,135.6 L538.5,135.1 L539.3,135.1 L540.1,135.1 L540.9,135.0 L541.7,134.8 L542.5,134.4 L543.3,134.7 L544.0,135.2 L544.8,135.2 L545.5,134.9 L545.8,134.2 L546.5,133.6 L547.3,133.0 L548.1,132.6 L548.9,132.3 L549.7,132.0 L550.5,132.2 L551.3,132.9 L552.0,133.1 L552.8,133.0 L553.6,132.9 L554.4,132.6 L555.2,132.4 L556.0,132.3 L556.8,132.0 L557.6,132.4 L558.4,132.4 L559.2,131.8 L559.9,131.4 L560.6,131.3 L561.3,131.1 L562.0,130.6 L562.6,130.0 L563.3,129.5 L563.9,128.7 L564.5,128.1 L565.1,127.7 L565.6,126.9 L566.2,126.4 L566.7,126.0 L567.2,125.1 L567.7,124.7 L568.1,124.3 L568.4,123.2 L568.8,121.8 L569.1,120.6 L569.4,120.2 L569.7,119.8 L570.0,119.1 L570.3,118.5 L570.6,117.9 L570.9,117.1 L571.1,116.5 L571.4,115.8 L571.7,114.8 L571.9,114.4 L572.2,114.2 L572.4,113.1 L572.6,111.7 L572.8,111.1 L573.1,110.8 L573.3,110.1 L573.5,109.0 L573.7,107.8 L573.9,107.1 L574.1,106.7 L574.3,105.9 L574.4,104.9 L574.6,104.0 L574.8,103.4 L575.0,102.7 L575.1,101.8 L575.3,101.2 L575.4,100.7 L575.6,99.7 L575.7,98.7 L575.9,98.1 L576.0,97.2 L576.1,96.3 L576.3,95.1 L576.4,94.2 L576.5,93.8 L576.6,93.3 L576.7,92.5 L576.9,91.6 L577.0,90.6 L577.1,89.7 L577.2,89.4 L577.3,89.1 L577.4,88.1 L577.5,86.9 L577.6,86.1 L577.7,85.1 L577.8,84.4 L577.9,83.8 L578.0,82.6 L578.1,81.4 L578.2,80.8 L578.3,80.4 L578.4,79.9 L578.5,79.2 L578.6,78.2 L578.7,77.5 L578.8,76.7 L578.9,75.9 L578.9,75.2 L579.0,74.3 L579.1,73.3 L579.2,72.6 L579.3,71.6 L579.3,70.8 L579.4,70.2 L579.5,69.4 L579.6,68.4 L579.7,67.6 L579.7,67.1 L579.8,66.3 L579.9,65.3 L580.0,64.5 L580.0,63.5 L580.1,63.0 L580.3,62.8 L580.4,61.6 L580.6,60.4 L580.8,59.9 L581.0,59.0 L581.2,58.4 L581.4,57.8 L581.6,56.6 L581.8,55.7 L582.0,55.0 L582.1,54.1 L582.3,53.0 L582.4,52.2 L582.6,52.0 L582.8,51.7 L582.9,51.1 L583.1,50.4 L583.2,49.3 L583.4,48.1 L583.5,47.0 L583.7,45.8 L583.8,45.1 L584.0,44.6 L584.2,44.3 L584.3,43.6 L584.5,42.5 L584.7,41.4 L584.8,40.5 L585.0,40.1 L585.2,39.7 L585.4,38.8 L585.5,38.1 L585.7,37.9 L585.9,37.1 L586.1,35.7 L586.3,34.6 L586.5,33.9 L586.6,33.3 L586.8,32.6 L587.0,32.0 L587.2,31.5 L587.4,30.9 L587.6,30.0 L587.8,28.9 L588.0,27.9 L588.2,27.0 L588.5,26.4 L588.7,26.0 L588.9,25.3 L589.2,24.5 L589.4,23.5 L589.6,22.7 L589.9,22.1 L590.1,21.2 L590.4,20.3 L590.6,19.4 L590.9,18.5 L591.2,17.8 L591.5,17.3 L591.9,16.9 L592.4,16.4 L593.1,15.7 L593.8,15.3 L594.5,16.0 L595.0,17.1 L595.3,17.8 L595.6,18.8 L595.8,19.5 L596.0,20.0 L596.2,21.2 L596.4,22.5 L596.5,22.8 L596.7,23.1 L596.9,23.8 L597.0,24.4 L597.2,25.0 L597.3,26.3 L597.5,27.9 L597.6,28.6 L597.8,29.1 L597.9,30.1 L598.1,31.0 L598.2,31.7 L598.3,32.6 L598.5,33.2 L598.6,33.8 L598.8,34.3 L599.0,34.3 L599.1,35.1 L599.3,36.3 L599.5,36.9 L599.7,37.7 L599.9,38.4 L600.1,39.6 L600.3,41.1 L600.5,41.7 L600.7,42.1 L600.9,43.0 L601.1,43.7 L601.3,44.5 L601.5,45.4 L601.7,46.0 L601.9,46.4 L602.1,47.3 L602.3,48.0 L602.5,48.6 L602.7,49.6 L602.9,50.5 L603.1,51.6 L603.3,52.4 L603.5,53.0 L603.7,53.7 L603.9,54.2 L604.1,54.6 L604.4,55.4 L604.6,56.4 L604.8,57.3 L605.0,58.2 L605.3,58.9 L605.5,59.7 L605.8,61.1 L606.0,62.0 L606.3,62.1 L606.6,62.6 L606.9,63.6 L607.2,64.8 L607.5,65.4 L607.8,65.4 L608.2,65.8 L608.5,66.4 L608.8,67.0 L609.2,67.9 L609.5,68.9 L609.8,69.9 L610.1,71.1 L610.3,71.8 L610.6,71.9 L610.9,72.4 L611.2,73.6 L611.4,74.7 L611.7,74.9 L612.0,75.4 L612.2,76.5 L612.5,77.5 L612.8,78.3 L613.1,79.4 L613.4,80.1 L613.7,80.5 L614.0,81.0 L614.4,81.7 L614.7,82.2 L615.1,82.7 L615.5,83.5 L615.8,84.2 L616.2,84.9 L616.6,86.0 L616.9,87.3 L617.3,88.1 L617.7,88.7 L618.0,89.2 L618.4,89.1 L618.8,89.5 L619.2,90.8 L619.6,92.0 L620.0,92.8 L620.4,93.6 L620.8,94.0 L621.3,94.3 L621.7,95.3 L622.2,96.4 L622.6,96.3 L623.1,96.4 L623.6,97.3 L624.1,98.3 L624.6,99.0 L625.1,99.5 L625.6,99.8 L626.2,100.3 L626.7,101.6 L627.3,102.8 L627.9,102.9 L628.5,102.8 L629.1,103.0 L629.7,103.2 L630.4,104.2 L631.0,104.9 L631.7,105.2 L632.3,105.9 L633.0,106.6 L633.6,107.2 L634.3,107.5 L635.0,107.5 L635.6,107.4 L636.3,107.8 L637.0,108.7 L637.7,109.4 L638.4,110.0 L639.1,110.4 L639.8,110.4 L640.5,110.7 L641.2,111.2 L642.0,111.6 L642.7,112.0 L643.4,112.4 L644.1,112.9 L644.8,113.3 L645.6,113.6 L646.3,114.1 L647.0,114.2 L647.7,114.2 L648.5,114.5 L649.2,114.9 L650.0,115.4 L650.7,115.7 L651.5,115.4 L652.3,115.2 L653.0,115.7 L653.8,116.1 L654.5,116.2 L655.3,116.4 L656.1,116.6 L656.9,116.7 L657.6,117.3 L658.4,117.7 L659.2,117.7 L659.9,117.9 L660.7,118.2 L661.5,118.1 L662.3,117.8 L663.0,118.4 L663.8,119.3 L664.6,120.0 L665.4,120.4 L666.1,120.3 L666.9,120.0 L667.7,120.0 L668.4,120.5 L669.2,121.2 L670.0,121.3 L670.7,121.1 L671.5,121.3 L672.3,121.8 L673.1,121.9 L673.9,121.3 L674.7,120.7 L675.5,120.4 L676.3,120.3 L677.1,120.4 L677.9,120.7 L678.7,120.8 L679.5,120.7 L680.3,120.5 L681.0,120.1 L681.8,119.9 L682.6,119.7 L683.4,119.8 L684.2,120.0" stroke="rgb(28,117,208)"/><path d="M504.50,152.30 C505.08,152.10 505.85,151.55 508.00,151.10 C510.15,150.65 513.73,150.03 517.40,149.60 C521.07,149.17 525.53,148.83 530.00,148.50 C534.47,148.17 539.20,147.88 544.20,147.60 C549.20,147.32 554.03,147.03 560.00,146.80 C565.97,146.57 572.50,146.38 580.00,146.20 C587.50,146.02 598.33,145.95 605.00,145.70 C611.67,145.45 612.50,145.05 620.00,144.70 C627.50,144.35 639.17,143.98 650.00,143.60 C660.83,143.22 679.17,142.60 685.00,142.40" stroke="#d62728"/><path d="M504.50,149.00 C506.42,148.73 511.62,148.05 516.00,147.40 C520.38,146.75 526.10,145.87 530.80,145.10 C535.50,144.33 540.18,143.73 544.20,142.80 C548.22,141.87 552.27,140.53 554.90,139.50 C557.53,138.47 558.65,137.50 560.00,136.60 C561.35,135.70 562.00,135.17 563.00,134.10 C564.00,133.03 565.10,131.63 566.00,130.20 C566.90,128.77 567.65,127.20 568.40,125.50 C569.15,123.80 569.85,121.82 570.50,120.00 C571.15,118.18 571.72,116.52 572.30,114.60 C572.88,112.68 573.47,110.68 574.00,108.50 C574.53,106.32 575.03,103.92 575.50,101.50 C575.97,99.08 576.40,96.58 576.80,94.00 C577.20,91.42 577.55,88.67 577.90,86.00 C578.25,83.33 578.58,80.75 578.90,78.00 C579.22,75.25 579.52,72.28 579.80,69.50 C580.08,66.72 580.15,64.22 580.60,61.30 C581.05,58.38 581.87,55.13 582.50,52.00 C583.13,48.87 583.77,45.33 584.40,42.50 C585.03,39.67 585.68,37.50 586.30,35.00 C586.92,32.50 587.40,30.08 588.10,27.50 C588.80,24.92 589.85,21.28 590.50,19.50 C591.15,17.72 591.52,17.38 592.00,16.80 C592.48,16.22 592.93,16.00 593.40,16.00 C593.87,16.00 594.33,16.22 594.80,16.80 C595.27,17.38 595.75,18.33 596.20,19.50 C596.65,20.67 596.95,21.72 597.50,23.80 C598.05,25.88 598.80,28.88 599.50,32.00 C600.20,35.12 600.90,39.17 601.70,42.50 C602.50,45.83 603.50,49.08 604.30,52.00 C605.10,54.92 605.78,57.33 606.50,60.00 C607.22,62.67 607.92,65.33 608.60,68.00 C609.28,70.67 609.95,73.25 610.60,76.00 C611.25,78.75 611.85,81.83 612.50,84.50 C613.15,87.17 613.83,89.67 614.50,92.00 C615.17,94.33 615.67,96.17 616.50,98.50 C617.33,100.83 618.42,103.58 619.50,106.00 C620.58,108.42 621.80,110.95 623.00,113.00 C624.20,115.05 625.45,116.55 626.70,118.30 C627.95,120.05 629.28,122.10 630.50,123.50 C631.72,124.90 632.75,125.90 634.00,126.70 C635.25,127.50 636.40,127.70 638.00,128.30 C639.60,128.90 641.05,129.23 643.60,130.30 C646.15,131.37 649.68,133.42 653.30,134.70 C656.92,135.98 661.28,137.45 665.30,138.00 C669.32,138.55 674.12,138.15 677.40,138.00 C680.68,137.85 683.73,137.25 685.00,137.10" stroke="#ff7f0e"/></g>
<g clip-path="url(#cbr)" fill="none" stroke-width="2.00" stroke-linejoin="round" stroke-linecap="round"><path d="M504.5,318.2 L505.3,317.9 L506.0,317.5 L506.8,317.4 L507.6,316.9 L508.3,316.3 L509.1,316.4 L509.9,316.6 L510.6,316.3 L511.4,315.8 L512.2,315.8 L512.9,315.7 L513.7,315.5 L514.5,315.1 L515.2,314.6 L516.0,314.5 L516.8,314.5 L517.5,314.6 L518.3,314.4 L519.0,313.6 L519.8,313.1 L520.6,313.0 L521.3,312.8 L522.1,312.6 L522.8,312.9 L523.6,312.9 L524.4,312.3 L525.1,311.8 L525.9,311.5 L526.6,310.9 L527.4,310.6 L528.2,310.8 L528.9,310.2 L529.7,309.4 L530.5,309.5 L531.3,310.3 L532.1,310.6 L532.8,310.1 L533.6,309.6 L534.4,309.4 L535.2,309.1 L536.0,308.9 L536.8,308.7 L537.6,308.7 L538.4,308.9 L539.2,308.9 L540.0,308.7 L540.7,308.7 L541.5,308.4 L542.3,308.4 L543.1,308.0 L543.9,307.3 L544.6,307.3 L545.4,307.2 L546.2,306.9 L547.0,306.7 L547.7,306.4 L548.5,306.5 L549.3,306.5 L550.0,306.4 L550.7,306.4 L551.4,305.7 L552.1,304.7 L552.7,304.1 L553.3,303.6 L553.9,303.1 L554.5,302.8 L555.0,302.0 L555.5,301.6 L555.9,301.5 L556.3,300.7 L556.7,299.8 L557.1,299.0 L557.4,298.2 L557.7,297.4 L558.0,296.4 L558.3,295.5 L558.6,295.0 L558.9,294.5 L559.2,293.3 L559.4,292.2 L559.7,291.2 L559.9,290.2 L560.2,289.7 L560.4,289.5 L560.6,289.2 L560.9,288.0 L561.1,286.9 L561.3,286.5 L561.5,285.8 L561.6,285.0 L561.8,284.3 L562.0,283.4 L562.2,282.7 L562.4,282.2 L562.6,281.3 L562.8,280.2 L563.0,279.3 L563.2,278.5 L563.5,278.1 L563.7,277.6 L564.0,276.9 L564.2,276.0 L564.5,275.3 L564.7,274.6 L565.0,273.6 L565.2,272.6 L565.5,271.8 L565.7,271.1 L566.0,270.7 L566.2,270.3 L566.5,269.1 L566.7,267.6 L566.9,266.8 L567.1,266.2 L567.3,266.1 L567.5,265.5 L567.7,264.4 L567.9,263.6 L568.1,262.8 L568.3,262.3 L568.6,261.7 L569.0,260.4 L569.3,259.4 L569.7,259.2 L570.1,258.7 L570.5,258.1 L571.0,257.3 L571.4,256.0 L571.8,255.1 L572.3,255.0 L572.8,254.2 L573.3,253.1 L573.7,252.7 L574.2,252.6 L574.6,252.0 L575.0,251.3 L575.4,250.6 L575.8,249.4 L576.2,248.4 L576.5,247.6 L576.9,247.0 L577.2,246.4 L577.4,245.7 L577.7,245.1 L577.9,244.3 L578.1,243.7 L578.3,243.3 L578.5,242.9 L578.7,242.1 L578.9,240.9 L579.1,239.8 L579.2,239.1 L579.4,238.7 L579.5,238.0 L579.6,236.8 L579.7,236.0 L579.9,235.1 L580.0,234.2 L580.1,233.5 L580.2,232.8 L580.3,231.9 L580.5,230.7 L580.6,229.9 L580.7,229.3 L580.8,228.5 L580.9,227.7 L581.1,226.8 L581.2,226.0 L581.3,225.2 L581.4,224.6 L581.6,224.5 L581.7,224.1 L581.8,223.3 L582.0,222.3 L582.1,221.5 L582.3,220.7 L582.4,219.5 L582.6,218.2 L582.7,217.3 L582.8,217.0 L583.0,216.4 L583.1,215.3 L583.2,214.3 L583.4,213.5 L583.5,212.7 L583.6,211.8 L583.7,211.1 L583.9,210.5 L584.0,209.3 L584.1,208.5 L584.2,208.4 L584.4,207.8 L584.5,206.7 L584.6,205.8 L584.7,205.0 L584.9,204.4 L585.0,203.7 L585.1,202.6 L585.2,201.5 L585.4,200.9 L585.5,200.5 L585.6,200.2 L585.7,199.4 L585.8,197.9 L585.9,196.5 L586.0,196.1 L586.1,196.0 L586.2,195.1 L586.3,194.4 L586.4,193.8 L586.5,192.5 L586.7,191.4 L586.8,190.5 L587.0,189.8 L587.2,189.5 L587.5,188.7 L587.8,187.6 L588.3,187.2 L588.8,186.7 L589.4,186.1 L590.0,185.4 L590.7,184.8 L591.5,184.5 L592.3,184.6 L593.0,185.3 L593.8,185.6 L594.6,185.1 L595.3,185.1 L596.1,185.7 L596.8,186.3 L597.6,186.7 L598.3,186.6 L599.0,185.8 L599.6,184.6 L600.4,183.9 L601.2,184.0 L601.8,184.5 L602.3,185.2 L602.8,186.4 L603.2,187.1 L603.5,187.5 L603.8,188.2 L604.0,189.3 L604.2,190.0 L604.4,190.2 L604.6,191.0 L604.7,191.9 L604.9,192.6 L605.0,193.5 L605.2,194.7 L605.3,195.8 L605.5,196.3 L605.6,196.5 L605.8,197.3 L605.9,198.3 L606.0,199.0 L606.2,199.9 L606.3,201.0 L606.4,201.6 L606.6,202.2 L606.7,203.1 L606.8,204.1 L607.0,204.9 L607.1,205.6 L607.2,206.4 L607.3,207.1 L607.5,207.9 L607.6,208.8 L607.7,209.8 L607.8,210.3 L608.0,210.5 L608.1,211.7 L608.2,212.9 L608.3,213.4 L608.4,214.2 L608.5,215.0 L608.6,215.6 L608.7,216.5 L608.9,217.7 L609.0,218.3 L609.1,218.6 L609.2,219.4 L609.3,220.7 L609.4,221.3 L609.5,222.3 L609.7,223.5 L609.8,223.6 L609.9,224.2 L610.0,225.9 L610.2,226.8 L610.3,227.5 L610.4,228.5 L610.6,229.0 L610.7,229.6 L610.9,230.2 L611.1,230.8 L611.3,231.8 L611.5,232.9 L611.7,233.8 L611.9,234.3 L612.2,234.6 L612.4,235.6 L612.6,236.8 L612.8,237.4 L613.0,238.0 L613.2,239.1 L613.4,240.1 L613.6,240.5 L613.8,240.8 L613.9,241.5 L614.1,242.7 L614.2,243.5 L614.4,243.7 L614.5,244.4 L614.6,245.5 L614.8,246.4 L614.9,247.3 L615.0,248.6 L615.2,249.2 L615.3,250.0 L615.4,251.1 L615.6,251.7 L615.7,252.1 L615.9,252.8 L616.0,253.4 L616.1,253.9 L616.3,254.8 L616.5,255.6 L616.6,256.4 L616.8,257.6 L617.0,258.1 L617.1,258.5 L617.3,259.5 L617.5,260.4 L617.7,261.2 L617.9,261.8 L618.1,262.6 L618.3,263.9 L618.5,264.8 L618.7,264.9 L618.8,265.5 L619.0,266.7 L619.2,267.7 L619.4,268.4 L619.6,269.3 L619.8,270.4 L619.9,270.9 L620.1,271.3 L620.2,271.9 L620.4,272.8 L620.5,273.6 L620.7,274.3 L620.8,275.2 L621.0,276.2 L621.3,276.7 L621.5,277.4 L621.9,278.4 L622.3,279.1 L622.7,279.3 L623.1,280.0 L623.6,281.2 L624.1,281.6 L624.5,282.0 L625.0,283.1 L625.4,284.1 L625.8,284.3 L626.2,284.6 L626.7,285.7 L627.3,286.6 L627.8,286.9 L628.5,287.5 L629.1,288.2 L629.7,288.5 L630.4,288.8 L631.1,289.3 L631.7,289.8 L632.4,290.3 L633.1,290.7 L633.8,290.7 L634.5,290.8 L635.2,291.5 L635.9,291.7 L636.6,291.6 L637.4,292.3 L638.1,292.9 L638.9,292.8 L639.6,292.5 L640.4,292.9 L641.2,293.4 L641.9,293.5 L642.7,293.6 L643.5,294.3 L644.2,295.0 L645.0,295.1 L645.8,295.1 L646.6,295.4 L647.4,295.8 L648.1,295.8 L648.9,295.8 L649.7,296.0 L650.5,296.5 L651.3,296.7 L652.1,296.5 L652.9,296.2 L653.7,296.3 L654.5,296.7 L655.2,297.0 L656.0,296.9 L656.8,296.3 L657.6,296.2 L658.4,296.6 L659.2,297.2 L660.0,297.3 L660.8,297.2 L661.6,297.0 L662.4,296.7 L663.2,296.7 L664.0,296.6 L664.8,296.4 L665.6,296.5 L666.4,296.7 L667.2,296.4 L668.0,295.8 L668.8,295.7 L669.6,296.1 L670.4,296.0 L671.2,295.4 L672.0,295.4 L672.8,295.9 L673.6,296.2 L674.4,295.8 L675.2,295.5 L676.0,295.7 L676.8,295.7 L677.6,295.7 L678.4,295.7 L679.2,295.6 L680.0,295.7 L680.8,295.8 L681.6,295.8 L682.4,295.5 L683.2,295.2 L684.0,295.3 L684.8,295.5" stroke="rgb(28,117,208)"/><path d="M504.50,326.60 C505.42,326.37 508.07,325.60 510.00,325.20 C511.93,324.80 512.93,324.63 516.10,324.20 C519.27,323.77 524.72,323.08 529.00,322.60 C533.28,322.12 536.63,321.75 541.80,321.30 C546.97,320.85 553.63,320.37 560.00,319.90 C566.37,319.43 573.33,318.85 580.00,318.50 C586.67,318.15 594.17,317.88 600.00,317.80 C605.83,317.72 608.33,318.05 615.00,318.00 C621.67,317.95 630.83,317.68 640.00,317.50 C649.17,317.32 662.50,317.12 670.00,316.90 C677.50,316.68 682.50,316.32 685.00,316.20" stroke="#d62728"/><path d="M504.50,321.50 C506.43,321.23 511.85,320.72 516.10,319.90 C520.35,319.08 526.35,317.55 530.00,316.60 C533.65,315.65 535.32,315.13 538.00,314.20 C540.68,313.27 543.68,312.33 546.10,311.00 C548.52,309.67 550.77,308.08 552.50,306.20 C554.23,304.32 555.43,301.98 556.50,299.70 C557.57,297.42 558.08,295.30 558.90,292.50 C559.72,289.70 560.58,286.12 561.40,282.90 C562.22,279.68 563.07,275.60 563.80,273.20 C564.53,270.80 565.27,269.95 565.80,268.50 C566.33,267.05 566.63,265.85 567.00,264.50 C567.37,263.15 567.47,261.98 568.00,260.40 C568.53,258.82 569.38,256.62 570.20,255.00 C571.02,253.38 571.92,252.13 572.90,250.70 C573.88,249.27 575.27,248.10 576.10,246.40 C576.93,244.70 577.45,242.28 577.90,240.50 C578.35,238.72 578.38,238.28 578.80,235.70 C579.22,233.12 579.83,228.03 580.40,225.00 C580.97,221.97 581.43,221.33 582.20,217.50 C582.97,213.67 584.22,206.42 585.00,202.00 C585.78,197.58 586.38,193.47 586.90,191.00 C587.42,188.53 587.65,188.03 588.10,187.20 C588.55,186.37 589.03,186.03 589.60,186.00 C590.17,185.97 590.75,186.67 591.50,187.00 C592.25,187.33 593.18,188.25 594.10,188.00 C595.02,187.75 595.90,186.18 597.00,185.50 C598.10,184.82 599.78,183.90 600.70,183.90 C601.62,183.90 601.88,184.27 602.50,185.50 C603.12,186.73 603.62,187.53 604.40,191.30 C605.18,195.07 606.27,201.85 607.20,208.10 C608.13,214.35 609.05,222.53 610.00,228.80 C610.95,235.07 612.02,241.42 612.90,245.70 C613.78,249.98 614.38,249.82 615.30,254.50 C616.22,259.18 617.55,269.30 618.40,273.80 C619.25,278.30 619.80,279.50 620.40,281.50 C621.00,283.50 621.12,284.02 622.00,285.80 C622.88,287.58 624.00,290.20 625.70,292.20 C627.40,294.20 629.33,295.87 632.20,297.80 C635.07,299.73 639.33,302.30 642.90,303.80 C646.47,305.30 650.02,305.95 653.60,306.80 C657.18,307.65 660.82,308.30 664.40,308.90 C667.98,309.50 671.67,310.03 675.10,310.40 C678.53,310.77 683.35,310.98 685.00,311.10" stroke="#ff7f0e"/></g>
<g stroke="#1e1e1e" stroke-width="1.20" fill="none" stroke-linecap="square"><rect x="17.7" y="0.55" width="269.7" height="335.7"/><path d="M494.5,0.55 H314.6 V336.25 H494.5"/><path d="M504.5,0.55 H684.3 V336.25 H504.5"/><path d="M46.60,336.25 V339.55"/><path d="M119.70,336.25 V339.55"/><path d="M192.80,336.25 V339.55"/><path d="M265.90,336.25 V339.55"/><path d="M328.80,336.25 V339.55"/><path d="M400.70,336.25 V339.55"/><path d="M472.60,336.25 V339.55"/><path d="M576.00,336.25 V339.55"/><path d="M648.10,336.25 V339.55"/></g>
<g font-family="Liberation Sans, sans-serif" fill="#000" opacity="0.995"><text x="46.60" y="353.6" font-size="13.90" text-anchor="middle">850</text><text x="119.70" y="353.6" font-size="13.90" text-anchor="middle">860</text><text x="192.80" y="353.6" font-size="13.90" text-anchor="middle">870</text><text x="265.90" y="353.6" font-size="13.90" text-anchor="middle">880</text><text x="328.80" y="353.6" font-size="13.90" text-anchor="middle">850</text><text x="400.70" y="353.6" font-size="13.90" text-anchor="middle">855</text><text x="472.60" y="353.6" font-size="13.90" text-anchor="middle">860</text><text x="576.00" y="353.6" font-size="13.90" text-anchor="middle">870</text><text x="648.10" y="353.6" font-size="13.90" text-anchor="middle">875</text><text x="155.3" y="369.8" font-size="14.3" text-anchor="middle">Energy, eV</text><text x="498.6" y="368.5" font-size="14.3" text-anchor="middle">Energy, eV</text><text transform="translate(10.0,233.4) rotate(-90)" font-size="14.4">IPFY intensity, arb.u.</text><text transform="translate(307.3,233.4) rotate(-90)" font-size="14.4">IPFY intensity, arb.u.</text><text x="-0.6" y="19.7" font-size="16" font-weight="bold">a</text><text x="296.1" y="19.4" font-size="15.5" font-weight="bold">b</text><text x="233.5" y="137.1" font-size="13.90">NaNiO<tspan font-size="10.5" dy="2.4">2</tspan></text><text x="240.2" y="300.9" font-size="13.90">LiNiO<tspan font-size="10.5" dy="2.4">2</tspan></text><text x="447.2" y="131.7" font-size="13.90">NaNiO<tspan font-size="10.5" dy="2.4">2</tspan></text><text x="446.2" y="309.3" font-size="13.90">LiNiO<tspan font-size="10.5" dy="2.4">2</tspan></text><text x="196.80" y="22" font-size="15.00">TEY</text><text x="196.80" y="39.90" font-size="15.00">experiment</text><line x1="166.10" x2="183.30" y1="35.80" y2="35.80" stroke="rgb(28,117,208)" stroke-width="2.00"/><text x="196.80" y="57.70" font-size="15.00">background</text><line x1="166.10" x2="183.30" y1="53.60" y2="53.60" stroke="#d62728" stroke-width="2.00"/><text x="196.80" y="75.50" font-size="15.00">model fit</text><line x1="166.10" x2="183.30" y1="71.40" y2="71.40" stroke="#ff7f0e" stroke-width="2.00"/><text x="469.30" y="22" font-size="15.00">IPFY</text><text x="469.30" y="39.90" font-size="15.00">experiment</text><line x1="438.80" x2="456.00" y1="35.80" y2="35.80" stroke="rgb(28,117,208)" stroke-width="2.00"/><text x="469.30" y="57.70" font-size="15.00">background</text><line x1="438.80" x2="456.00" y1="53.60" y2="53.60" stroke="#d62728" stroke-width="2.00"/><text x="469.30" y="75.50" font-size="15.00">model fit</text><line x1="438.80" x2="456.00" y1="71.40" y2="71.40" stroke="#ff7f0e" stroke-width="2.00"/><rect x="107.90" y="195.00" width="17.6" height="11.8" fill="rgb(207,224,193)"/><text x="138.50" y="206.80" font-size="15.00" font-style="italic">S</text><text x="152.20" y="206.80" font-size="15.00">=</text><path d="M170.30,206.80 V196.40 L166.40,199.50" stroke="#000" stroke-width="1.45" fill="none" stroke-linejoin="miter"/><rect x="107.90" y="219.40" width="17.6" height="11.9" fill="rgb(125,45,175)" fill-opacity="0.33"/><text x="138.50" y="231.10" font-size="15.00" font-style="italic">S</text><text x="152.20" y="231.10" font-size="15.00">=</text><path d="M168.40,225.90 V221.20 L166.20,222.90" stroke="#000" stroke-width="1.1" fill="none"/><path d="M167.20,231.70 L175.90,220.30" stroke="#000" stroke-width="1.05" fill="none"/><text x="172.70" y="231.60" font-size="8.8" stroke="#000" stroke-width="0.3">2</text><rect x="107.90" y="243.70" width="17.6" height="11.9" fill="rgb(195,29,100)" fill-opacity="0.33"/><text x="138.50" y="255.40" font-size="15.00" font-style="italic">S</text><text x="152.20" y="255.40" font-size="15.00">=</text><text x="165.60" y="255.40" font-size="15.00">0</text><rect x="442.10" y="195.00" width="17.6" height="11.8" fill="rgb(207,224,193)"/><text x="472.60" y="206.80" font-size="15.00" font-style="italic">S</text><text x="486.30" y="206.80" font-size="15.00">=</text><path d="M504.40,206.80 V196.40 L500.50,199.50" stroke="#000" stroke-width="1.45" fill="none" stroke-linejoin="miter"/><rect x="442.10" y="219.40" width="17.6" height="11.9" fill="rgb(125,45,175)" fill-opacity="0.33"/><text x="472.60" y="231.10" font-size="15.00" font-style="italic">S</text><text x="486.30" y="231.10" font-size="15.00">=</text><path d="M502.50,225.90 V221.20 L500.30,222.90" stroke="#000" stroke-width="1.1" fill="none"/><path d="M501.30,231.70 L510.00,220.30" stroke="#000" stroke-width="1.05" fill="none"/><text x="506.80" y="231.60" font-size="8.8" stroke="#000" stroke-width="0.3">2</text><rect x="442.10" y="243.70" width="17.6" height="11.9" fill="rgb(195,29,100)" fill-opacity="0.33"/><text x="472.60" y="255.40" font-size="15.00" font-style="italic">S</text><text x="486.30" y="255.40" font-size="15.00">=</text><text x="499.70" y="255.40" font-size="15.00">0</text></g>
</svg>
</body></html>
